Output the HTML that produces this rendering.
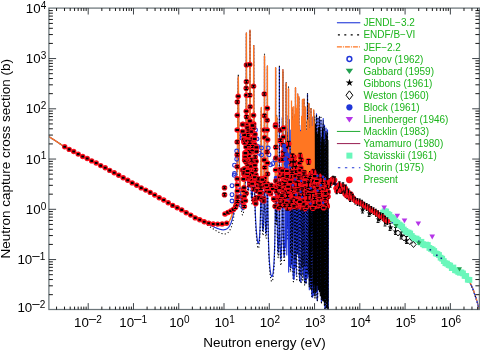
<!DOCTYPE html><html><head><meta charset="utf-8"><title>Neutron capture cross section</title><style>html,body{margin:0;padding:0;background:#fff}svg{display:block}</style></head><body><svg width="480" height="350" viewBox="0 0 480 350">
<rect width="480" height="350" fill="#fff"/>
<defs><clipPath id="c"><rect x="48.9" y="8.1" width="431.1" height="301.4"/></clipPath></defs>
<g clip-path="url(#c)" fill="none" stroke-linejoin="round">
<path d="M48.90 136.59L49.15 136.74L49.40 136.90L49.65 137.06L49.90 137.22L50.15 137.39L50.40 137.55L50.65 137.71L50.90 137.87L51.15 138.03L51.40 138.19L51.65 138.35L51.90 138.51L52.15 138.67L52.40 138.83L52.65 138.99L52.90 139.15L53.15 139.31L53.40 139.47L53.65 139.63L53.90 139.79L54.15 139.95L54.40 140.11L54.65 140.27L54.90 140.43L55.15 140.59L55.40 140.75L55.65 140.91L55.90 141.07L56.15 141.23L56.40 141.40L56.65 141.57L56.90 141.74L57.15 141.91L57.40 142.08L57.65 142.25L57.90 142.42L58.15 142.59L58.40 142.76L58.65 142.93L58.90 143.10L59.15 143.27L59.40 143.44L59.65 143.60L59.90 143.77L60.15 143.94L60.40 144.11L60.65 144.28L60.90 144.45L61.15 144.62L61.40 144.79L61.65 144.96L61.90 145.13L62.15 145.30L62.40 145.47L62.65 145.64L62.90 145.81L63.15 145.97L63.40 146.14L63.65 146.31L63.90 146.48L64.15 146.65L64.40 146.82L64.65 146.99L64.90 147.16L65.15 147.31L65.40 147.44L65.65 147.56L65.90 147.69L66.15 147.82L66.40 147.95L66.65 148.08L66.90 148.21L67.15 148.34L67.40 148.47L67.65 148.60L67.90 148.73L68.15 148.86L68.40 148.99L68.65 149.12L68.90 149.25L69.15 149.38L69.40 149.51L69.65 149.64L69.90 149.77L70.15 149.90L70.40 150.03L70.65 150.16L70.90 150.29L71.15 150.42L71.40 150.55L71.65 150.68L71.90 150.81L72.15 150.94L72.40 151.07L72.65 151.20L72.90 151.33L73.15 151.46L73.40 151.59L73.65 151.72L73.90 151.85L74.15 151.98L74.40 152.11L74.65 152.24L74.90 152.36L75.15 152.49L75.40 152.62L75.65 152.75L75.90 152.88L76.15 153.01L76.40 153.14L76.65 153.27L76.90 153.40L77.15 153.53L77.40 153.66L77.65 153.79L77.90 153.92L78.15 154.05L78.40 154.18L78.65 154.31L78.90 154.44L79.15 154.57L79.40 154.70L79.65 154.83L79.90 154.96L80.15 155.09L80.40 155.22L80.65 155.35L80.90 155.48L81.15 155.61L81.40 155.74L81.65 155.87L81.90 156.00L82.15 156.13L82.40 156.26L82.65 156.39L82.90 156.52L83.15 156.65L83.40 156.78L83.65 156.90L83.90 157.03L84.15 157.16L84.40 157.29L84.65 157.42L84.90 157.55L85.15 157.68L85.40 157.81L85.65 157.94L85.90 158.07L86.15 158.20L86.40 158.33L86.65 158.46L86.90 158.59L87.15 158.72L87.40 158.85L87.65 158.98L87.90 159.11L88.15 159.24L88.40 159.37L88.65 159.50L88.90 159.63L89.15 159.76L89.40 159.89L89.65 160.02L89.90 160.15L90.15 160.28L90.40 160.41L90.65 160.54L90.90 160.67L91.15 160.80L91.40 160.93L91.65 161.06L91.90 161.19L92.15 161.32L92.40 161.45L92.65 161.58L92.90 161.72L93.15 161.85L93.40 161.98L93.65 162.11L93.90 162.24L94.15 162.37L94.40 162.50L94.65 162.63L94.90 162.76L95.15 162.89L95.40 163.02L95.65 163.15L95.90 163.28L96.15 163.41L96.40 163.54L96.65 163.68L96.90 163.81L97.15 163.94L97.40 164.07L97.65 164.20L97.90 164.33L98.15 164.46L98.40 164.59L98.65 164.72L98.90 164.85L99.15 164.98L99.40 165.11L99.65 165.24L99.90 165.37L100.15 165.50L100.40 165.64L100.65 165.77L100.90 165.90L101.15 166.03L101.40 166.16L101.65 166.29L101.90 166.42L102.15 166.55L102.40 166.68L102.65 166.81L102.90 166.94L103.15 167.07L103.40 167.20L103.65 167.33L103.90 167.46L104.15 167.59L104.40 167.73L104.65 167.86L104.90 167.99L105.15 168.12L105.40 168.25L105.65 168.38L105.90 168.51L106.15 168.64L106.40 168.77L106.65 168.90L106.90 169.03L107.15 169.16L107.40 169.29L107.65 169.42L107.90 169.55L108.15 169.68L108.40 169.82L108.65 169.95L108.90 170.08L109.15 170.21L109.40 170.34L109.65 170.47L109.90 170.60L110.15 170.73L110.40 170.86L110.65 170.99L110.90 171.12L111.15 171.25L111.40 171.38L111.65 171.51L111.90 171.64L112.15 171.77L112.40 171.90L112.65 172.04L112.90 172.17L113.15 172.30L113.40 172.43L113.65 172.56L113.90 172.69L114.15 172.82L114.40 172.95L114.65 173.08L114.90 173.21L115.15 173.35L115.40 173.48L115.65 173.62L115.90 173.76L116.15 173.90L116.40 174.04L116.65 174.18L116.90 174.32L117.15 174.45L117.40 174.59L117.65 174.73L117.90 174.87L118.15 175.01L118.40 175.15L118.65 175.28L118.90 175.42L119.15 175.56L119.40 175.70L119.65 175.84L119.90 175.98L120.15 176.12L120.40 176.25L120.65 176.39L120.90 176.53L121.15 176.67L121.40 176.81L121.65 176.95L121.90 177.08L122.15 177.22L122.40 177.36L122.65 177.50L122.90 177.64L123.15 177.78L123.40 177.92L123.65 178.05L123.90 178.19L124.15 178.33L124.40 178.47L124.65 178.61L124.90 178.75L125.15 178.88L125.40 179.02L125.65 179.16L125.90 179.30L126.15 179.44L126.40 179.58L126.65 179.71L126.90 179.85L127.15 179.99L127.40 180.13L127.65 180.27L127.90 180.41L128.15 180.54L128.40 180.68L128.65 180.82L128.90 180.96L129.15 181.10L129.40 181.24L129.65 181.37L129.90 181.51L130.15 181.65L130.40 181.79L130.65 181.93L130.90 182.07L131.15 182.20L131.40 182.34L131.65 182.48L131.90 182.62L132.15 182.76L132.40 182.90L132.65 183.03L132.90 183.17L133.15 183.31L133.40 183.45L133.65 183.59L133.90 183.73L134.15 183.86L134.40 184.00L134.65 184.14L134.90 184.28L135.15 184.42L135.40 184.55L135.65 184.69L135.90 184.83L136.15 184.97L136.40 185.11L136.65 185.24L136.90 185.38L137.15 185.52L137.40 185.66L137.65 185.80L137.90 185.94L138.15 186.07L138.40 186.21L138.65 186.35L138.90 186.49L139.15 186.63L139.40 186.76L139.65 186.90L139.90 187.04L140.15 187.18L140.40 187.32L140.65 187.45L140.90 187.59L141.15 187.73L141.40 187.87L141.65 188.01L141.90 188.14L142.15 188.28L142.40 188.42L142.65 188.56L142.90 188.70L143.15 188.83L143.40 188.97L143.65 189.11L143.90 189.25L144.15 189.38L144.40 189.52L144.65 189.66L144.90 189.80L145.15 189.94L145.40 190.07L145.65 190.21L145.90 190.35L146.15 190.49L146.40 190.63L146.65 190.76L146.90 190.90L147.15 191.04L147.40 191.18L147.65 191.31L147.90 191.45L148.15 191.59L148.40 191.73L148.65 191.86L148.90 192.00L149.15 192.14L149.40 192.28L149.65 192.41L149.90 192.55L150.15 192.69L150.40 192.83L150.65 192.97L150.90 193.10L151.15 193.24L151.40 193.38L151.65 193.52L151.90 193.65L152.15 193.79L152.40 193.93L152.65 194.06L152.90 194.20L153.15 194.34L153.40 194.48L153.65 194.61L153.90 194.75L154.15 194.89L154.40 195.03L154.65 195.16L154.90 195.30L155.15 195.44L155.40 195.58L155.65 195.71L155.90 195.85L156.15 195.99L156.40 196.12L156.65 196.26L156.90 196.40L157.15 196.54L157.40 196.67L157.65 196.81L157.90 196.95L158.15 197.08L158.40 197.22L158.65 197.36L158.90 197.49L159.15 197.63L159.40 197.77L159.65 197.91L159.90 198.04L160.15 198.18L160.40 198.32L160.65 198.45L160.90 198.59L161.15 198.73L161.40 198.86L161.65 199.00L161.90 199.14L162.15 199.27L162.40 199.41L162.65 199.55L162.90 199.68L163.15 199.82L163.40 199.96L163.65 200.09L163.90 200.23L164.15 200.37L164.40 200.50L164.65 200.64L164.90 200.78L165.15 200.91L165.40 201.05L165.65 201.18L165.90 201.32L166.15 201.46L166.40 201.59L166.65 201.73L166.90 201.87L167.15 202.00L167.40 202.14L167.65 202.28L167.90 202.41L168.15 202.55L168.40 202.68L168.65 202.82L168.90 202.96L169.15 203.09L169.40 203.23L169.65 203.36L169.90 203.50L170.15 203.64L170.40 203.77L170.65 203.91L170.90 204.04L171.15 204.18L171.40 204.31L171.65 204.45L171.90 204.59L172.15 204.72L172.40 204.86L172.65 204.99L172.90 205.13L173.15 205.26L173.40 205.40L173.65 205.53L173.90 205.67L174.15 205.81L174.40 205.94L174.65 206.08L174.90 206.21L175.15 206.35L175.40 206.48L175.65 206.62L175.90 206.75L176.15 206.89L176.40 207.02L176.65 207.16L176.90 207.29L177.15 207.43L177.40 207.56L177.65 207.70L177.90 207.83L178.15 207.97L178.40 208.10L178.65 208.24L178.90 208.37L179.15 208.51L179.40 208.64L179.65 208.78L179.90 208.91L180.15 209.05L180.40 209.18L180.65 209.32L180.90 209.45L181.15 209.58L181.40 209.72L181.65 209.85L181.90 209.99L182.15 210.12L182.40 210.26L182.65 210.39L182.90 210.53L183.15 210.66L183.40 210.79L183.65 210.93L183.90 211.06L184.15 211.20L184.40 211.33L184.65 211.47L184.90 211.60L185.15 211.73L185.40 211.87L185.65 212.00L185.90 212.14L186.15 212.27L186.40 212.40L186.65 212.54L186.90 212.67L187.15 212.81L187.40 212.94L187.65 213.07L187.90 213.21L188.15 213.34L188.40 213.47L188.65 213.61L188.90 213.74L189.15 213.88L189.40 214.01L189.65 214.14L189.90 214.28L190.15 214.41L190.40 214.54L190.65 214.68L190.90 214.81L191.15 214.94L191.40 215.08L191.65 215.21L191.90 215.34L192.15 215.48L192.40 215.61L192.65 215.74L192.90 215.88L193.15 216.01L193.40 216.14L193.65 216.28L193.90 216.41L194.15 216.54L194.40 216.68L194.65 216.81L194.90 216.94L195.15 217.08L195.40 217.21L195.65 217.34L195.90 217.48L196.15 217.61L196.40 217.74L196.65 217.88L196.90 218.01L197.15 218.14L197.40 218.28L197.65 218.41L197.90 218.54L198.15 218.68L198.40 218.81L198.65 218.94L198.90 219.08L199.15 219.21L199.40 219.34L199.65 219.48L199.90 219.61L200.15 219.74L200.40 219.87L200.65 220.01L200.90 220.14L201.15 220.27L201.40 220.41L201.65 220.54L201.90 220.67L202.15 220.81L202.40 220.94L202.65 221.07L202.90 221.20L203.15 221.34L203.40 221.47L203.65 221.60L203.90 221.74L204.15 221.87L204.40 222.00L204.65 222.13L204.90 222.27L205.15 222.40L205.40 222.53L205.65 222.66L205.90 222.79L206.15 222.93L206.40 223.06L206.65 223.19L206.90 223.32L207.15 223.45L207.40 223.58L207.65 223.72L207.90 223.85L208.15 223.98L208.40 224.11L208.65 224.24L208.90 224.37L209.15 224.50L209.40 224.63L209.65 224.76L209.90 224.89L210.15 225.01L210.40 225.14L210.65 225.27L210.90 225.40L211.15 225.52L211.40 225.65L211.65 225.78L211.90 225.90L212.15 226.03L212.40 226.15L212.65 226.27L212.90 226.40L213.15 226.52L213.40 226.64L213.65 226.76L213.90 226.88L214.15 227.00L214.40 227.12L214.65 227.23L214.90 227.35L215.15 227.46L215.40 227.57L215.65 227.69L215.90 227.80L216.15 227.90L216.40 228.01L216.65 228.12L216.90 228.22L217.15 228.32L217.40 228.42L217.65 228.52L217.90 228.61L218.15 228.71L218.40 228.80L218.65 228.88L218.90 228.97L219.15 229.05L219.40 229.13L219.65 229.21L219.90 229.28L220.15 229.35L220.40 229.41L220.65 229.47L220.90 229.53L221.15 229.58L221.40 229.63L221.65 229.67L221.90 229.70L222.15 229.74L222.40 229.76L222.65 229.78L222.90 229.79L223.15 229.80L223.40 229.80L223.65 229.79L223.90 229.77L224.15 229.75L224.40 229.71L224.65 229.67L224.90 229.61L225.15 229.55L225.40 229.47L225.65 229.39L225.90 229.29L226.15 229.17L226.40 229.05L226.65 228.91L226.90 228.75L227.15 228.58L227.40 228.38L227.65 228.18L227.90 227.95L228.15 227.70L228.40 227.43L228.65 227.13L228.90 226.81L229.15 226.46L229.40 226.09L229.65 225.68L229.90 225.25L230.15 224.77L230.40 224.26L230.65 223.71L230.90 223.12L231.15 222.48L231.40 221.79L231.65 221.04L231.90 220.24L232.15 219.37L232.40 218.43L232.65 217.42L232.90 216.32L233.15 215.12L233.40 213.83L233.65 212.42L233.90 210.88L234.15 209.20L234.40 207.35L234.65 205.33L234.90 203.09L235.15 200.61L235.40 197.84L235.65 194.74L235.90 191.24L236.15 187.25L236.40 182.66L236.65 177.29L236.90 170.91L237.15 163.13L237.40 153.32L237.65 140.27L237.90 121.43L238.00 111.14L238.15 91.63L238.23 81.12L238.30 76.99L238.37 81.23L238.40 84.91L238.45 91.96L238.60 112.00L238.65 117.58L238.90 138.97L239.15 153.67L239.40 164.72L239.65 173.46L239.90 180.61L240.15 186.57L240.40 191.58L240.65 195.81L240.90 199.37L241.15 202.34L241.40 204.77L241.65 206.71L241.90 208.18L242.15 209.20L242.40 209.80L242.65 209.96L242.90 209.71L243.15 209.02L243.40 207.88L243.65 206.28L243.90 204.15L244.15 201.45L244.40 198.07L244.65 193.89L244.90 188.69L245.15 182.14L245.40 173.70L245.65 162.32L245.90 145.68L246.10 124.25L246.15 116.57L246.25 95.34L246.33 66.30L246.40 33.00L246.47 66.50L246.55 95.82L246.65 117.37L246.70 125.19L246.90 147.12L247.15 164.07L247.40 175.26L247.65 182.79L247.90 187.51L248.15 189.76L248.40 189.66L248.65 187.15L248.90 181.99L249.15 173.58L249.40 160.45L249.65 138.43L249.70 131.96L249.85 102.82L249.90 86.20L249.93 72.38L250.00 30.30L250.07 72.59L250.15 103.30L250.30 132.97L250.40 145.35L250.65 165.89L250.90 178.94L251.15 187.85L251.40 193.87L251.65 197.50L251.90 198.94L252.15 198.17L252.40 195.05L252.65 189.22L252.90 179.92L253.15 165.41L253.40 140.32L253.40 140.32L253.55 111.35L253.63 81.79L253.65 70.81L253.70 45.70L253.77 82.00L253.85 111.84L253.90 123.97L254.00 141.37L254.15 158.91L254.40 177.95L254.65 190.92L254.90 200.66L255.15 208.35L255.40 214.66L255.65 219.93L255.90 224.41L256.15 228.25L256.40 231.55L256.65 234.39L256.90 236.82L257.15 238.86L257.40 240.53L257.65 241.84L257.90 242.77L258.15 243.32L258.40 243.44L258.65 243.09L258.90 242.21L259.15 240.69L259.40 238.41L259.65 235.19L259.90 230.74L260.15 224.65L260.40 216.19L260.65 203.96L260.90 184.63L261.00 173.01L261.15 146.30L261.15 146.30L261.23 123.67L261.30 107.98L261.37 123.82L261.40 133.22L261.45 146.73L261.60 173.92L261.65 180.27L261.90 202.35L262.15 215.62L262.40 223.99L262.65 228.87L262.90 230.83L263.15 230.02L263.40 226.29L263.65 219.04L263.90 206.79L264.15 185.32L264.20 178.91L264.35 149.57L264.40 132.41L264.43 117.59L264.50 56.00L264.57 117.82L264.65 150.07L264.80 179.90L264.90 192.11L265.15 211.85L265.40 223.54L265.65 230.44L265.90 233.62L266.15 233.35L266.40 229.43L266.65 221.08L266.90 206.22L267.10 185.41L267.15 177.74L267.25 156.08L267.33 124.26L267.40 66.00L267.47 124.49L267.55 156.59L267.65 178.64L267.70 186.51L267.90 208.40L268.15 225.30L268.40 236.80L268.65 245.29L268.90 251.86L269.15 257.08L269.40 261.31L269.65 264.77L269.90 267.63L270.15 269.98L270.40 271.91L270.65 273.46L270.90 274.68L271.15 275.59L271.40 276.20L271.65 276.54L271.90 276.59L272.15 276.37L272.40 275.84L272.65 274.99L272.90 273.78L273.15 272.17L273.40 270.09L273.65 267.44L273.90 264.07L274.15 259.76L274.40 254.16L274.65 246.63L274.90 235.95L275.15 219.21L275.30 202.90L275.40 186.03L275.45 173.87L275.53 141.60L275.60 67.80L275.65 127.83L275.67 141.81L275.75 174.19L275.90 202.47L275.90 202.47L276.15 219.54L276.40 213.54L276.50 204.20L276.65 177.52L276.65 177.52L276.73 149.32L276.80 117.97L276.87 149.54L276.90 162.27L276.95 178.17L277.10 206.51L277.15 212.75L277.40 233.37L277.65 244.65L277.90 250.69L278.15 252.72L278.40 250.88L278.65 244.45L278.90 231.23L279.10 211.37L279.15 203.86L279.25 182.32L279.33 149.80L279.40 67.00L279.47 150.03L279.55 182.82L279.65 204.70L279.70 212.38L279.90 232.98L280.15 247.27L280.40 255.07L280.65 258.76L280.90 259.33L281.15 257.10L281.40 251.84L281.65 242.45L281.90 225.52L281.99 215.88L282.14 188.60L282.15 185.43L282.22 158.93L282.29 117.48L282.36 158.99L282.40 176.53L282.44 187.71L282.59 205.25L282.60 205.27L282.65 203.26L282.75 187.85L282.83 157.09L282.90 69.69L282.97 157.46L283.05 189.68L283.15 210.57L283.20 217.74L283.40 236.42L283.65 248.75L283.90 254.89L284.15 256.94L284.40 255.56L284.65 250.55L284.90 240.34L285.13 221.66L285.15 218.79L285.28 195.37L285.36 166.51L285.40 140.50L285.43 128.82L285.50 166.59L285.58 194.79L285.65 208.08L285.73 215.02L285.90 212.63L286.04 192.94L286.05 191.09L286.13 162.38L286.15 149.19L286.19 92.62L286.20 83.17L286.27 152.57L286.27 152.80L286.34 134.84L286.35 135.96L286.40 161.28L286.41 166.96L286.49 192.78L286.50 194.59L286.64 215.19L286.65 215.90L286.90 220.70L286.92 219.35L287.07 198.19L287.15 171.50L287.15 170.26L287.22 132.71L287.29 170.50L287.37 198.90L287.40 205.10L287.52 221.82L287.65 227.67L287.83 221.56L287.90 213.64L287.98 198.99L288.06 169.66L288.13 115.76L288.15 131.87L288.20 169.28L288.20 170.23L288.28 193.62L288.35 193.67L288.40 182.03L288.43 169.65L288.43 168.66L288.50 88.97L288.57 169.48L288.65 200.21L288.80 224.15L288.90 230.66L289.11 227.02L289.15 223.15L289.26 204.77L289.34 178.81L289.40 153.62L289.41 152.73L289.48 179.08L289.56 205.85L289.65 223.98L289.71 232.25L289.90 249.29L290.15 260.91L290.40 266.48L290.65 267.97L290.90 265.63L291.15 258.58L291.40 243.96L291.50 234.04L291.65 209.36L291.65 209.10L291.73 183.73L291.80 158.82L291.80 158.81L291.87 182.29L291.90 190.82L291.95 196.20L291.95 196.18L292.03 176.39L292.10 107.95L292.10 108.07L292.15 164.24L292.17 177.78L292.25 208.67L292.40 235.45L292.40 235.45L292.65 256.91L292.90 268.40L293.15 275.02L293.40 278.36L293.65 279.02L293.90 277.01L294.15 271.71L294.40 261.24L294.62 242.53L294.65 239.13L294.77 215.65L294.85 184.34L294.90 143.28L294.92 114.90L294.99 184.39L295.07 214.49L295.15 226.90L295.20 229.72L295.22 229.76L295.35 214.94L295.40 199.40L295.43 184.74L295.50 87.99L295.57 185.09L295.65 216.70L295.80 241.69L295.90 248.90L296.15 247.59L296.21 242.96L296.36 218.78L296.40 206.71L296.44 188.24L296.51 127.41L296.58 188.43L296.65 216.11L296.66 218.97L296.81 241.75L296.90 245.95L297.07 240.88L297.15 232.24L297.22 218.76L297.30 189.03L297.37 119.13L297.40 154.87L297.44 188.39L297.52 210.39L297.55 210.42L297.63 188.29L297.65 174.93L297.67 152.42L297.70 94.18L297.77 189.30L297.85 219.10L297.90 228.68L298.00 237.96L298.08 238.44L298.15 233.49L298.23 221.23L298.31 194.02L298.38 154.10L298.40 164.92L298.45 193.93L298.50 213.41L298.53 218.87L298.65 218.88L298.65 218.88L298.68 213.18L298.73 191.60L298.80 96.99L298.87 192.27L298.90 207.19L298.95 223.76L299.10 250.24L299.15 255.69L299.40 273.10L299.65 280.66L299.90 280.50L300.15 280.92L300.40 281.33L300.65 281.75L300.90 282.17L301.15 275.88L301.39 256.87L301.40 256.01L301.54 230.40L301.62 198.93L301.65 178.58L301.69 117.28L301.76 199.02L301.84 229.56L301.90 240.41L301.99 248.13L302.11 245.95L302.15 242.33L302.20 235.97L302.26 224.99L302.34 196.93L302.35 189.60L302.40 131.37L302.41 124.31L302.43 153.80L302.48 150.61L302.50 99.87L302.56 189.47L302.57 197.05L302.65 226.08L302.71 237.97L302.80 250.68L302.90 259.36L303.15 266.37L303.36 256.72L303.40 251.88L303.51 233.28L303.59 203.25L303.65 138.23L303.66 135.88L303.70 185.71L303.73 202.74L303.81 226.18L303.85 226.25L303.90 215.77L303.93 202.54L303.96 184.53L304.00 99.29L304.07 203.54L304.15 234.75L304.30 260.49L304.40 269.78L304.65 281.55L304.90 282.52L305.15 270.58L305.20 265.59L305.35 239.23L305.40 222.37L305.43 207.26L305.50 107.50L305.57 207.48L305.65 239.70L305.80 266.36L305.90 275.27L306.15 283.31L306.40 277.50L306.54 266.51L306.65 251.35L306.69 241.50L306.77 211.06L306.84 150.14L306.90 202.24L306.91 211.12L306.99 240.50L307.14 256.92L307.15 256.98L307.20 256.11L307.34 239.02L307.35 237.57L307.40 222.91L307.43 209.12L307.49 117.34L307.50 93.97L307.57 198.13L307.57 198.22L307.64 143.97L307.65 147.85L307.71 210.48L307.79 239.06L307.80 240.59L307.90 257.22L307.94 261.82L308.15 271.10L308.35 263.19L308.40 258.44L308.50 241.91L308.50 241.16L308.58 213.28L308.65 159.58L308.65 159.58L308.65 159.00L308.72 202.11L308.73 201.88L308.80 103.77L308.80 110.23L308.87 212.49L308.90 226.56L308.95 241.92L308.95 242.71L309.10 265.61L309.15 269.98L309.40 276.36L309.50 271.02L309.65 248.36L309.65 247.89L309.73 216.80L309.80 130.27L309.87 217.06L309.90 231.25L309.95 248.64L310.10 273.82L310.15 278.10L310.40 285.67L310.65 274.80L310.70 270.04L310.81 253.45L310.85 245.71L310.90 230.40L310.93 216.51L310.96 189.02L311.00 109.25L311.04 192.91L311.07 193.13L311.11 121.94L311.15 189.77L311.18 217.10L311.26 246.62L311.30 254.60L311.40 270.51L311.41 272.32L311.65 291.92L311.90 296.44L312.15 296.79L312.40 297.07L312.65 297.25L312.90 281.27L312.90 280.87L313.05 255.54L313.13 224.54L313.15 207.87L313.20 150.12L313.27 224.50L313.35 253.50L313.40 261.64L313.50 261.66L313.55 253.62L313.63 224.65L313.65 210.59L313.70 110.50L313.77 224.95L313.85 254.87L313.90 263.82L313.97 269.12L314.00 269.30L314.12 256.01L314.15 246.99L314.20 226.53L314.27 145.49L314.34 226.93L314.40 253.38L314.42 258.16L314.57 283.12L314.65 289.93L314.90 295.27L315.09 285.13L315.15 277.88L315.24 260.51L315.32 229.09L315.39 132.76L315.40 156.83L315.46 229.29L315.54 260.77L315.65 280.50L315.69 284.43L315.90 290.31L316.06 281.21L316.15 270.29L316.20 260.91L316.21 258.11L316.29 229.19L316.35 166.20L316.36 146.91L316.40 203.13L316.43 216.03L316.43 216.01L316.50 113.97L316.51 158.16L316.57 229.43L316.65 259.03L316.66 261.93L316.80 283.75L316.90 292.80L317.15 300.42L317.40 300.60L317.65 292.42L317.70 287.89L317.85 264.03L317.90 248.32L317.93 233.86L317.96 207.36L318.00 117.99L318.07 232.35L318.11 245.87L318.15 246.07L318.19 233.25L318.26 164.86L318.30 210.43L318.33 235.19L318.40 261.06L318.41 264.28L318.56 284.31L318.65 287.04L318.73 284.96L318.88 265.83L318.90 261.54L318.96 236.55L319.03 151.11L319.10 236.33L319.15 255.17L319.18 262.29L319.20 264.60L319.23 266.96L319.33 259.85L319.35 256.63L319.38 248.17L319.40 242.72L319.43 229.55L319.46 204.89L319.50 116.66L319.53 151.36L319.57 206.00L319.60 230.24L319.65 249.52L319.68 259.00L319.80 279.15L319.83 282.74L319.90 287.84L320.09 289.07L320.15 284.00L320.24 269.87L320.32 240.27L320.39 167.82L320.40 185.23L320.46 240.46L320.54 270.04L320.65 285.42L320.69 286.59L320.70 286.64L320.85 270.91L320.90 255.60L320.93 241.01L321.00 120.00L321.07 241.35L321.15 272.44L321.30 295.59L321.40 301.55L321.65 298.29L321.68 295.73L321.83 273.47L321.90 251.03L321.91 243.28L321.98 152.00L322.05 243.15L322.13 268.91L322.13 270.45L322.15 272.89L322.28 270.45L322.28 268.94L322.36 243.53L322.40 203.81L322.43 141.79L322.50 243.82L322.58 271.65L322.65 280.15L322.65 280.38L322.73 279.72L322.80 270.93L322.88 243.87L322.90 226.57L322.95 124.66L323.02 242.17L323.05 252.94L323.10 252.71L323.10 252.54L323.13 241.88L323.15 229.65L323.20 118.69L323.25 225.65L323.25 226.41L323.27 239.83L323.33 240.34L323.35 227.42L323.40 157.27L323.40 160.24L323.47 244.86L323.50 259.35L323.55 271.44L323.58 276.71L323.65 280.69L323.70 278.42L323.73 273.77L323.81 246.75L323.88 131.40L323.90 193.30L323.95 247.26L324.03 276.82L324.15 292.52L324.18 293.63L324.20 293.80L324.35 278.60L324.40 263.37L324.43 248.78L324.50 125.00L324.57 249.17L324.65 280.64L324.80 305.82L324.90 309.12L325.15 309.40L325.40 309.40L325.65 309.40L325.70 307.47L325.85 283.06L325.90 266.91L325.93 252.12L326.00 128.00L326.07 251.96L326.14 277.38L326.15 279.73L326.29 279.83L326.30 277.53L326.37 252.73L326.40 228.30L326.44 162.67L326.51 253.07L326.59 281.53L326.65 290.24L326.66 290.74L326.74 290.88L326.81 281.93L326.89 253.71L326.90 245.01L326.96 140.43L327.03 253.84L327.11 281.48L327.15 287.51L327.20 289.79L327.21 289.78L327.26 287.47L327.35 272.66L327.36 271.00L327.40 256.99L327.43 242.60L327.44 238.60L327.50 129.93L327.51 146.95L327.57 238.95L327.58 242.98L327.65 272.36L327.66 274.16L327.80 299.33L327.81 300.04L327.90 307.28L328.04 307.91L328.15 296.47L328.19 288.32L328.20 180.50L340.00 188.50L352.00 197.00L367.00 205.50L382.00 216.00L394.00 223.50L407.00 234.00L421.00 243.50L435.00 251.50L448.00 263.50L459.00 271.00L466.00 276.00L469.50 281.50L473.00 289.00L476.00 298.00L479.40 309.50" stroke="#2036d8" stroke-width="1.2"/>
<path d="M48.90 136.59L49.15 136.74L49.40 136.90L49.65 137.06L49.90 137.22L50.15 137.39L50.40 137.55L50.65 137.71L50.90 137.87L51.15 138.03L51.40 138.19L51.65 138.35L51.90 138.51L52.15 138.67L52.40 138.83L52.65 138.99L52.90 139.15L53.15 139.31L53.40 139.47L53.65 139.63L53.90 139.79L54.15 139.95L54.40 140.11L54.65 140.27L54.90 140.43L55.15 140.59L55.40 140.75L55.65 140.91L55.90 141.07L56.15 141.23L56.40 141.40L56.65 141.57L56.90 141.74L57.15 141.91L57.40 142.08L57.65 142.25L57.90 142.42L58.15 142.59L58.40 142.76L58.65 142.93L58.90 143.10L59.15 143.27L59.40 143.44L59.65 143.60L59.90 143.77L60.15 143.94L60.40 144.11L60.65 144.28L60.90 144.45L61.15 144.62L61.40 144.79L61.65 144.96L61.90 145.13L62.15 145.30L62.40 145.47L62.65 145.64L62.90 145.81L63.15 145.98L63.40 146.14L63.65 146.31L63.90 146.48L64.15 146.65L64.40 146.82L64.65 146.99L64.90 147.16L65.15 147.31L65.40 147.44L65.65 147.57L65.90 147.69L66.15 147.82L66.40 147.95L66.65 148.08L66.90 148.21L67.15 148.34L67.40 148.47L67.65 148.60L67.90 148.73L68.15 148.86L68.40 148.99L68.65 149.12L68.90 149.25L69.15 149.38L69.40 149.51L69.65 149.64L69.90 149.77L70.15 149.90L70.40 150.03L70.65 150.16L70.90 150.29L71.15 150.42L71.40 150.55L71.65 150.68L71.90 150.81L72.15 150.94L72.40 151.07L72.65 151.20L72.90 151.33L73.15 151.46L73.40 151.59L73.65 151.72L73.90 151.85L74.15 151.98L74.40 152.11L74.65 152.24L74.90 152.37L75.15 152.49L75.40 152.62L75.65 152.75L75.90 152.88L76.15 153.01L76.40 153.14L76.65 153.27L76.90 153.40L77.15 153.53L77.40 153.66L77.65 153.79L77.90 153.92L78.15 154.05L78.40 154.18L78.65 154.31L78.90 154.44L79.15 154.57L79.40 154.70L79.65 154.83L79.90 154.96L80.15 155.09L80.40 155.22L80.65 155.35L80.90 155.48L81.15 155.61L81.40 155.74L81.65 155.87L81.90 156.00L82.15 156.13L82.40 156.26L82.65 156.39L82.90 156.52L83.15 156.65L83.40 156.78L83.65 156.91L83.90 157.04L84.15 157.16L84.40 157.29L84.65 157.42L84.90 157.55L85.15 157.68L85.40 157.81L85.65 157.94L85.90 158.07L86.15 158.20L86.40 158.33L86.65 158.46L86.90 158.59L87.15 158.72L87.40 158.85L87.65 158.98L87.90 159.11L88.15 159.24L88.40 159.37L88.65 159.50L88.90 159.63L89.15 159.76L89.40 159.89L89.65 160.02L89.90 160.15L90.15 160.28L90.40 160.41L90.65 160.54L90.90 160.67L91.15 160.80L91.40 160.93L91.65 161.06L91.90 161.19L92.15 161.32L92.40 161.45L92.65 161.59L92.90 161.72L93.15 161.85L93.40 161.98L93.65 162.11L93.90 162.24L94.15 162.37L94.40 162.50L94.65 162.63L94.90 162.76L95.15 162.89L95.40 163.02L95.65 163.15L95.90 163.28L96.15 163.42L96.40 163.55L96.65 163.68L96.90 163.81L97.15 163.94L97.40 164.07L97.65 164.20L97.90 164.33L98.15 164.46L98.40 164.59L98.65 164.72L98.90 164.85L99.15 164.98L99.40 165.11L99.65 165.24L99.90 165.38L100.15 165.51L100.40 165.64L100.65 165.77L100.90 165.90L101.15 166.03L101.40 166.16L101.65 166.29L101.90 166.42L102.15 166.55L102.40 166.68L102.65 166.81L102.90 166.94L103.15 167.07L103.40 167.20L103.65 167.34L103.90 167.47L104.15 167.60L104.40 167.73L104.65 167.86L104.90 167.99L105.15 168.12L105.40 168.25L105.65 168.38L105.90 168.51L106.15 168.64L106.40 168.77L106.65 168.90L106.90 169.03L107.15 169.16L107.40 169.30L107.65 169.43L107.90 169.56L108.15 169.69L108.40 169.82L108.65 169.95L108.90 170.08L109.15 170.21L109.40 170.34L109.65 170.47L109.90 170.60L110.15 170.73L110.40 170.86L110.65 170.99L110.90 171.12L111.15 171.25L111.40 171.39L111.65 171.52L111.90 171.65L112.15 171.78L112.40 171.91L112.65 172.04L112.90 172.17L113.15 172.30L113.40 172.43L113.65 172.56L113.90 172.69L114.15 172.82L114.40 172.95L114.65 173.08L114.90 173.21L115.15 173.35L115.40 173.49L115.65 173.63L115.90 173.76L116.15 173.90L116.40 174.04L116.65 174.18L116.90 174.32L117.15 174.46L117.40 174.60L117.65 174.73L117.90 174.87L118.15 175.01L118.40 175.15L118.65 175.29L118.90 175.43L119.15 175.57L119.40 175.70L119.65 175.84L119.90 175.98L120.15 176.12L120.40 176.26L120.65 176.40L120.90 176.54L121.15 176.67L121.40 176.81L121.65 176.95L121.90 177.09L122.15 177.23L122.40 177.37L122.65 177.51L122.90 177.64L123.15 177.78L123.40 177.92L123.65 178.06L123.90 178.20L124.15 178.34L124.40 178.47L124.65 178.61L124.90 178.75L125.15 178.89L125.40 179.03L125.65 179.17L125.90 179.31L126.15 179.44L126.40 179.58L126.65 179.72L126.90 179.86L127.15 180.00L127.40 180.14L127.65 180.27L127.90 180.41L128.15 180.55L128.40 180.69L128.65 180.83L128.90 180.97L129.15 181.11L129.40 181.24L129.65 181.38L129.90 181.52L130.15 181.66L130.40 181.80L130.65 181.94L130.90 182.07L131.15 182.21L131.40 182.35L131.65 182.49L131.90 182.63L132.15 182.77L132.40 182.90L132.65 183.04L132.90 183.18L133.15 183.32L133.40 183.46L133.65 183.60L133.90 183.73L134.15 183.87L134.40 184.01L134.65 184.15L134.90 184.29L135.15 184.43L135.40 184.56L135.65 184.70L135.90 184.84L136.15 184.98L136.40 185.12L136.65 185.26L136.90 185.39L137.15 185.53L137.40 185.67L137.65 185.81L137.90 185.95L138.15 186.09L138.40 186.22L138.65 186.36L138.90 186.50L139.15 186.64L139.40 186.78L139.65 186.92L139.90 187.05L140.15 187.19L140.40 187.33L140.65 187.47L140.90 187.61L141.15 187.74L141.40 187.88L141.65 188.02L141.90 188.16L142.15 188.30L142.40 188.44L142.65 188.57L142.90 188.71L143.15 188.85L143.40 188.99L143.65 189.13L143.90 189.26L144.15 189.40L144.40 189.54L144.65 189.68L144.90 189.82L145.15 189.95L145.40 190.09L145.65 190.23L145.90 190.37L146.15 190.51L146.40 190.64L146.65 190.78L146.90 190.92L147.15 191.06L147.40 191.20L147.65 191.33L147.90 191.47L148.15 191.61L148.40 191.75L148.65 191.89L148.90 192.02L149.15 192.16L149.40 192.30L149.65 192.44L149.90 192.58L150.15 192.71L150.40 192.85L150.65 192.99L150.90 193.13L151.15 193.27L151.40 193.40L151.65 193.54L151.90 193.68L152.15 193.82L152.40 193.96L152.65 194.09L152.90 194.23L153.15 194.37L153.40 194.51L153.65 194.64L153.90 194.78L154.15 194.92L154.40 195.06L154.65 195.20L154.90 195.33L155.15 195.47L155.40 195.61L155.65 195.75L155.90 195.88L156.15 196.02L156.40 196.16L156.65 196.30L156.90 196.44L157.15 196.57L157.40 196.71L157.65 196.85L157.90 196.99L158.15 197.12L158.40 197.26L158.65 197.40L158.90 197.54L159.15 197.67L159.40 197.81L159.65 197.95L159.90 198.09L160.15 198.22L160.40 198.36L160.65 198.50L160.90 198.64L161.15 198.77L161.40 198.91L161.65 199.05L161.90 199.19L162.15 199.33L162.40 199.46L162.65 199.60L162.90 199.74L163.15 199.88L163.40 200.01L163.65 200.15L163.90 200.29L164.15 200.43L164.40 200.56L164.65 200.70L164.90 200.84L165.15 200.98L165.40 201.11L165.65 201.25L165.90 201.39L166.15 201.52L166.40 201.66L166.65 201.80L166.90 201.94L167.15 202.07L167.40 202.21L167.65 202.35L167.90 202.49L168.15 202.62L168.40 202.76L168.65 202.90L168.90 203.04L169.15 203.17L169.40 203.31L169.65 203.45L169.90 203.59L170.15 203.72L170.40 203.86L170.65 204.00L170.90 204.14L171.15 204.27L171.40 204.41L171.65 204.55L171.90 204.69L172.15 204.82L172.40 204.96L172.65 205.10L172.90 205.24L173.15 205.37L173.40 205.51L173.65 205.65L173.90 205.79L174.15 205.92L174.40 206.06L174.65 206.20L174.90 206.34L175.15 206.47L175.40 206.61L175.65 206.75L175.90 206.89L176.15 207.02L176.40 207.16L176.65 207.30L176.90 207.44L177.15 207.57L177.40 207.71L177.65 207.85L177.90 207.99L178.15 208.12L178.40 208.26L178.65 208.40L178.90 208.54L179.15 208.68L179.40 208.81L179.65 208.95L179.90 209.09L180.15 209.23L180.40 209.37L180.65 209.50L180.90 209.64L181.15 209.78L181.40 209.92L181.65 210.06L181.90 210.20L182.15 210.33L182.40 210.47L182.65 210.61L182.90 210.75L183.15 210.89L183.40 211.03L183.65 211.17L183.90 211.30L184.15 211.44L184.40 211.58L184.65 211.72L184.90 211.86L185.15 212.00L185.40 212.14L185.65 212.28L185.90 212.42L186.15 212.56L186.40 212.70L186.65 212.84L186.90 212.98L187.15 213.12L187.40 213.26L187.65 213.40L187.90 213.54L188.15 213.68L188.40 213.82L188.65 213.96L188.90 214.10L189.15 214.24L189.40 214.38L189.65 214.52L189.90 214.66L190.15 214.80L190.40 214.94L190.65 215.09L190.90 215.23L191.15 215.37L191.40 215.51L191.65 215.65L191.90 215.80L192.15 215.94L192.40 216.08L192.65 216.22L192.90 216.37L193.15 216.51L193.40 216.65L193.65 216.80L193.90 216.94L194.15 217.09L194.40 217.23L194.65 217.38L194.90 217.52L195.15 217.66L195.40 217.81L195.65 217.96L195.90 218.10L196.15 218.25L196.40 218.39L196.65 218.54L196.90 218.69L197.15 218.83L197.40 218.98L197.65 219.13L197.90 219.28L198.15 219.42L198.40 219.57L198.65 219.72L198.90 219.87L199.15 220.02L199.40 220.17L199.65 220.32L199.90 220.47L200.15 220.62L200.40 220.77L200.65 220.92L200.90 221.07L201.15 221.22L201.40 221.38L201.65 221.53L201.90 221.68L202.15 221.84L202.40 221.99L202.65 222.14L202.90 222.30L203.15 222.45L203.40 222.61L203.65 222.76L203.90 222.92L204.15 223.07L204.40 223.23L204.65 223.39L204.90 223.54L205.15 223.70L205.40 223.86L205.65 224.02L205.90 224.18L206.15 224.34L206.40 224.50L206.65 224.65L206.90 224.81L207.15 224.97L207.40 225.14L207.65 225.30L207.90 225.46L208.15 225.62L208.40 225.78L208.65 225.94L208.90 226.10L209.15 226.27L209.40 226.43L209.65 226.59L209.90 226.75L210.15 226.92L210.40 227.08L210.65 227.24L210.90 227.40L211.15 227.57L211.40 227.73L211.65 227.89L211.90 228.06L212.15 228.22L212.40 228.38L212.65 228.54L212.90 228.70L213.15 228.87L213.40 229.03L213.65 229.19L213.90 229.35L214.15 229.51L214.40 229.67L214.65 229.82L214.90 229.98L215.15 230.14L215.40 230.29L215.65 230.45L215.90 230.60L216.15 230.75L216.40 230.90L216.65 231.05L216.90 231.20L217.15 231.35L217.40 231.49L217.65 231.63L217.90 231.77L218.15 231.91L218.40 232.04L218.65 232.18L218.90 232.30L219.15 232.43L219.40 232.56L219.65 232.68L219.90 232.79L220.15 232.90L220.40 233.01L220.65 233.12L220.90 233.22L221.15 233.31L221.40 233.40L221.65 233.49L221.90 233.57L222.15 233.64L222.40 233.71L222.65 233.77L222.90 233.82L223.15 233.87L223.40 233.91L223.65 233.94L223.90 233.96L224.15 233.97L224.40 233.97L224.65 233.97L224.90 233.95L225.15 233.92L225.40 233.88L225.65 233.82L225.90 233.76L226.15 233.67L226.40 233.58L226.65 233.47L226.90 233.34L227.15 233.19L227.40 233.03L227.65 232.84L227.90 232.64L228.15 232.41L228.40 232.16L228.65 231.89L228.90 231.59L229.15 231.26L229.40 230.90L229.65 230.51L229.90 230.09L230.15 229.63L230.40 229.13L230.65 228.60L230.90 228.01L231.15 227.38L231.40 226.70L231.65 225.96L231.90 225.16L232.15 224.30L232.40 223.36L232.65 222.35L232.90 221.25L233.15 220.06L233.40 218.76L233.65 217.35L233.90 215.81L234.15 214.12L234.40 212.28L234.65 210.24L234.90 208.00L235.15 205.51L235.40 202.74L235.65 199.63L235.90 196.12L236.15 192.12L236.40 187.51L236.65 182.12L236.90 175.71L237.15 167.90L237.40 158.01L237.65 144.80L237.90 125.45L238.00 114.62L238.15 92.90L238.23 79.81L238.30 74.11L238.37 79.92L238.40 84.68L238.45 93.26L238.60 115.51L238.65 121.40L238.90 143.46L239.15 158.36L239.40 169.49L239.65 178.28L239.90 185.45L240.15 191.43L240.40 196.46L240.65 200.70L240.90 204.28L241.15 207.26L241.40 209.70L241.65 211.64L241.90 213.12L242.15 214.14L242.40 214.74L242.65 214.91L242.90 214.65L243.15 213.96L243.40 212.82L243.65 211.20L243.90 209.07L244.15 206.36L244.40 202.98L244.65 198.79L244.90 193.58L245.15 187.03L245.40 178.58L245.65 167.19L245.90 150.53L246.10 129.07L246.15 121.38L246.25 100.03L246.33 70.46L246.40 34.35L246.47 70.66L246.55 100.51L246.65 122.17L246.70 130.01L246.90 151.98L247.15 168.94L247.40 180.13L247.65 187.67L247.90 192.40L248.15 194.65L248.40 194.55L248.65 192.04L248.90 186.87L249.15 178.45L249.40 165.32L249.65 143.27L249.70 136.79L249.85 107.53L249.90 90.73L249.93 76.59L250.00 30.21L250.07 76.81L250.15 108.02L250.30 137.80L250.40 150.20L250.65 170.75L250.90 183.82L251.15 192.74L251.40 198.76L251.65 202.39L251.90 203.83L252.15 203.06L252.40 199.93L252.65 194.09L252.90 184.79L253.15 170.27L253.40 145.14L253.40 145.14L253.55 116.00L253.63 85.80L253.65 74.24L253.70 45.62L253.77 86.01L253.85 116.50L253.90 128.72L254.00 146.19L254.15 163.76L254.40 182.82L254.65 195.80L254.90 205.54L255.15 213.25L255.40 219.56L255.65 224.84L255.90 229.33L256.15 233.17L256.40 236.48L256.65 239.33L256.90 241.76L257.15 243.81L257.40 245.48L257.65 246.79L257.90 247.73L258.15 248.28L258.40 248.40L258.65 248.04L258.90 247.15L259.15 245.63L259.40 243.34L259.65 240.10L259.90 235.65L260.15 229.54L260.40 221.07L260.65 208.81L260.90 189.43L261.00 177.76L261.15 150.72L261.15 150.72L261.23 127.24L261.30 110.09L261.37 127.40L261.40 137.26L261.45 151.16L261.60 178.67L261.65 185.06L261.90 207.20L262.15 220.49L262.40 228.87L262.65 233.76L262.90 235.72L263.15 234.92L263.40 231.18L263.65 223.92L263.90 211.67L264.15 190.18L264.20 183.76L264.35 154.36L264.40 137.09L264.43 122.10L264.50 53.65L264.57 122.32L264.65 154.86L264.80 184.75L264.90 196.98L265.15 216.72L265.40 228.42L265.65 235.33L265.90 238.51L266.15 238.25L266.40 234.32L266.65 225.96L266.90 211.09L267.10 190.27L267.15 182.60L267.25 160.91L267.33 128.96L267.40 68.14L267.47 129.18L267.55 161.42L267.65 183.50L267.70 191.38L267.90 213.27L268.15 230.18L268.40 241.69L268.65 250.19L268.90 256.77L269.15 262.00L269.40 266.24L269.65 269.71L269.90 272.58L270.15 274.94L270.40 276.87L270.65 278.43L270.90 279.65L271.15 280.56L271.40 281.18L271.65 281.51L271.90 281.57L272.15 281.34L272.40 280.81L272.65 279.95L272.90 278.74L273.15 277.13L273.40 275.04L273.65 272.38L273.90 269.00L274.15 264.68L274.40 259.06L274.65 251.52L274.90 240.84L275.15 224.09L275.30 207.77L275.40 190.88L275.45 178.71L275.53 146.34L275.60 68.59L275.65 132.47L275.67 146.55L275.75 179.04L275.90 207.34L275.90 207.34L276.15 224.41L276.40 218.37L276.50 208.99L276.65 182.01L276.65 182.01L276.73 152.71L276.80 115.68L276.87 152.93L276.90 166.33L276.95 182.66L277.10 211.30L277.15 217.56L277.40 238.24L277.65 249.55L277.90 255.62L278.15 257.67L278.40 255.83L278.65 249.39L278.90 236.14L279.10 216.25L279.15 208.73L279.25 187.17L279.33 154.54L279.40 64.95L279.47 154.77L279.55 187.67L279.65 209.58L279.70 217.28L279.90 237.95L280.15 252.41L280.40 260.46L280.65 264.53L280.90 265.65L281.15 264.23L281.40 260.26L281.65 253.17L281.90 241.30L282.14 220.18L282.15 219.14L282.29 193.23L282.37 163.48L282.40 145.86L282.44 119.05L282.51 163.33L282.59 190.34L282.60 191.87L282.65 197.51L282.74 191.85L282.75 190.30L282.83 161.57L282.90 71.60L282.97 162.13L283.05 194.10L283.15 214.69L283.20 221.76L283.40 240.32L283.65 252.88L283.90 259.45L284.15 262.03L284.40 261.33L284.65 257.30L284.90 248.89L285.15 232.15L285.20 226.40L285.35 200.16L285.40 185.67L285.43 170.99L285.50 130.69L285.57 171.05L285.65 198.49L285.65 199.33L285.80 217.87L285.90 216.87L286.05 197.13L286.11 176.59L286.13 168.00L286.15 154.44L286.20 82.16L286.26 161.77L286.27 165.13L286.34 168.49L286.35 166.13L286.40 141.13L286.41 138.39L286.48 172.65L286.50 179.92L286.56 198.90L286.65 213.40L286.71 219.06L286.84 220.75L286.90 216.62L286.99 202.27L287.07 174.36L287.14 134.15L287.15 136.72L287.21 174.68L287.29 203.68L287.40 223.76L287.44 228.28L287.65 240.19L287.90 236.83L288.05 225.53L288.15 212.44L288.20 202.29L288.20 201.54L288.28 172.97L288.35 115.17L288.35 114.53L288.40 154.84L288.42 161.96L288.43 161.81L288.50 86.41L288.50 88.72L288.57 172.61L288.65 202.10L288.65 202.86L288.80 226.23L288.90 233.98L289.15 233.06L289.17 231.91L289.32 209.34L289.40 182.26L289.40 180.00L289.47 151.95L289.54 182.53L289.62 210.41L289.65 218.55L289.77 237.06L289.90 250.14L290.15 263.59L290.40 269.98L290.65 271.87L290.90 269.68L291.15 262.52L291.40 247.24L291.48 238.94L291.63 213.60L291.65 208.83L291.71 186.73L291.78 156.46L291.80 160.54L291.85 185.69L291.90 199.87L291.93 203.25L291.95 203.04L292.03 181.37L292.08 132.36L292.10 108.56L292.15 168.87L292.17 182.57L292.25 213.65L292.40 240.49L292.40 240.49L292.65 261.80L292.90 272.98L293.15 279.12L293.40 281.71L293.65 281.12L293.90 276.88L294.15 267.15L294.38 247.74L294.40 245.59L294.53 220.38L294.61 188.70L294.65 159.01L294.68 116.47L294.75 188.87L294.83 220.30L294.90 234.23L294.98 244.14L295.15 247.36L295.20 244.43L295.35 221.22L295.40 204.76L295.43 189.78L295.50 87.88L295.57 190.03L295.65 221.91L295.80 247.14L295.90 254.19L296.15 251.11L296.19 248.03L296.34 223.68L296.40 201.74L296.42 192.87L296.49 128.16L296.56 193.09L296.64 224.05L296.65 227.28L296.79 248.16L296.90 254.70L297.15 249.13L297.19 245.67L297.34 222.62L297.40 203.76L297.42 193.32L297.49 118.61L297.55 184.41L297.56 189.90L297.63 189.74L297.64 184.12L297.65 178.34L297.70 96.26L297.77 193.41L297.79 203.92L297.85 222.25L297.90 231.27L298.00 238.92L298.01 239.04L298.15 227.21L298.16 225.19L298.24 197.83L298.31 152.17L298.38 197.98L298.40 207.30L298.46 224.98L298.50 231.31L298.61 231.71L298.65 225.43L298.65 225.43L298.73 196.66L298.80 97.61L298.87 197.19L298.90 212.19L298.95 228.87L299.10 255.53L299.15 261.00L299.40 278.45L299.65 280.66L299.90 280.50L300.15 280.92L300.40 281.33L300.65 281.75L300.90 282.17L301.15 282.58L301.40 274.25L301.54 261.57L301.65 244.59L301.69 235.34L301.77 203.98L301.84 119.28L301.90 197.82L301.91 204.01L301.99 233.94L302.14 249.05L302.15 248.98L302.20 247.07L302.22 245.18L302.35 225.17L302.37 218.34L302.40 209.70L302.43 195.94L302.45 179.25L302.50 101.45L302.52 122.92L302.57 179.98L302.59 196.45L302.65 219.14L302.67 226.23L302.80 249.53L302.82 252.65L302.90 260.24L303.15 271.36L303.40 263.48L303.43 260.97L303.58 237.63L303.65 212.71L303.66 207.84L303.70 174.03L303.73 137.04L303.80 206.48L303.85 221.26L303.88 221.27L303.90 217.60L303.93 206.24L304.00 98.32L304.03 171.19L304.07 208.08L304.15 238.91L304.30 264.35L304.40 273.63L304.65 285.32L304.90 285.45L305.15 275.14L305.20 270.22L305.35 244.01L305.40 227.19L305.43 212.08L305.50 109.28L305.57 212.30L305.65 244.43L305.80 270.62L305.90 278.94L306.15 284.02L306.39 271.06L306.40 270.07L306.54 246.17L306.62 215.50L306.65 194.28L306.69 151.75L306.76 215.63L306.84 245.84L306.90 257.38L306.99 266.26L307.15 265.74L307.20 262.17L307.26 255.54L307.35 239.37L307.40 224.37L307.41 220.19L307.43 210.87L307.49 132.79L307.50 93.09L307.56 142.83L307.57 151.85L307.63 211.70L307.65 220.89L307.71 240.17L307.80 256.94L307.86 264.29L307.90 267.91L308.15 274.88L308.26 269.19L308.40 250.41L308.41 247.53L308.49 218.79L308.50 214.55L308.56 159.68L308.63 216.56L308.65 222.79L308.65 222.79L308.71 222.43L308.73 215.79L308.80 102.71L308.86 213.82L308.87 218.39L308.90 232.89L308.95 248.68L309.10 272.71L309.15 277.15L309.40 285.40L309.58 277.09L309.65 269.04L309.73 253.08L309.81 221.79L309.88 130.73L309.90 168.85L309.95 222.03L310.03 253.60L310.15 274.89L310.18 278.20L310.40 287.33L310.65 276.13L310.70 270.95L310.72 268.01L310.85 244.68L310.87 237.88L310.90 228.68L310.93 214.67L310.95 198.58L311.00 107.21L311.02 118.85L311.07 198.89L311.09 215.00L311.15 238.44L311.17 245.37L311.30 269.82L311.32 273.06L311.40 281.78L311.65 296.09L311.90 296.44L312.15 296.79L312.40 297.07L312.65 297.25L312.90 297.42L313.07 284.98L313.15 273.97L313.22 259.79L313.30 229.24L313.37 148.92L313.40 196.58L313.44 228.57L313.52 251.04L313.55 251.04L313.63 228.53L313.65 215.00L313.67 195.13L313.70 112.93L313.77 229.42L313.85 258.56L313.90 266.94L313.94 270.14L314.00 270.67L314.09 260.05L314.15 239.43L314.17 231.06L314.24 143.04L314.31 231.51L314.39 262.65L314.40 266.09L314.54 287.14L314.65 295.20L314.90 295.42L314.99 289.27L315.14 265.07L315.15 262.23L315.22 233.66L315.29 130.28L315.36 233.88L315.40 253.02L315.44 265.47L315.59 289.57L315.65 293.90L315.90 293.73L315.98 287.70L316.13 264.59L316.15 260.37L316.20 242.20L316.21 234.91L316.28 148.25L316.35 230.10L316.35 231.93L316.40 239.68L316.43 231.91L316.43 230.05L316.50 114.36L316.57 235.36L316.58 242.81L316.65 265.72L316.80 290.53L316.90 299.42L317.15 300.42L317.40 300.60L317.65 299.32L317.70 294.79L317.85 270.33L317.90 254.13L317.93 239.30L318.00 117.17L318.07 239.25L318.15 268.16L318.20 275.55L318.30 275.43L318.35 268.14L318.40 254.09L318.43 240.34L318.50 165.65L318.57 240.35L318.62 259.50L318.65 266.55L318.65 266.58L318.77 266.76L318.80 259.81L318.85 240.69L318.90 186.82L318.92 152.05L318.99 241.12L319.07 269.39L319.15 279.93L319.20 281.28L319.22 281.01L319.30 275.12L319.35 266.30L319.40 252.36L319.43 239.07L319.45 228.26L319.50 116.58L319.53 199.17L319.57 200.94L319.60 154.91L319.65 229.18L319.67 239.90L319.75 268.04L319.80 278.31L319.90 289.68L319.90 289.92L320.10 293.55L320.15 290.30L320.25 274.66L320.33 245.07L320.40 170.94L320.40 170.29L320.47 245.26L320.55 274.76L320.65 288.63L320.70 290.45L320.70 290.45L320.85 275.60L320.90 260.39L320.93 245.82L321.00 117.38L321.07 246.17L321.15 277.21L321.30 300.10L321.40 304.17L321.64 300.52L321.65 299.88L321.79 278.42L321.87 248.07L321.90 227.10L321.94 150.72L322.01 248.05L322.09 276.56L322.14 283.18L322.15 284.41L322.24 283.20L322.29 276.70L322.37 248.65L322.40 221.24L322.44 144.33L322.51 248.92L322.59 277.69L322.65 287.37L322.74 291.12L322.76 290.79L322.90 276.31L322.91 274.77L322.99 247.73L323.05 159.26L323.06 124.61L323.10 221.42L323.13 235.99L323.13 235.98L323.15 230.34L323.20 120.30L323.21 158.71L323.25 229.52L323.27 243.62L323.33 244.50L323.35 230.91L323.36 224.14L323.40 158.17L323.40 164.33L323.47 249.37L323.50 264.08L323.55 275.37L323.55 276.95L323.65 282.94L323.70 279.12L323.70 277.70L323.78 251.40L323.85 131.70L323.90 233.91L323.92 252.01L324.00 281.60L324.15 299.24L324.15 299.40L324.20 299.83L324.35 283.65L324.40 268.30L324.43 253.67L324.50 126.21L324.57 254.05L324.65 285.58L324.80 308.98L324.90 309.12L325.15 309.40L325.40 309.40L325.65 309.40L325.70 309.40L325.85 288.64L325.90 272.19L325.93 257.22L326.00 130.60L326.07 257.34L326.15 288.05L326.30 306.58L326.37 306.37L326.40 305.06L326.52 288.03L326.60 258.42L326.65 214.73L326.67 165.27L326.74 258.33L326.82 285.57L326.83 286.10L326.90 292.00L326.97 285.70L326.98 285.16L327.06 258.38L327.13 138.19L327.15 212.30L327.20 257.96L327.20 259.56L327.23 272.79L327.28 279.93L327.35 276.86L327.38 269.36L327.40 264.68L327.43 253.53L327.43 251.98L327.46 226.10L327.50 131.92L327.53 162.22L327.57 226.90L327.60 252.88L327.65 271.83L327.68 281.84L327.80 302.72L327.83 306.94L327.90 309.40L328.15 309.40L328.20 181.00L340.00 189.00L352.00 197.50L367.00 206.00L382.00 216.50L394.00 224.00L407.00 234.50L421.00 244.00L435.00 252.00L448.00 264.00L459.00 271.50L466.00 276.50L469.50 282.00L473.00 289.50L476.00 298.50L479.40 309.50" stroke="#000" stroke-width="1.1" stroke-dasharray="1.1 2.2"/>
<path d="M285.00 151.30L285.45 247.38L286.34 159.23L286.79 254.88L288.23 127.83L288.68 272.10L289.35 119.53L289.80 266.26L290.84 130.03L291.29 264.40L291.84 117.98L292.29 267.91L293.57 134.54L294.02 279.15L294.35 135.21L294.80 265.26L295.07 150.08L295.52 267.83L295.86 131.94L296.31 275.09L297.00 144.06L297.45 253.42L298.11 130.14L298.56 256.78L298.79 137.83L299.24 261.99L300.42 130.35L300.87 274.44L301.30 125.32L301.75 274.46L302.18 138.69L302.63 259.02L302.96 132.88L303.41 275.86L303.70 135.66L304.15 278.50L304.38 128.92L304.83 271.05L306.19 143.98L306.64 266.08L307.19 143.09L307.64 278.20L308.01 127.81L308.46 273.98L308.88 124.19L309.33 289.71L310.03 144.55L310.48 286.85L311.01 134.95L311.46 274.64L312.77 117.09L313.22 295.45L313.50 118.43L313.95 293.60L314.20 122.66L314.65 282.85L315.35 139.69L315.80 280.07L316.36 158.06L316.81 292.48L318.24 139.85L318.69 280.97L319.33 149.04L319.78 281.35L320.45 137.24L320.90 285.40L322.18 132.37L322.63 299.77L323.20 169.21L323.65 284.74L324.29 131.37L324.74 293.04L325.99 165.66L326.44 283.42L326.88 141.55L327.33 296.65L327.60 173.14L328.05 307.34" stroke="#2036d8" stroke-width="1.15"/>
<path d="M290.00 142.63L290.50 253.26L291.28 148.63L291.78 263.48L292.11 117.01L292.61 257.60L293.77 150.81L294.27 273.79L294.58 159.50L295.08 259.98L295.38 115.18L295.88 265.65L296.31 157.26L296.81 279.68L297.28 149.02L297.78 254.10L298.50 116.28L299.00 275.51L300.36 145.05L300.86 275.95L301.30 154.38L301.80 267.22L302.31 119.45L302.81 280.18L303.34 141.17L303.84 269.21L304.28 130.47L304.78 266.33L306.16 120.93L306.66 265.44L307.08 143.91L307.58 274.40L307.93 141.26L308.43 274.36L309.17 142.00L309.67 281.75L309.99 121.64L310.49 279.29L311.24 150.96L311.74 283.18L312.99 132.07L313.49 272.15L313.89 152.03L314.39 282.10" stroke="#000" stroke-width="1.1" stroke-dasharray="1.1 2.2"/>
<path d="M309.00 152.47L309.25 287.19L309.41 135.32L309.66 273.93L309.95 136.75L310.20 277.85L310.38 117.12L310.63 290.13L310.96 120.69L311.21 285.99L311.57 132.29L311.82 290.33L312.81 139.92L313.06 284.78L313.34 126.72L313.59 292.42L313.76 120.45L314.01 291.48L314.16 157.37L314.41 279.04" stroke="#000" stroke-width="1.1" stroke-dasharray="1.3 1.6"/>
<path d="M314.30 120.94L314.50 284.13L314.78 116.93L314.98 298.08L315.20 123.58L315.40 290.57L315.56 124.32L315.76 289.34L316.02 127.59L316.22 291.34L316.45 132.85L316.65 284.09L316.83 133.31L317.03 286.18L317.92 133.97L318.12 289.54L318.38 129.20L318.58 290.07L318.69 126.76L318.89 286.35L319.02 138.91L319.22 290.48L319.36 131.34L319.56 291.50L319.82 126.85L320.02 287.62L320.16 135.20L320.36 296.46L321.41 142.20L321.61 297.68L321.80 137.26L322.00 298.75L322.10 139.00L322.30 298.78L322.56 128.17L322.76 301.27L322.96 139.74L323.16 301.01L323.28 142.49L323.48 301.53L323.71 145.86L323.91 293.27L324.19 139.52L324.39 305.22L325.38 144.03L325.58 302.93L325.86 132.79L326.06 298.47L326.31 134.63L326.51 308.46L326.81 134.60L327.01 302.92L327.26 145.35L327.46 306.78L327.60 152.14L327.80 308.74L327.89 140.30L328.09 301.19" stroke="#000" stroke-width="1.15" stroke-dasharray="2.6 1.1"/>
<path d="M48.90 136.59L49.15 136.74L49.40 136.90L49.65 137.06L49.90 137.22L50.15 137.38L50.40 137.54L50.65 137.70L50.90 137.86L51.15 138.02L51.40 138.18L51.65 138.34L51.90 138.50L52.15 138.66L52.40 138.82L52.65 138.98L52.90 139.14L53.15 139.30L53.40 139.46L53.65 139.62L53.90 139.78L54.15 139.94L54.40 140.10L54.65 140.26L54.90 140.42L55.15 140.58L55.40 140.74L55.65 140.90L55.90 141.06L56.15 141.23L56.40 141.40L56.65 141.56L56.90 141.73L57.15 141.90L57.40 142.07L57.65 142.24L57.90 142.41L58.15 142.58L58.40 142.75L58.65 142.92L58.90 143.09L59.15 143.26L59.40 143.43L59.65 143.60L59.90 143.76L60.15 143.93L60.40 144.10L60.65 144.27L60.90 144.44L61.15 144.61L61.40 144.78L61.65 144.95L61.90 145.12L62.15 145.29L62.40 145.46L62.65 145.63L62.90 145.80L63.15 145.96L63.40 146.13L63.65 146.30L63.90 146.47L64.15 146.64L64.40 146.81L64.65 146.98L64.90 147.15L65.15 147.29L65.40 147.42L65.65 147.55L65.90 147.68L66.15 147.81L66.40 147.94L66.65 148.07L66.90 148.20L67.15 148.33L67.40 148.46L67.65 148.59L67.90 148.72L68.15 148.85L68.40 148.98L68.65 149.11L68.90 149.24L69.15 149.37L69.40 149.50L69.65 149.63L69.90 149.76L70.15 149.89L70.40 150.02L70.65 150.15L70.90 150.28L71.15 150.41L71.40 150.54L71.65 150.67L71.90 150.80L72.15 150.93L72.40 151.05L72.65 151.18L72.90 151.31L73.15 151.44L73.40 151.57L73.65 151.70L73.90 151.83L74.15 151.96L74.40 152.09L74.65 152.22L74.90 152.35L75.15 152.48L75.40 152.61L75.65 152.74L75.90 152.87L76.15 153.00L76.40 153.13L76.65 153.26L76.90 153.39L77.15 153.52L77.40 153.65L77.65 153.78L77.90 153.91L78.15 154.04L78.40 154.17L78.65 154.30L78.90 154.43L79.15 154.56L79.40 154.68L79.65 154.81L79.90 154.94L80.15 155.07L80.40 155.20L80.65 155.33L80.90 155.46L81.15 155.59L81.40 155.72L81.65 155.85L81.90 155.98L82.15 156.11L82.40 156.24L82.65 156.37L82.90 156.50L83.15 156.63L83.40 156.76L83.65 156.89L83.90 157.02L84.15 157.15L84.40 157.28L84.65 157.41L84.90 157.54L85.15 157.67L85.40 157.80L85.65 157.92L85.90 158.05L86.15 158.18L86.40 158.31L86.65 158.44L86.90 158.57L87.15 158.70L87.40 158.83L87.65 158.96L87.90 159.09L88.15 159.22L88.40 159.35L88.65 159.48L88.90 159.61L89.15 159.74L89.40 159.87L89.65 160.00L89.90 160.13L90.15 160.26L90.40 160.39L90.65 160.52L90.90 160.65L91.15 160.78L91.40 160.91L91.65 161.04L91.90 161.17L92.15 161.30L92.40 161.43L92.65 161.56L92.90 161.69L93.15 161.82L93.40 161.96L93.65 162.09L93.90 162.22L94.15 162.35L94.40 162.48L94.65 162.61L94.90 162.74L95.15 162.87L95.40 163.00L95.65 163.13L95.90 163.26L96.15 163.39L96.40 163.52L96.65 163.65L96.90 163.78L97.15 163.91L97.40 164.04L97.65 164.17L97.90 164.30L98.15 164.43L98.40 164.57L98.65 164.70L98.90 164.83L99.15 164.96L99.40 165.09L99.65 165.22L99.90 165.35L100.15 165.48L100.40 165.61L100.65 165.74L100.90 165.87L101.15 166.00L101.40 166.13L101.65 166.26L101.90 166.39L102.15 166.52L102.40 166.65L102.65 166.78L102.90 166.91L103.15 167.04L103.40 167.18L103.65 167.31L103.90 167.44L104.15 167.57L104.40 167.70L104.65 167.83L104.90 167.96L105.15 168.09L105.40 168.22L105.65 168.35L105.90 168.48L106.15 168.61L106.40 168.74L106.65 168.87L106.90 169.00L107.15 169.13L107.40 169.26L107.65 169.39L107.90 169.52L108.15 169.65L108.40 169.78L108.65 169.91L108.90 170.04L109.15 170.17L109.40 170.31L109.65 170.44L109.90 170.57L110.15 170.70L110.40 170.83L110.65 170.96L110.90 171.09L111.15 171.22L111.40 171.35L111.65 171.48L111.90 171.61L112.15 171.74L112.40 171.87L112.65 172.00L112.90 172.13L113.15 172.26L113.40 172.39L113.65 172.52L113.90 172.65L114.15 172.78L114.40 172.91L114.65 173.04L114.90 173.17L115.15 173.31L115.40 173.45L115.65 173.58L115.90 173.72L116.15 173.86L116.40 174.00L116.65 174.14L116.90 174.28L117.15 174.41L117.40 174.55L117.65 174.69L117.90 174.83L118.15 174.97L118.40 175.11L118.65 175.24L118.90 175.38L119.15 175.52L119.40 175.66L119.65 175.80L119.90 175.93L120.15 176.07L120.40 176.21L120.65 176.35L120.90 176.49L121.15 176.63L121.40 176.76L121.65 176.90L121.90 177.04L122.15 177.18L122.40 177.32L122.65 177.45L122.90 177.59L123.15 177.73L123.40 177.87L123.65 178.01L123.90 178.15L124.15 178.28L124.40 178.42L124.65 178.56L124.90 178.70L125.15 178.84L125.40 178.97L125.65 179.11L125.90 179.25L126.15 179.39L126.40 179.53L126.65 179.66L126.90 179.80L127.15 179.94L127.40 180.08L127.65 180.22L127.90 180.35L128.15 180.49L128.40 180.63L128.65 180.77L128.90 180.91L129.15 181.04L129.40 181.18L129.65 181.32L129.90 181.46L130.15 181.60L130.40 181.73L130.65 181.87L130.90 182.01L131.15 182.15L131.40 182.29L131.65 182.42L131.90 182.56L132.15 182.70L132.40 182.84L132.65 182.97L132.90 183.11L133.15 183.25L133.40 183.39L133.65 183.53L133.90 183.66L134.15 183.80L134.40 183.94L134.65 184.08L134.90 184.21L135.15 184.35L135.40 184.49L135.65 184.63L135.90 184.77L136.15 184.90L136.40 185.04L136.65 185.18L136.90 185.32L137.15 185.45L137.40 185.59L137.65 185.73L137.90 185.87L138.15 186.00L138.40 186.14L138.65 186.28L138.90 186.42L139.15 186.56L139.40 186.69L139.65 186.83L139.90 186.97L140.15 187.11L140.40 187.24L140.65 187.38L140.90 187.52L141.15 187.66L141.40 187.79L141.65 187.93L141.90 188.07L142.15 188.21L142.40 188.34L142.65 188.48L142.90 188.62L143.15 188.75L143.40 188.89L143.65 189.03L143.90 189.17L144.15 189.30L144.40 189.44L144.65 189.58L144.90 189.72L145.15 189.85L145.40 189.99L145.65 190.13L145.90 190.26L146.15 190.40L146.40 190.54L146.65 190.68L146.90 190.81L147.15 190.95L147.40 191.09L147.65 191.22L147.90 191.36L148.15 191.50L148.40 191.64L148.65 191.77L148.90 191.91L149.15 192.05L149.40 192.18L149.65 192.32L149.90 192.46L150.15 192.59L150.40 192.73L150.65 192.87L150.90 193.00L151.15 193.14L151.40 193.28L151.65 193.41L151.90 193.55L152.15 193.69L152.40 193.82L152.65 193.96L152.90 194.10L153.15 194.23L153.40 194.37L153.65 194.51L153.90 194.64L154.15 194.78L154.40 194.92L154.65 195.05L154.90 195.19L155.15 195.33L155.40 195.46L155.65 195.60L155.90 195.74L156.15 195.87L156.40 196.01L156.65 196.14L156.90 196.28L157.15 196.42L157.40 196.55L157.65 196.69L157.90 196.83L158.15 196.96L158.40 197.10L158.65 197.23L158.90 197.37L159.15 197.51L159.40 197.64L159.65 197.78L159.90 197.91L160.15 198.05L160.40 198.18L160.65 198.32L160.90 198.46L161.15 198.59L161.40 198.73L161.65 198.86L161.90 199.00L162.15 199.13L162.40 199.27L162.65 199.41L162.90 199.54L163.15 199.68L163.40 199.81L163.65 199.95L163.90 200.08L164.15 200.22L164.40 200.35L164.65 200.49L164.90 200.62L165.15 200.76L165.40 200.89L165.65 201.03L165.90 201.16L166.15 201.30L166.40 201.43L166.65 201.57L166.90 201.70L167.15 201.84L167.40 201.97L167.65 202.11L167.90 202.24L168.15 202.37L168.40 202.51L168.65 202.64L168.90 202.78L169.15 202.91L169.40 203.05L169.65 203.18L169.90 203.31L170.15 203.45L170.40 203.58L170.65 203.72L170.90 203.85L171.15 203.98L171.40 204.12L171.65 204.25L171.90 204.39L172.15 204.52L172.40 204.65L172.65 204.79L172.90 204.92L173.15 205.05L173.40 205.19L173.65 205.32L173.90 205.45L174.15 205.59L174.40 205.72L174.65 205.85L174.90 205.98L175.15 206.12L175.40 206.25L175.65 206.38L175.90 206.52L176.15 206.65L176.40 206.78L176.65 206.91L176.90 207.05L177.15 207.18L177.40 207.31L177.65 207.44L177.90 207.57L178.15 207.71L178.40 207.84L178.65 207.97L178.90 208.10L179.15 208.23L179.40 208.36L179.65 208.50L179.90 208.63L180.15 208.76L180.40 208.89L180.65 209.02L180.90 209.15L181.15 209.28L181.40 209.41L181.65 209.54L181.90 209.67L182.15 209.80L182.40 209.93L182.65 210.06L182.90 210.19L183.15 210.32L183.40 210.45L183.65 210.58L183.90 210.71L184.15 210.84L184.40 210.97L184.65 211.10L184.90 211.23L185.15 211.36L185.40 211.49L185.65 211.62L185.90 211.75L186.15 211.87L186.40 212.00L186.65 212.13L186.90 212.26L187.15 212.39L187.40 212.51L187.65 212.64L187.90 212.77L188.15 212.90L188.40 213.02L188.65 213.15L188.90 213.28L189.15 213.40L189.40 213.53L189.65 213.66L189.90 213.78L190.15 213.91L190.40 214.04L190.65 214.16L190.90 214.29L191.15 214.41L191.40 214.54L191.65 214.66L191.90 214.79L192.15 214.91L192.40 215.04L192.65 215.16L192.90 215.28L193.15 215.41L193.40 215.53L193.65 215.66L193.90 215.78L194.15 215.90L194.40 216.02L194.65 216.15L194.90 216.27L195.15 216.39L195.40 216.51L195.65 216.63L195.90 216.76L196.15 216.88L196.40 217.00L196.65 217.12L196.90 217.24L197.15 217.36L197.40 217.48L197.65 217.60L197.90 217.72L198.15 217.84L198.40 217.95L198.65 218.07L198.90 218.19L199.15 218.31L199.40 218.42L199.65 218.54L199.90 218.66L200.15 218.77L200.40 218.89L200.65 219.01L200.90 219.12L201.15 219.24L201.40 219.35L201.65 219.46L201.90 219.58L202.15 219.69L202.40 219.80L202.65 219.92L202.90 220.03L203.15 220.14L203.40 220.25L203.65 220.36L203.90 220.47L204.15 220.58L204.40 220.69L204.65 220.80L204.90 220.91L205.15 221.01L205.40 221.12L205.65 221.23L205.90 221.33L206.15 221.44L206.40 221.54L206.65 221.65L206.90 221.75L207.15 221.85L207.40 221.96L207.65 222.06L207.90 222.16L208.15 222.26L208.40 222.36L208.65 222.46L208.90 222.55L209.15 222.65L209.40 222.75L209.65 222.84L209.90 222.94L210.15 223.03L210.40 223.12L210.65 223.21L210.90 223.30L211.15 223.39L211.40 223.48L211.65 223.57L211.90 223.66L212.15 223.74L212.40 223.82L212.65 223.91L212.90 223.99L213.15 224.07L213.40 224.15L213.65 224.22L213.90 224.30L214.15 224.37L214.40 224.45L214.65 224.52L214.90 224.59L215.15 224.66L215.40 224.72L215.65 224.79L215.90 224.85L216.15 224.91L216.40 224.97L216.65 225.02L216.90 225.08L217.15 225.13L217.40 225.18L217.65 225.23L217.90 225.27L218.15 225.31L218.40 225.35L218.65 225.39L218.90 225.42L219.15 225.45L219.40 225.48L219.65 225.50L219.90 225.52L220.15 225.54L220.40 225.55L220.65 225.56L220.90 225.56L221.15 225.56L221.40 225.56L221.65 225.55L221.90 225.53L222.15 225.51L222.40 225.49L222.65 225.46L222.90 225.42L223.15 225.38L223.40 225.33L223.65 225.27L223.90 225.20L224.15 225.13L224.40 225.05L224.65 224.96L224.90 224.86L225.15 224.76L225.40 224.64L225.65 224.51L225.90 224.37L226.15 224.22L226.40 224.06L226.65 223.88L226.90 223.69L227.15 223.48L227.40 223.26L227.65 223.02L227.90 222.76L228.15 222.49L228.40 222.19L228.65 221.88L228.90 221.53L229.15 221.17L229.40 220.78L229.65 220.36L229.90 219.91L230.15 219.43L230.40 218.91L230.65 218.35L230.90 217.76L231.15 217.11L231.40 216.43L231.65 215.69L231.90 214.89L232.15 214.03L232.40 213.10L232.65 212.10L232.90 211.02L233.15 209.85L233.40 208.58L233.65 207.20L233.90 205.70L234.15 204.05L234.40 202.25L234.65 200.28L234.90 198.10L235.15 195.68L235.40 193.00L235.65 189.99L235.90 186.60L236.15 182.75L236.40 178.32L236.65 173.16L236.90 167.03L237.15 162.97L237.40 153.22L237.65 140.22L237.90 121.41L238.00 111.12L238.15 91.62L238.23 81.12L238.30 76.98L238.37 81.22L238.40 84.90L238.45 91.95L238.60 111.96L238.65 117.53L238.90 138.82L239.15 153.32L239.40 164.00L239.65 172.19L239.90 178.54L240.15 183.46L240.40 187.20L240.65 189.94L240.90 191.87L241.15 193.11L241.40 193.79L241.65 194.03L241.90 193.92L242.15 193.53L242.40 192.91L242.65 192.12L242.90 191.18L243.15 190.09L243.40 188.88L243.65 187.51L243.90 185.97L244.15 184.21L244.40 182.13L244.65 179.60L244.90 176.41L245.15 172.19L245.40 166.29L245.65 157.51L245.90 143.25L246.10 123.29L246.15 115.89L246.25 95.08L246.33 66.23L246.40 32.98L246.47 66.43L246.55 95.55L246.65 116.64L246.70 124.15L246.90 144.38L247.15 158.47L247.40 166.54L247.65 171.29L247.90 173.96L248.15 175.15L248.40 175.10L248.65 173.78L248.90 170.83L249.15 165.41L249.40 155.61L249.65 136.53L249.70 130.54L249.85 102.43L249.90 86.02L249.93 72.28L250.00 30.28L250.07 72.49L250.15 102.91L250.30 131.48L250.40 142.79L250.65 159.85L250.90 168.97L251.15 174.18L251.40 177.19L251.65 178.81L251.90 179.41L252.15 179.10L252.40 177.75L252.65 174.91L252.90 169.60L253.15 159.50L253.40 138.27L253.40 138.27L253.55 110.79L253.63 81.65L253.65 70.72L253.70 45.67L253.77 81.85L253.85 111.27L253.90 122.98L254.00 139.23L254.15 154.38L254.40 168.36L254.65 175.81L254.90 180.14L255.15 182.83L255.40 184.61L255.65 185.83L255.90 186.70L256.15 187.33L256.40 187.81L256.65 188.18L256.90 188.46L257.15 188.68L257.40 188.84L257.65 188.97L257.90 189.05L258.15 189.10L258.40 189.12L258.65 189.09L258.90 189.02L259.15 188.88L259.40 188.66L259.65 188.31L259.90 187.75L260.15 186.79L260.40 185.04L260.65 181.43L260.90 172.47L261.00 165.09L261.15 143.66L261.15 143.66L261.23 122.69L261.30 107.50L261.37 122.84L261.40 131.73L261.45 144.04L261.60 165.72L261.65 169.88L261.90 180.85L262.15 184.92L262.40 186.70L262.65 187.51L262.90 187.79L263.15 187.68L263.40 187.11L263.65 185.72L263.90 182.42L264.15 172.88L264.20 169.03L264.35 146.54L264.40 130.97L264.43 116.85L264.50 55.95L264.57 117.07L264.65 146.97L264.80 169.66L264.90 176.47L265.15 183.96L265.40 186.64L265.65 187.76L265.90 188.19L266.15 188.16L266.40 187.62L266.65 186.18L266.90 182.25L267.10 172.94L267.15 168.29L267.25 152.09L267.33 123.27L267.40 65.93L267.47 123.48L267.55 152.51L267.65 168.87L267.70 173.56L267.90 182.96L268.15 186.98L268.40 188.58L268.65 189.37L268.90 189.81L269.15 190.08L269.40 190.27L269.65 190.39L269.90 190.48L270.15 190.55L270.40 190.60L270.65 190.64L270.90 190.67L271.15 190.69L271.40 190.70L271.65 190.71L271.90 190.72L272.15 190.72L272.40 190.71L272.65 190.69L272.90 190.67L273.15 190.64L273.40 190.59L273.65 190.52L273.90 190.42L274.15 190.26L274.40 190.00L274.65 189.53L274.90 188.56L275.15 185.87L275.30 181.15L275.40 173.34L275.45 165.74L275.53 139.46L275.60 67.72L275.65 126.67L275.67 139.65L275.75 165.96L275.90 181.01L275.90 181.01L276.15 185.97L276.40 184.55L276.50 181.67L276.65 168.21L276.65 168.21L276.73 146.34L276.80 117.22L276.87 146.53L276.90 157.15L276.95 168.64L277.10 182.50L277.15 184.39L277.40 188.41L277.65 189.63L277.90 190.15L278.15 190.42L278.40 190.57L278.65 190.67L278.90 190.74L279.15 190.79L279.40 190.82L279.65 190.84L279.90 190.85L280.15 190.86L280.40 190.86L280.65 190.85L280.90 190.83L281.15 190.79L281.40 190.74L281.65 190.64L281.90 190.46L282.15 190.07L282.40 189.00L282.60 185.93L282.65 184.05L282.75 175.55L282.83 153.27L282.90 69.62L282.97 153.46L283.05 175.80L283.15 184.27L283.20 186.12L283.40 189.13L283.65 190.14L283.90 190.49L284.15 190.64L284.40 190.71L284.65 190.72L284.90 190.69L285.15 190.59L285.40 190.37L285.65 189.76L285.90 187.23L286.05 178.95L286.13 159.19L286.15 147.61L286.20 83.14L286.27 159.37L286.35 179.15L286.40 183.57L286.50 187.37L286.65 189.29L286.90 190.22L287.15 190.50L287.40 190.55L287.65 190.47L287.90 190.11L288.15 188.69L288.20 187.95L288.35 180.97L288.40 172.85L288.43 163.01L288.50 88.80L288.57 163.18L288.65 181.16L288.80 188.09L288.90 189.32L289.15 190.34L289.40 190.64L289.65 190.76L289.90 190.80L290.15 190.81L290.40 190.79L290.65 190.72L290.90 190.59L291.15 190.29L291.40 189.37L291.50 188.36L291.65 183.33L291.65 183.25L291.73 172.02L291.80 154.36L291.80 154.35L291.87 171.17L291.90 175.88L291.95 178.43L291.95 178.42L292.03 167.43L292.10 107.47L292.10 107.60L292.15 158.67L292.17 168.34L292.25 183.09L292.40 188.48L292.40 188.48L292.65 190.13L292.90 190.54L293.15 190.70L293.40 190.76L293.65 190.77L293.90 190.73L294.15 190.61L294.40 190.29L294.62 189.17L294.65 188.85L294.77 185.00L294.85 172.35L294.90 140.97L294.92 114.25L294.99 172.38L295.07 184.71L295.15 187.27L295.20 187.70L295.22 187.71L295.35 184.82L295.40 179.76L295.43 172.58L295.50 87.80L295.57 172.78L295.65 185.25L295.80 189.09L295.90 189.64L296.15 189.55L296.21 189.20L296.36 185.72L296.40 182.44L296.44 174.51L296.51 126.27L296.58 174.61L296.65 185.10L296.66 185.76L296.81 189.09L296.90 189.43L297.07 189.01L297.15 188.05L297.22 185.71L297.30 174.93L297.37 118.34L297.40 151.08L297.44 174.59L297.52 183.58L297.55 183.58L297.63 174.54L297.65 166.43L297.67 149.00L297.70 93.93L297.77 175.07L297.85 185.79L297.90 187.54L298.00 188.72L298.08 188.77L298.15 188.20L298.23 186.23L298.31 177.40L298.38 150.43L298.40 159.18L298.45 177.36L298.50 184.42L298.53 185.74L298.65 185.74L298.65 185.74L298.68 184.36L298.73 176.24L298.80 96.70L298.87 176.57L298.90 182.59L298.95 186.72L299.10 189.72L299.15 190.03L299.40 190.63L299.65 190.80L299.90 190.88L300.15 190.91L300.40 190.91L300.65 190.90L300.90 190.84L301.15 190.69L301.39 190.08L301.40 190.04L301.54 187.79L301.62 179.56L301.65 168.84L301.69 116.55L301.76 179.59L301.84 187.67L301.90 188.96L301.99 189.58L302.11 189.43L302.15 189.14L302.20 188.50L302.26 186.94L302.34 178.71L302.35 175.22L302.40 130.01L302.41 123.31L302.43 150.17L302.48 147.45L302.50 99.54L302.56 175.16L302.57 178.76L302.65 187.12L302.71 188.72L302.80 189.75L302.90 190.19L303.15 190.45L303.36 190.08L303.40 189.82L303.51 188.18L303.59 181.23L303.65 136.38L303.66 134.21L303.70 173.12L303.73 181.05L303.81 187.14L303.85 187.15L303.90 185.02L303.93 180.97L303.96 172.46L304.00 98.97L304.07 181.34L304.15 188.36L304.30 190.24L304.40 190.55L304.65 190.79L304.90 190.81L305.15 190.57L305.20 190.43L305.35 188.85L305.40 186.46L305.43 182.62L305.50 107.03L305.57 182.69L305.65 188.90L305.80 190.46L305.90 190.69L306.15 190.84L306.40 190.75L306.54 190.50L306.65 189.85L306.69 189.12L306.77 183.83L306.84 147.05L306.90 180.93L306.91 183.87L306.99 189.12L307.14 190.40L307.15 190.42L307.34 190.41L307.40 190.22L307.49 189.20L307.57 184.18L307.64 141.80L307.65 145.25L307.71 184.24L307.79 189.25L307.90 190.34L307.94 190.49L308.15 190.67L308.35 190.39L308.40 190.20L308.50 189.13L308.50 189.06L308.58 184.40L308.65 154.97L308.65 154.97L308.65 154.50L308.72 180.83L308.73 180.74L308.80 103.37L308.80 109.70L308.87 184.18L308.90 187.22L308.95 189.11L308.95 189.18L309.10 190.44L309.15 190.56L309.40 190.70L309.50 190.58L309.65 189.61L309.65 189.57L309.73 185.27L309.80 128.97L309.87 185.33L309.90 187.91L309.95 189.62L310.10 190.65L310.15 190.73L310.40 190.85L310.65 190.67L310.70 190.56L310.81 189.91L310.85 189.41L310.90 187.79L310.93 185.20L310.96 174.93L311.00 108.74L311.04 176.88L311.07 176.98L311.11 121.04L311.15 175.32L311.18 185.34L311.26 189.48L311.30 189.98L311.40 190.57L311.41 190.61L311.65 190.92L311.90 191.00L312.15 191.03L312.40 191.03L312.65 190.99L312.90 190.80L312.90 190.79L313.05 190.04L313.13 186.88L313.15 182.83L313.20 147.02L313.27 186.88L313.35 189.95L313.40 190.32L313.50 190.33L313.55 189.97L313.63 186.93L313.65 183.68L313.70 109.96L313.77 187.01L313.85 190.12L313.90 190.53L314.00 190.84L314.15 190.98" stroke="#ff7622" stroke-width="1.4"/>
<path d="M291.50 100.41L291.80 192L292.87 119.81L293.17 192L293.78 106.54L294.08 192L294.78 116.96L295.08 192L295.79 105.25L296.09 192L296.88 108.55L297.18 192L298.53 134.36L298.83 192L299.25 126.08L299.55 192L300.51 131.74L300.81 192L301.83 121.13L302.13 192L303.15 116.67L303.45 192L304.42 128.04L304.72 192L305.46 130.48L305.76 192L306.77 130.80L307.07 192L307.49 120.11L307.79 192L308.86 122.71L309.16 192L310.12 128.68L310.42 192L310.80 114.80L311.10 192L312.00 126.54L312.30 192L313.09 117.07L313.39 192L313.92 121.17L314.22 192" stroke="#ff7622" stroke-width="1.3"/>
<path d="M328.20 180.10L340.00 188.10L352.00 196.60L367.00 205.10L382.00 215.60L394.00 223.10L407.00 233.60L421.00 243.10L435.00 251.10L448.00 263.10L459.00 270.60L466.00 275.60L469.50 281.10L473.00 288.60L476.00 297.60L479.40 309.10" stroke="#ff7622" stroke-width="1.1" stroke-dasharray="4 1.5 1 1.5"/>
</g>
<g clip-path="url(#c)">
<circle cx="254.0" cy="126.2" r="1.9" fill="none" stroke="#2036d8" stroke-width="1.1"/>
<circle cx="255.5" cy="130.0" r="1.9" fill="none" stroke="#2036d8" stroke-width="1.1"/>
<circle cx="242.0" cy="135.2" r="1.9" fill="none" stroke="#2036d8" stroke-width="1.1"/>
<circle cx="242.0" cy="138.2" r="1.9" fill="none" stroke="#2036d8" stroke-width="1.1"/>
<circle cx="257.0" cy="139.0" r="1.9" fill="none" stroke="#2036d8" stroke-width="1.1"/>
<circle cx="257.7" cy="146.5" r="1.9" fill="none" stroke="#2036d8" stroke-width="1.1"/>
<circle cx="261.5" cy="148.0" r="1.9" fill="none" stroke="#2036d8" stroke-width="1.1"/>
<circle cx="268.2" cy="148.0" r="1.9" fill="none" stroke="#2036d8" stroke-width="1.1"/>
<circle cx="259.2" cy="153.2" r="1.9" fill="none" stroke="#2036d8" stroke-width="1.1"/>
<circle cx="261.5" cy="155.0" r="1.9" fill="none" stroke="#2036d8" stroke-width="1.1"/>
<circle cx="269.0" cy="154.7" r="1.9" fill="none" stroke="#2036d8" stroke-width="1.1"/>
<circle cx="236.7" cy="151.0" r="1.9" fill="none" stroke="#2036d8" stroke-width="1.1"/>
<circle cx="236.7" cy="159.2" r="1.9" fill="none" stroke="#2036d8" stroke-width="1.1"/>
<circle cx="234.5" cy="165.2" r="1.9" fill="none" stroke="#2036d8" stroke-width="1.1"/>
<circle cx="275.0" cy="160.0" r="1.9" fill="none" stroke="#2036d8" stroke-width="1.1"/>
<circle cx="272.7" cy="163.7" r="1.9" fill="none" stroke="#2036d8" stroke-width="1.1"/>
<circle cx="270.5" cy="164.8" r="1.9" fill="none" stroke="#2036d8" stroke-width="1.1"/>
<circle cx="234.5" cy="173.5" r="1.9" fill="none" stroke="#2036d8" stroke-width="1.1"/>
<circle cx="232.0" cy="185.7" r="1.9" fill="none" stroke="#2036d8" stroke-width="1.1"/>
<circle cx="232.0" cy="194.7" r="1.9" fill="none" stroke="#2036d8" stroke-width="1.1"/>
<circle cx="232.0" cy="201.0" r="1.9" fill="none" stroke="#2036d8" stroke-width="1.1"/>
<circle cx="234.2" cy="175.2" r="1.9" fill="none" stroke="#2036d8" stroke-width="1.1"/>
<circle cx="241.0" cy="205.2" r="1.9" fill="none" stroke="#2036d8" stroke-width="1.1"/>
<circle cx="240.3" cy="196.5" r="1.9" fill="none" stroke="#2036d8" stroke-width="1.1"/>
<circle cx="240.6" cy="190.0" r="1.9" fill="none" stroke="#2036d8" stroke-width="1.1"/>
<circle cx="283.5" cy="146.0" r="2.3" fill="#2036d8"/>
<circle cx="285.0" cy="150.0" r="2.3" fill="#2036d8"/>
<circle cx="286.5" cy="154.0" r="2.3" fill="#2036d8"/>
<circle cx="284.5" cy="158.0" r="2.3" fill="#2036d8"/>
<circle cx="287.0" cy="160.0" r="2.3" fill="#2036d8"/>
<circle cx="286.0" cy="164.0" r="2.3" fill="#2036d8"/>
<circle cx="288.2" cy="156.0" r="2.3" fill="#2036d8"/>
<circle cx="283.0" cy="152.0" r="2.3" fill="#2036d8"/>
<circle cx="286.5" cy="168.0" r="2.3" fill="#2036d8"/>
<circle cx="289.0" cy="172.0" r="2.3" fill="#2036d8"/>
<circle cx="291.0" cy="166.0" r="2.3" fill="#2036d8"/>
<circle cx="276.0" cy="178.0" r="2.3" fill="#2036d8"/>
<circle cx="277.5" cy="183.0" r="2.3" fill="#2036d8"/>
<circle cx="283.0" cy="186.0" r="2.3" fill="#2036d8"/>
<circle cx="285.5" cy="192.0" r="2.3" fill="#2036d8"/>
<circle cx="259.0" cy="182.0" r="2.3" fill="#2036d8"/>
<circle cx="261.0" cy="188.0" r="2.3" fill="#2036d8"/>
<path d="M336 186L345 192L356 199L368 206L380 214.5L392 222" fill="none" stroke="#30b040" stroke-width="1"/>
<path d="M334 186.5L346 193.5L358 201L372 209.5L386 219" fill="none" stroke="#a03060" stroke-width="1"/>
<path d="M352 196L372 208L392 222L412 237L432 249.5L452 267L468 279L472 287L476 298L479.4 309" fill="none" stroke="#2036d8" stroke-width="1.1" stroke-dasharray="1.2 3.2"/>
<rect x="380.1" y="209.7" width="5.8" height="5.8" fill="#6af7bb"/>
<rect x="381.7" y="208.3" width="5.8" height="5.8" fill="#6af7bb"/>
<rect x="383.3" y="208.6" width="5.8" height="5.8" fill="#6af7bb"/>
<rect x="384.9" y="211.0" width="5.8" height="5.8" fill="#6af7bb"/>
<rect x="386.5" y="211.9" width="5.8" height="5.8" fill="#6af7bb"/>
<rect x="388.1" y="214.2" width="5.8" height="5.8" fill="#6af7bb"/>
<rect x="389.7" y="215.1" width="5.8" height="5.8" fill="#6af7bb"/>
<rect x="391.3" y="216.1" width="5.8" height="5.8" fill="#6af7bb"/>
<rect x="392.9" y="218.7" width="5.8" height="5.8" fill="#6af7bb"/>
<rect x="394.5" y="220.0" width="5.8" height="5.8" fill="#6af7bb"/>
<rect x="396.1" y="221.6" width="5.8" height="5.8" fill="#6af7bb"/>
<rect x="397.7" y="222.4" width="5.8" height="5.8" fill="#6af7bb"/>
<rect x="399.3" y="223.7" width="5.8" height="5.8" fill="#6af7bb"/>
<rect x="400.9" y="226.6" width="5.8" height="5.8" fill="#6af7bb"/>
<rect x="402.5" y="228.0" width="5.8" height="5.8" fill="#6af7bb"/>
<rect x="404.1" y="229.5" width="5.8" height="5.8" fill="#6af7bb"/>
<rect x="405.7" y="229.7" width="5.8" height="5.8" fill="#6af7bb"/>
<rect x="407.3" y="230.6" width="5.8" height="5.8" fill="#6af7bb"/>
<rect x="408.9" y="233.1" width="5.8" height="5.8" fill="#6af7bb"/>
<rect x="410.5" y="234.8" width="5.8" height="5.8" fill="#6af7bb"/>
<rect x="412.1" y="235.8" width="5.8" height="5.8" fill="#6af7bb"/>
<rect x="413.7" y="235.7" width="5.8" height="5.8" fill="#6af7bb"/>
<rect x="415.3" y="237.1" width="5.8" height="5.8" fill="#6af7bb"/>
<rect x="416.9" y="239.2" width="5.8" height="5.8" fill="#6af7bb"/>
<rect x="418.5" y="238.9" width="5.8" height="5.8" fill="#6af7bb"/>
<rect x="420.1" y="241.3" width="5.8" height="5.8" fill="#6af7bb"/>
<rect x="421.7" y="242.4" width="5.8" height="5.8" fill="#6af7bb"/>
<rect x="423.3" y="241.7" width="5.8" height="5.8" fill="#6af7bb"/>
<rect x="424.9" y="242.1" width="5.8" height="5.8" fill="#6af7bb"/>
<rect x="426.5" y="245.0" width="5.8" height="5.8" fill="#6af7bb"/>
<rect x="428.1" y="246.0" width="5.8" height="5.8" fill="#6af7bb"/>
<rect x="429.7" y="246.7" width="5.8" height="5.8" fill="#6af7bb"/>
<rect x="431.3" y="248.1" width="5.8" height="5.8" fill="#6af7bb"/>
<rect x="432.9" y="250.5" width="5.8" height="5.8" fill="#6af7bb"/>
<rect x="434.5" y="251.1" width="5.8" height="5.8" fill="#6af7bb"/>
<rect x="436.1" y="252.1" width="5.8" height="5.8" fill="#6af7bb"/>
<rect x="437.7" y="254.8" width="5.8" height="5.8" fill="#6af7bb"/>
<rect x="439.3" y="255.8" width="5.8" height="5.8" fill="#6af7bb"/>
<rect x="440.9" y="258.2" width="5.8" height="5.8" fill="#6af7bb"/>
<rect x="442.5" y="260.3" width="5.8" height="5.8" fill="#6af7bb"/>
<rect x="444.1" y="260.7" width="5.8" height="5.8" fill="#6af7bb"/>
<rect x="445.7" y="262.1" width="5.8" height="5.8" fill="#6af7bb"/>
<rect x="447.3" y="262.7" width="5.8" height="5.8" fill="#6af7bb"/>
<rect x="448.9" y="265.2" width="5.8" height="5.8" fill="#6af7bb"/>
<rect x="450.5" y="264.6" width="5.8" height="5.8" fill="#6af7bb"/>
<rect x="452.1" y="267.3" width="5.8" height="5.8" fill="#6af7bb"/>
<rect x="453.7" y="267.7" width="5.8" height="5.8" fill="#6af7bb"/>
<rect x="455.3" y="269.0" width="5.8" height="5.8" fill="#6af7bb"/>
<rect x="456.9" y="269.8" width="5.8" height="5.8" fill="#6af7bb"/>
<rect x="458.5" y="269.5" width="5.8" height="5.8" fill="#6af7bb"/>
<rect x="460.1" y="270.5" width="5.8" height="5.8" fill="#6af7bb"/>
<rect x="461.7" y="273.0" width="5.8" height="5.8" fill="#6af7bb"/>
<rect x="463.3" y="273.1" width="5.8" height="5.8" fill="#6af7bb"/>
<rect x="464.9" y="276.8" width="5.8" height="5.8" fill="#6af7bb"/>
<rect x="466.5" y="277.0" width="5.8" height="5.8" fill="#6af7bb"/>
<rect x="429.5" y="249.0" width="1.6" height="1.6" fill="#1a2a90"/>
<rect x="440.5" y="257.5" width="1.6" height="1.6" fill="#1a2a90"/>
<rect x="418.0" y="240.5" width="1.6" height="1.6" fill="#1a2a90"/>
<rect x="436.0" y="254.5" width="1.6" height="1.6" fill="#1a2a90"/>
<path d="M362.5 206.0v7M361.0 206.0h3M361.0 213.0h3" stroke="#000" stroke-width="0.9" fill="none"/>
<text x="362.5" y="212.3" font-size="8" text-anchor="middle" fill="#000">★</text>
<path d="M369.0 209.5v7M367.5 209.5h3M367.5 216.5h3" stroke="#000" stroke-width="0.9" fill="none"/>
<text x="369.0" y="215.8" font-size="8" text-anchor="middle" fill="#000">★</text>
<path d="M378.0 215.5v7M376.5 215.5h3M376.5 222.5h3" stroke="#000" stroke-width="0.9" fill="none"/>
<text x="378.0" y="221.8" font-size="8" text-anchor="middle" fill="#000">★</text>
<path d="M385.0 219.0v7M383.5 219.0h3M383.5 226.0h3" stroke="#000" stroke-width="0.9" fill="none"/>
<text x="385.0" y="225.3" font-size="8" text-anchor="middle" fill="#000">★</text>
<path d="M390.0 223.5v7M388.5 223.5h3M388.5 230.5h3" stroke="#000" stroke-width="0.9" fill="none"/>
<text x="390.0" y="229.8" font-size="8" text-anchor="middle" fill="#000">★</text>
<path d="M395.5 227.5v7M394.0 227.5h3M394.0 234.5h3" stroke="#000" stroke-width="0.9" fill="none"/>
<text x="395.5" y="233.8" font-size="8" text-anchor="middle" fill="#000">★</text>
<path d="M401.0 232.0v7M399.5 232.0h3M399.5 239.0h3" stroke="#000" stroke-width="0.9" fill="none"/>
<text x="401.0" y="238.3" font-size="8" text-anchor="middle" fill="#000">★</text>
<path d="M406.5 236.5v7M405.0 236.5h3M405.0 243.5h3" stroke="#000" stroke-width="0.9" fill="none"/>
<text x="406.5" y="242.8" font-size="8" text-anchor="middle" fill="#000">★</text>
<path d="M398.0 230.0l2.6 3l-2.6 3l-2.6 -3z" fill="#fff" stroke="#000" stroke-width="0.9"/>
<path d="M404.0 235.0l2.6 3l-2.6 3l-2.6 -3z" fill="#fff" stroke="#000" stroke-width="0.9"/>
<path d="M413.5 241.5l2.6 3l-2.6 3l-2.6 -3z" fill="#fff" stroke="#000" stroke-width="0.9"/>
<path d="M409.5 238.5l2.6 3l-2.6 3l-2.6 -3z" fill="#fff" stroke="#000" stroke-width="0.9"/>
<path d="M457.0 267.3h5l-2.5 4.2z" fill="#22a050"/>
<path d="M393.5 224.0h5l-2.5 4.2z" fill="#22a050"/>
<path d="M416.5 241.5h5l-2.5 4.2z" fill="#22a050"/>
<path d="M373.5 213.0h5l-2.5 4.2z" fill="#22a050"/>
<path d="M334.0 182.8h5.6l-2.8 4.8z" fill="#b535e8"/>
<path d="M381.4 205.5h5.6l-2.8 4.8z" fill="#b535e8"/>
<path d="M394.5 213.8h5.6l-2.8 4.8z" fill="#b535e8"/>
<path d="M401.7 218.5h5.6l-2.8 4.8z" fill="#b535e8"/>
<path d="M415.5 221.5h5.6l-2.8 4.8z" fill="#b535e8"/>
<path d="M429.4 234.6h5.6l-2.8 4.8z" fill="#b535e8"/>
<circle cx="64.7" cy="146.8" r="2.7" fill="#fb0d1b"/>
<path d="M63.3 146.8h2.8" stroke="#000" stroke-width="2.1" fill="none"/>
<circle cx="69.2" cy="149.4" r="2.7" fill="#fb0d1b"/>
<path d="M67.8 149.4h2.8" stroke="#000" stroke-width="2.1" fill="none"/>
<circle cx="73.7" cy="151.5" r="2.7" fill="#fb0d1b"/>
<path d="M72.3 151.5h2.8" stroke="#000" stroke-width="2.1" fill="none"/>
<circle cx="78.2" cy="154.1" r="2.7" fill="#fb0d1b"/>
<path d="M76.8 154.1h2.8" stroke="#000" stroke-width="2.1" fill="none"/>
<circle cx="82.7" cy="156.5" r="2.7" fill="#fb0d1b"/>
<path d="M81.3 156.5h2.8" stroke="#000" stroke-width="2.1" fill="none"/>
<circle cx="87.2" cy="158.5" r="2.7" fill="#fb0d1b"/>
<path d="M85.8 158.5h2.8" stroke="#000" stroke-width="2.1" fill="none"/>
<circle cx="91.7" cy="160.9" r="2.7" fill="#fb0d1b"/>
<path d="M90.3 160.9h2.8" stroke="#000" stroke-width="2.1" fill="none"/>
<circle cx="96.2" cy="163.0" r="2.7" fill="#fb0d1b"/>
<path d="M94.8 163.0h2.8" stroke="#000" stroke-width="2.1" fill="none"/>
<circle cx="100.7" cy="165.6" r="2.7" fill="#fb0d1b"/>
<path d="M99.3 165.6h2.8" stroke="#000" stroke-width="2.1" fill="none"/>
<circle cx="105.2" cy="167.7" r="2.7" fill="#fb0d1b"/>
<path d="M103.8 167.7h2.8" stroke="#000" stroke-width="2.1" fill="none"/>
<circle cx="109.7" cy="170.4" r="2.7" fill="#fb0d1b"/>
<path d="M108.3 170.4h2.8" stroke="#000" stroke-width="2.1" fill="none"/>
<circle cx="114.2" cy="172.8" r="2.7" fill="#fb0d1b"/>
<path d="M112.8 172.8h2.8" stroke="#000" stroke-width="2.1" fill="none"/>
<circle cx="118.7" cy="175.2" r="2.7" fill="#fb0d1b"/>
<path d="M117.3 175.2h2.8" stroke="#000" stroke-width="2.1" fill="none"/>
<circle cx="123.2" cy="177.7" r="2.7" fill="#fb0d1b"/>
<path d="M121.8 177.7h2.8" stroke="#000" stroke-width="2.1" fill="none"/>
<circle cx="127.7" cy="180.2" r="2.7" fill="#fb0d1b"/>
<path d="M126.3 180.2h2.8" stroke="#000" stroke-width="2.1" fill="none"/>
<circle cx="132.2" cy="182.9" r="2.7" fill="#fb0d1b"/>
<path d="M130.8 182.9h2.8" stroke="#000" stroke-width="2.1" fill="none"/>
<circle cx="136.7" cy="185.2" r="2.7" fill="#fb0d1b"/>
<path d="M135.3 185.2h2.8" stroke="#000" stroke-width="2.1" fill="none"/>
<circle cx="141.2" cy="187.9" r="2.7" fill="#fb0d1b"/>
<path d="M139.8 187.9h2.8" stroke="#000" stroke-width="2.1" fill="none"/>
<circle cx="145.7" cy="190.1" r="2.7" fill="#fb0d1b"/>
<path d="M144.3 190.1h2.8" stroke="#000" stroke-width="2.1" fill="none"/>
<circle cx="150.2" cy="192.4" r="2.7" fill="#fb0d1b"/>
<path d="M148.8 192.4h2.8" stroke="#000" stroke-width="2.1" fill="none"/>
<circle cx="154.7" cy="195.0" r="2.7" fill="#fb0d1b"/>
<path d="M153.3 195.0h2.8" stroke="#000" stroke-width="2.1" fill="none"/>
<circle cx="159.2" cy="197.8" r="2.7" fill="#fb0d1b"/>
<path d="M157.8 197.8h2.8" stroke="#000" stroke-width="2.1" fill="none"/>
<circle cx="163.7" cy="200.0" r="2.7" fill="#fb0d1b"/>
<path d="M162.3 200.0h2.8" stroke="#000" stroke-width="2.1" fill="none"/>
<circle cx="168.2" cy="202.8" r="2.7" fill="#fb0d1b"/>
<path d="M166.8 202.8h2.8" stroke="#000" stroke-width="2.1" fill="none"/>
<circle cx="172.7" cy="205.4" r="2.7" fill="#fb0d1b"/>
<path d="M171.3 205.4h2.8" stroke="#000" stroke-width="2.1" fill="none"/>
<circle cx="177.2" cy="207.7" r="2.7" fill="#fb0d1b"/>
<path d="M175.8 207.7h2.8" stroke="#000" stroke-width="2.1" fill="none"/>
<circle cx="181.7" cy="209.9" r="2.7" fill="#fb0d1b"/>
<path d="M180.3 209.9h2.8" stroke="#000" stroke-width="2.1" fill="none"/>
<circle cx="186.2" cy="212.7" r="2.7" fill="#fb0d1b"/>
<path d="M184.8 212.7h2.8" stroke="#000" stroke-width="2.1" fill="none"/>
<circle cx="190.7" cy="215.1" r="2.7" fill="#fb0d1b"/>
<path d="M189.3 215.1h2.8" stroke="#000" stroke-width="2.1" fill="none"/>
<circle cx="195.2" cy="217.9" r="2.7" fill="#fb0d1b"/>
<path d="M193.8 217.9h2.8" stroke="#000" stroke-width="2.1" fill="none"/>
<circle cx="199.7" cy="219.8" r="2.7" fill="#fb0d1b"/>
<path d="M198.3 219.8h2.8" stroke="#000" stroke-width="2.1" fill="none"/>
<circle cx="204.2" cy="221.7" r="2.7" fill="#fb0d1b"/>
<path d="M202.8 221.7h2.8" stroke="#000" stroke-width="2.1" fill="none"/>
<circle cx="208.7" cy="223.3" r="2.7" fill="#fb0d1b"/>
<path d="M207.3 223.3h2.8" stroke="#000" stroke-width="2.1" fill="none"/>
<circle cx="213.2" cy="224.0" r="2.7" fill="#fb0d1b"/>
<path d="M211.8 224.0h2.8" stroke="#000" stroke-width="2.1" fill="none"/>
<circle cx="217.7" cy="224.1" r="2.7" fill="#fb0d1b"/>
<path d="M216.3 224.1h2.8" stroke="#000" stroke-width="2.1" fill="none"/>
<circle cx="222.2" cy="223.9" r="2.7" fill="#fb0d1b"/>
<path d="M220.8 223.9h2.8" stroke="#000" stroke-width="2.1" fill="none"/>
<circle cx="226.7" cy="223.3" r="2.7" fill="#fb0d1b"/>
<path d="M225.3 223.3h2.8" stroke="#000" stroke-width="2.1" fill="none"/>
<circle cx="225.0" cy="214.0" r="2.8" fill="#fb0d1b"/>
<path d="M225.0 213.5v1.0M223.2 213.5h3.6M223.2 214.5h3.6" stroke="#000" stroke-width="1.1" fill="none"/>
<circle cx="228.0" cy="212.5" r="2.8" fill="#fb0d1b"/>
<path d="M228.0 211.9v1.2M226.2 211.9h3.6M226.2 213.1h3.6" stroke="#000" stroke-width="1.1" fill="none"/>
<circle cx="231.0" cy="211.0" r="2.8" fill="#fb0d1b"/>
<path d="M231.0 210.5v1.0M229.2 210.5h3.6M229.2 211.5h3.6" stroke="#000" stroke-width="1.1" fill="none"/>
<circle cx="233.5" cy="209.5" r="2.8" fill="#fb0d1b"/>
<path d="M233.5 208.9v1.2M231.7 208.9h3.6M231.7 210.1h3.6" stroke="#000" stroke-width="1.1" fill="none"/>
<circle cx="235.5" cy="207.2" r="2.8" fill="#fb0d1b"/>
<path d="M235.5 205.9v2.6M233.7 205.9h3.6M233.7 208.5h3.6" stroke="#000" stroke-width="1.1" fill="none"/>
<circle cx="236.6" cy="204.5" r="2.8" fill="#fb0d1b"/>
<path d="M236.6 203.2v2.6M234.8 203.2h3.6M234.8 205.8h3.6" stroke="#000" stroke-width="1.1" fill="none"/>
<circle cx="237.4" cy="201.5" r="2.8" fill="#fb0d1b"/>
<path d="M237.4 200.5v2.0M235.6 200.5h3.6M235.6 202.5h3.6" stroke="#000" stroke-width="1.1" fill="none"/>
<circle cx="237.7" cy="197.0" r="2.8" fill="#fb0d1b"/>
<path d="M237.7 196.0v2.0M235.9 196.0h3.6M235.9 198.0h3.6" stroke="#000" stroke-width="1.1" fill="none"/>
<circle cx="237.4" cy="191.0" r="2.8" fill="#fb0d1b"/>
<path d="M237.4 190.5v1.0M235.6 190.5h3.6M235.6 191.5h3.6" stroke="#000" stroke-width="1.1" fill="none"/>
<circle cx="237.2" cy="185.0" r="2.8" fill="#fb0d1b"/>
<path d="M237.2 184.5v1.0M235.4 184.5h3.6M235.4 185.5h3.6" stroke="#000" stroke-width="1.1" fill="none"/>
<circle cx="224.5" cy="187.7" r="2.8" fill="#fb0d1b"/>
<path d="M224.5 186.7v2.0M222.7 186.7h3.6M222.7 188.7h3.6" stroke="#000" stroke-width="1.1" fill="none"/>
<circle cx="224.5" cy="194.7" r="2.8" fill="#fb0d1b"/>
<path d="M224.5 193.4v2.6M222.7 193.4h3.6M222.7 196.0h3.6" stroke="#000" stroke-width="1.1" fill="none"/>
<circle cx="237.2" cy="178.7" r="2.8" fill="#fb0d1b"/>
<path d="M237.2 178.2v1.0M235.4 178.2h3.6M235.4 179.2h3.6" stroke="#000" stroke-width="1.1" fill="none"/>
<circle cx="237.2" cy="166.7" r="2.8" fill="#fb0d1b"/>
<path d="M237.2 165.7v2.0M235.4 165.7h3.6M235.4 167.7h3.6" stroke="#000" stroke-width="1.1" fill="none"/>
<circle cx="237.2" cy="154.7" r="2.8" fill="#fb0d1b"/>
<path d="M237.2 153.4v2.6M235.4 153.4h3.6M235.4 156.0h3.6" stroke="#000" stroke-width="1.1" fill="none"/>
<circle cx="237.2" cy="142.0" r="2.8" fill="#fb0d1b"/>
<path d="M237.2 140.7v2.6M235.4 140.7h3.6M235.4 143.3h3.6" stroke="#000" stroke-width="1.1" fill="none"/>
<circle cx="237.2" cy="130.0" r="2.8" fill="#fb0d1b"/>
<path d="M237.2 129.5v1.0M235.4 129.5h3.6M235.4 130.5h3.6" stroke="#000" stroke-width="1.1" fill="none"/>
<circle cx="237.3" cy="115.3" r="2.8" fill="#fb0d1b"/>
<path d="M237.3 114.8v1.0M235.5 114.8h3.6M235.5 115.8h3.6" stroke="#000" stroke-width="1.1" fill="none"/>
<circle cx="237.3" cy="102.0" r="2.8" fill="#fb0d1b"/>
<path d="M237.3 100.7v2.6M235.5 100.7h3.6M235.5 103.3h3.6" stroke="#000" stroke-width="1.1" fill="none"/>
<circle cx="238.2" cy="96.2" r="2.8" fill="#fb0d1b"/>
<path d="M238.2 95.7v1.0M236.4 95.7h3.6M236.4 96.7h3.6" stroke="#000" stroke-width="1.1" fill="none"/>
<circle cx="246.5" cy="65.0" r="2.8" fill="#fb0d1b"/>
<path d="M246.5 64.0v2.0M244.7 64.0h3.6M244.7 66.0h3.6" stroke="#000" stroke-width="1.1" fill="none"/>
<circle cx="246.4" cy="81.7" r="2.8" fill="#fb0d1b"/>
<path d="M246.4 80.4v2.6M244.6 80.4h3.6M244.6 83.0h3.6" stroke="#000" stroke-width="1.1" fill="none"/>
<circle cx="246.2" cy="88.3" r="2.8" fill="#fb0d1b"/>
<path d="M246.2 87.0v2.6M244.4 87.0h3.6M244.4 89.6h3.6" stroke="#000" stroke-width="1.1" fill="none"/>
<circle cx="246.5" cy="95.2" r="2.8" fill="#fb0d1b"/>
<path d="M246.5 94.6v1.2M244.7 94.6h3.6M244.7 95.8h3.6" stroke="#000" stroke-width="1.1" fill="none"/>
<circle cx="246.3" cy="111.2" r="2.8" fill="#fb0d1b"/>
<path d="M246.3 110.7v1.0M244.5 110.7h3.6M244.5 111.7h3.6" stroke="#000" stroke-width="1.1" fill="none"/>
<circle cx="246.5" cy="116.8" r="2.8" fill="#fb0d1b"/>
<path d="M246.5 115.5v2.6M244.7 115.5h3.6M244.7 118.1h3.6" stroke="#000" stroke-width="1.1" fill="none"/>
<circle cx="246.4" cy="124.7" r="2.8" fill="#fb0d1b"/>
<path d="M246.4 124.2v1.0M244.6 124.2h3.6M244.6 125.2h3.6" stroke="#000" stroke-width="1.1" fill="none"/>
<circle cx="249.7" cy="64.5" r="2.8" fill="#fb0d1b"/>
<path d="M249.7 63.9v1.2M247.9 63.9h3.6M247.9 65.1h3.6" stroke="#000" stroke-width="1.1" fill="none"/>
<circle cx="249.8" cy="95.2" r="2.8" fill="#fb0d1b"/>
<path d="M249.8 93.9v2.6M248.0 93.9h3.6M248.0 96.5h3.6" stroke="#000" stroke-width="1.1" fill="none"/>
<circle cx="250.2" cy="106.7" r="2.8" fill="#fb0d1b"/>
<path d="M250.2 105.7v2.0M248.4 105.7h3.6M248.4 107.7h3.6" stroke="#000" stroke-width="1.1" fill="none"/>
<circle cx="249.9" cy="121.0" r="2.8" fill="#fb0d1b"/>
<path d="M249.9 120.4v1.2M248.1 120.4h3.6M248.1 121.6h3.6" stroke="#000" stroke-width="1.1" fill="none"/>
<circle cx="253.5" cy="86.2" r="2.8" fill="#fb0d1b"/>
<path d="M253.5 85.2v2.0M251.7 85.2h3.6M251.7 87.2h3.6" stroke="#000" stroke-width="1.1" fill="none"/>
<circle cx="253.5" cy="115.3" r="2.8" fill="#fb0d1b"/>
<path d="M253.5 114.7v1.2M251.7 114.7h3.6M251.7 115.9h3.6" stroke="#000" stroke-width="1.1" fill="none"/>
<circle cx="253.7" cy="124.0" r="2.8" fill="#fb0d1b"/>
<path d="M253.7 123.5v1.0M251.9 123.5h3.6M251.9 124.5h3.6" stroke="#000" stroke-width="1.1" fill="none"/>
<circle cx="264.3" cy="94.0" r="2.8" fill="#fb0d1b"/>
<path d="M264.3 92.7v2.6M262.5 92.7h3.6M262.5 95.3h3.6" stroke="#000" stroke-width="1.1" fill="none"/>
<circle cx="264.5" cy="115.7" r="2.8" fill="#fb0d1b"/>
<path d="M264.5 114.4v2.6M262.7 114.4h3.6M262.7 117.0h3.6" stroke="#000" stroke-width="1.1" fill="none"/>
<circle cx="264.3" cy="130.0" r="2.8" fill="#fb0d1b"/>
<path d="M264.3 129.4v1.2M262.5 129.4h3.6M262.5 130.6h3.6" stroke="#000" stroke-width="1.1" fill="none"/>
<circle cx="264.6" cy="137.5" r="2.8" fill="#fb0d1b"/>
<path d="M264.6 136.9v1.2M262.8 136.9h3.6M262.8 138.1h3.6" stroke="#000" stroke-width="1.1" fill="none"/>
<circle cx="264.2" cy="160.0" r="2.8" fill="#fb0d1b"/>
<path d="M264.2 159.4v1.2M262.4 159.4h3.6M262.4 160.6h3.6" stroke="#000" stroke-width="1.1" fill="none"/>
<circle cx="264.7" cy="167.5" r="2.8" fill="#fb0d1b"/>
<path d="M264.7 166.5v2.0M262.9 166.5h3.6M262.9 168.5h3.6" stroke="#000" stroke-width="1.1" fill="none"/>
<circle cx="264.6" cy="178.0" r="2.8" fill="#fb0d1b"/>
<path d="M264.6 177.5v1.0M262.8 177.5h3.6M262.8 178.5h3.6" stroke="#000" stroke-width="1.1" fill="none"/>
<circle cx="264.7" cy="186.0" r="2.8" fill="#fb0d1b"/>
<path d="M264.7 185.4v1.2M262.9 185.4h3.6M262.9 186.6h3.6" stroke="#000" stroke-width="1.1" fill="none"/>
<circle cx="267.3" cy="108.2" r="2.8" fill="#fb0d1b"/>
<path d="M267.3 107.6v1.2M265.5 107.6h3.6M265.5 108.8h3.6" stroke="#000" stroke-width="1.1" fill="none"/>
<circle cx="267.2" cy="120.2" r="2.8" fill="#fb0d1b"/>
<path d="M267.2 119.2v2.0M265.4 119.2h3.6M265.4 121.2h3.6" stroke="#000" stroke-width="1.1" fill="none"/>
<circle cx="267.2" cy="130.0" r="2.8" fill="#fb0d1b"/>
<path d="M267.2 129.5v1.0M265.4 129.5h3.6M265.4 130.5h3.6" stroke="#000" stroke-width="1.1" fill="none"/>
<circle cx="267.6" cy="139.7" r="2.8" fill="#fb0d1b"/>
<path d="M267.6 139.1v1.2M265.8 139.1h3.6M265.8 140.3h3.6" stroke="#000" stroke-width="1.1" fill="none"/>
<circle cx="267.1" cy="152.0" r="2.8" fill="#fb0d1b"/>
<path d="M267.1 150.7v2.6M265.3 150.7h3.6M265.3 153.3h3.6" stroke="#000" stroke-width="1.1" fill="none"/>
<circle cx="267.4" cy="163.0" r="2.8" fill="#fb0d1b"/>
<path d="M267.4 162.5v1.0M265.6 162.5h3.6M265.6 163.5h3.6" stroke="#000" stroke-width="1.1" fill="none"/>
<circle cx="267.5" cy="174.0" r="2.8" fill="#fb0d1b"/>
<path d="M267.5 172.7v2.6M265.7 172.7h3.6M265.7 175.3h3.6" stroke="#000" stroke-width="1.1" fill="none"/>
<circle cx="267.4" cy="184.0" r="2.8" fill="#fb0d1b"/>
<path d="M267.4 182.7v2.6M265.6 182.7h3.6M265.6 185.3h3.6" stroke="#000" stroke-width="1.1" fill="none"/>
<circle cx="275.6" cy="124.7" r="2.8" fill="#fb0d1b"/>
<path d="M275.6 124.1v1.2M273.8 124.1h3.6M273.8 125.3h3.6" stroke="#000" stroke-width="1.1" fill="none"/>
<circle cx="275.5" cy="126.2" r="2.8" fill="#fb0d1b"/>
<path d="M275.5 125.7v1.0M273.7 125.7h3.6M273.7 126.7h3.6" stroke="#000" stroke-width="1.1" fill="none"/>
<circle cx="275.8" cy="147.2" r="2.8" fill="#fb0d1b"/>
<path d="M275.8 145.9v2.6M274.0 145.9h3.6M274.0 148.5h3.6" stroke="#000" stroke-width="1.1" fill="none"/>
<circle cx="275.9" cy="158.0" r="2.8" fill="#fb0d1b"/>
<path d="M275.9 157.0v2.0M274.1 157.0h3.6M274.1 159.0h3.6" stroke="#000" stroke-width="1.1" fill="none"/>
<circle cx="275.6" cy="170.0" r="2.8" fill="#fb0d1b"/>
<path d="M275.6 169.5v1.0M273.8 169.5h3.6M273.8 170.5h3.6" stroke="#000" stroke-width="1.1" fill="none"/>
<circle cx="275.9" cy="181.0" r="2.8" fill="#fb0d1b"/>
<path d="M275.9 180.0v2.0M274.1 180.0h3.6M274.1 182.0h3.6" stroke="#000" stroke-width="1.1" fill="none"/>
<circle cx="280.3" cy="130.0" r="2.8" fill="#fb0d1b"/>
<path d="M280.3 129.0v2.0M278.5 129.0h3.6M278.5 131.0h3.6" stroke="#000" stroke-width="1.1" fill="none"/>
<circle cx="280.7" cy="141.0" r="2.8" fill="#fb0d1b"/>
<path d="M280.7 140.4v1.2M278.9 140.4h3.6M278.9 141.6h3.6" stroke="#000" stroke-width="1.1" fill="none"/>
<circle cx="280.6" cy="160.0" r="2.8" fill="#fb0d1b"/>
<path d="M280.6 159.4v1.2M278.8 159.4h3.6M278.8 160.6h3.6" stroke="#000" stroke-width="1.1" fill="none"/>
<circle cx="280.4" cy="171.0" r="2.8" fill="#fb0d1b"/>
<path d="M280.4 170.4v1.2M278.6 170.4h3.6M278.6 171.6h3.6" stroke="#000" stroke-width="1.1" fill="none"/>
<circle cx="280.6" cy="183.0" r="2.8" fill="#fb0d1b"/>
<path d="M280.6 182.4v1.2M278.8 182.4h3.6M278.8 183.6h3.6" stroke="#000" stroke-width="1.1" fill="none"/>
<circle cx="283.6" cy="128.0" r="2.8" fill="#fb0d1b"/>
<path d="M283.6 127.5v1.0M281.8 127.5h3.6M281.8 128.5h3.6" stroke="#000" stroke-width="1.1" fill="none"/>
<circle cx="283.3" cy="137.0" r="2.8" fill="#fb0d1b"/>
<path d="M283.3 136.4v1.2M281.5 136.4h3.6M281.5 137.6h3.6" stroke="#000" stroke-width="1.1" fill="none"/>
<circle cx="283.4" cy="170.0" r="2.8" fill="#fb0d1b"/>
<path d="M283.4 168.7v2.6M281.6 168.7h3.6M281.6 171.3h3.6" stroke="#000" stroke-width="1.1" fill="none"/>
<circle cx="283.7" cy="180.0" r="2.8" fill="#fb0d1b"/>
<path d="M283.7 179.0v2.0M281.9 179.0h3.6M281.9 181.0h3.6" stroke="#000" stroke-width="1.1" fill="none"/>
<circle cx="283.4" cy="190.0" r="2.8" fill="#fb0d1b"/>
<path d="M283.4 189.0v2.0M281.6 189.0h3.6M281.6 191.0h3.6" stroke="#000" stroke-width="1.1" fill="none"/>
<circle cx="252.3" cy="128.7" r="2.8" fill="#fb0d1b"/>
<path d="M252.3 128.2v1.0M250.5 128.2h3.6M250.5 129.2h3.6" stroke="#000" stroke-width="1.1" fill="none"/>
<circle cx="246.0" cy="193.2" r="2.8" fill="#fb0d1b"/>
<path d="M246.0 192.7v1.0M244.2 192.7h3.6M244.2 193.7h3.6" stroke="#000" stroke-width="1.1" fill="none"/>
<circle cx="243.0" cy="124.3" r="2.8" fill="#fb0d1b"/>
<path d="M243.0 123.7v1.2M241.2 123.7h3.6M241.2 124.9h3.6" stroke="#000" stroke-width="1.1" fill="none"/>
<circle cx="246.1" cy="170.8" r="2.8" fill="#fb0d1b"/>
<path d="M246.1 169.8v2.0M244.3 169.8h3.6M244.3 171.8h3.6" stroke="#000" stroke-width="1.1" fill="none"/>
<circle cx="251.5" cy="151.8" r="2.8" fill="#fb0d1b"/>
<path d="M251.5 150.5v2.6M249.7 150.5h3.6M249.7 153.1h3.6" stroke="#000" stroke-width="1.1" fill="none"/>
<circle cx="244.1" cy="171.3" r="2.8" fill="#fb0d1b"/>
<path d="M244.1 170.0v2.6M242.3 170.0h3.6M242.3 172.6h3.6" stroke="#000" stroke-width="1.1" fill="none"/>
<circle cx="249.0" cy="178.7" r="2.8" fill="#fb0d1b"/>
<path d="M249.0 177.7v2.0M247.2 177.7h3.6M247.2 179.7h3.6" stroke="#000" stroke-width="1.1" fill="none"/>
<circle cx="246.6" cy="153.2" r="2.8" fill="#fb0d1b"/>
<path d="M246.6 152.7v1.0M244.8 152.7h3.6M244.8 153.7h3.6" stroke="#000" stroke-width="1.1" fill="none"/>
<circle cx="253.9" cy="147.0" r="2.8" fill="#fb0d1b"/>
<path d="M253.9 146.4v1.2M252.1 146.4h3.6M252.1 147.6h3.6" stroke="#000" stroke-width="1.1" fill="none"/>
<circle cx="252.7" cy="132.6" r="2.8" fill="#fb0d1b"/>
<path d="M252.7 131.6v2.0M250.9 131.6h3.6M250.9 133.6h3.6" stroke="#000" stroke-width="1.1" fill="none"/>
<circle cx="247.0" cy="138.0" r="2.8" fill="#fb0d1b"/>
<path d="M247.0 137.5v1.0M245.2 137.5h3.6M245.2 138.5h3.6" stroke="#000" stroke-width="1.1" fill="none"/>
<circle cx="245.9" cy="193.4" r="2.8" fill="#fb0d1b"/>
<path d="M245.9 192.4v2.0M244.1 192.4h3.6M244.1 194.4h3.6" stroke="#000" stroke-width="1.1" fill="none"/>
<circle cx="251.3" cy="179.6" r="2.8" fill="#fb0d1b"/>
<path d="M251.3 179.1v1.0M249.5 179.1h3.6M249.5 180.1h3.6" stroke="#000" stroke-width="1.1" fill="none"/>
<circle cx="254.8" cy="175.6" r="2.8" fill="#fb0d1b"/>
<path d="M254.8 174.3v2.6M253.0 174.3h3.6M253.0 176.9h3.6" stroke="#000" stroke-width="1.1" fill="none"/>
<circle cx="250.0" cy="184.6" r="2.8" fill="#fb0d1b"/>
<path d="M250.0 183.3v2.6M248.2 183.3h3.6M248.2 185.9h3.6" stroke="#000" stroke-width="1.1" fill="none"/>
<circle cx="246.4" cy="158.6" r="2.8" fill="#fb0d1b"/>
<path d="M246.4 158.1v1.0M244.6 158.1h3.6M244.6 159.1h3.6" stroke="#000" stroke-width="1.1" fill="none"/>
<circle cx="249.1" cy="168.7" r="2.8" fill="#fb0d1b"/>
<path d="M249.1 167.4v2.6M247.3 167.4h3.6M247.3 170.0h3.6" stroke="#000" stroke-width="1.1" fill="none"/>
<circle cx="243.1" cy="201.9" r="2.8" fill="#fb0d1b"/>
<path d="M243.1 201.4v1.0M241.3 201.4h3.6M241.3 202.4h3.6" stroke="#000" stroke-width="1.1" fill="none"/>
<circle cx="249.8" cy="152.6" r="2.8" fill="#fb0d1b"/>
<path d="M249.8 152.1v1.0M248.0 152.1h3.6M248.0 153.1h3.6" stroke="#000" stroke-width="1.1" fill="none"/>
<circle cx="251.2" cy="151.1" r="2.8" fill="#fb0d1b"/>
<path d="M251.2 150.6v1.0M249.4 150.6h3.6M249.4 151.6h3.6" stroke="#000" stroke-width="1.1" fill="none"/>
<circle cx="256.0" cy="149.1" r="2.8" fill="#fb0d1b"/>
<path d="M256.0 148.6v1.0M254.2 148.6h3.6M254.2 149.6h3.6" stroke="#000" stroke-width="1.1" fill="none"/>
<circle cx="250.3" cy="165.9" r="2.8" fill="#fb0d1b"/>
<path d="M250.3 164.9v2.0M248.5 164.9h3.6M248.5 166.9h3.6" stroke="#000" stroke-width="1.1" fill="none"/>
<circle cx="252.3" cy="183.2" r="2.8" fill="#fb0d1b"/>
<path d="M252.3 182.6v1.2M250.5 182.6h3.6M250.5 183.8h3.6" stroke="#000" stroke-width="1.1" fill="none"/>
<circle cx="246.5" cy="157.3" r="2.8" fill="#fb0d1b"/>
<path d="M246.5 156.0v2.6M244.7 156.0h3.6M244.7 158.6h3.6" stroke="#000" stroke-width="1.1" fill="none"/>
<circle cx="246.6" cy="173.5" r="2.8" fill="#fb0d1b"/>
<path d="M246.6 172.5v2.0M244.8 172.5h3.6M244.8 174.5h3.6" stroke="#000" stroke-width="1.1" fill="none"/>
<circle cx="243.5" cy="179.1" r="2.8" fill="#fb0d1b"/>
<path d="M243.5 178.6v1.0M241.7 178.6h3.6M241.7 179.6h3.6" stroke="#000" stroke-width="1.1" fill="none"/>
<circle cx="244.0" cy="142.2" r="2.8" fill="#fb0d1b"/>
<path d="M244.0 141.2v2.0M242.2 141.2h3.6M242.2 143.2h3.6" stroke="#000" stroke-width="1.1" fill="none"/>
<circle cx="250.8" cy="166.4" r="2.8" fill="#fb0d1b"/>
<path d="M250.8 165.8v1.2M249.0 165.8h3.6M249.0 167.0h3.6" stroke="#000" stroke-width="1.1" fill="none"/>
<circle cx="246.7" cy="169.8" r="2.8" fill="#fb0d1b"/>
<path d="M246.7 169.3v1.0M244.9 169.3h3.6M244.9 170.3h3.6" stroke="#000" stroke-width="1.1" fill="none"/>
<circle cx="244.6" cy="173.9" r="2.8" fill="#fb0d1b"/>
<path d="M244.6 172.6v2.6M242.8 172.6h3.6M242.8 175.2h3.6" stroke="#000" stroke-width="1.1" fill="none"/>
<circle cx="248.2" cy="159.6" r="2.8" fill="#fb0d1b"/>
<path d="M248.2 159.0v1.2M246.4 159.0h3.6M246.4 160.2h3.6" stroke="#000" stroke-width="1.1" fill="none"/>
<circle cx="251.3" cy="140.3" r="2.8" fill="#fb0d1b"/>
<path d="M251.3 139.0v2.6M249.5 139.0h3.6M249.5 141.6h3.6" stroke="#000" stroke-width="1.1" fill="none"/>
<circle cx="250.2" cy="183.8" r="2.8" fill="#fb0d1b"/>
<path d="M250.2 182.5v2.6M248.4 182.5h3.6M248.4 185.1h3.6" stroke="#000" stroke-width="1.1" fill="none"/>
<circle cx="253.4" cy="141.0" r="2.8" fill="#fb0d1b"/>
<path d="M253.4 139.7v2.6M251.6 139.7h3.6M251.6 142.3h3.6" stroke="#000" stroke-width="1.1" fill="none"/>
<circle cx="256.4" cy="151.5" r="2.8" fill="#fb0d1b"/>
<path d="M256.4 150.9v1.2M254.6 150.9h3.6M254.6 152.1h3.6" stroke="#000" stroke-width="1.1" fill="none"/>
<circle cx="251.0" cy="160.1" r="2.8" fill="#fb0d1b"/>
<path d="M251.0 159.1v2.0M249.2 159.1h3.6M249.2 161.1h3.6" stroke="#000" stroke-width="1.1" fill="none"/>
<circle cx="254.7" cy="179.1" r="2.8" fill="#fb0d1b"/>
<path d="M254.7 178.6v1.0M252.9 178.6h3.6M252.9 179.6h3.6" stroke="#000" stroke-width="1.1" fill="none"/>
<circle cx="250.0" cy="152.0" r="2.8" fill="#fb0d1b"/>
<path d="M250.0 150.7v2.6M248.2 150.7h3.6M248.2 153.3h3.6" stroke="#000" stroke-width="1.1" fill="none"/>
<circle cx="249.1" cy="150.9" r="2.8" fill="#fb0d1b"/>
<path d="M249.1 150.3v1.2M247.3 150.3h3.6M247.3 151.5h3.6" stroke="#000" stroke-width="1.1" fill="none"/>
<circle cx="247.8" cy="147.8" r="2.8" fill="#fb0d1b"/>
<path d="M247.8 146.5v2.6M246.0 146.5h3.6M246.0 149.1h3.6" stroke="#000" stroke-width="1.1" fill="none"/>
<circle cx="248.0" cy="178.7" r="2.8" fill="#fb0d1b"/>
<path d="M248.0 178.2v1.0M246.2 178.2h3.6M246.2 179.2h3.6" stroke="#000" stroke-width="1.1" fill="none"/>
<circle cx="244.0" cy="174.5" r="2.8" fill="#fb0d1b"/>
<path d="M244.0 173.5v2.0M242.2 173.5h3.6M242.2 175.5h3.6" stroke="#000" stroke-width="1.1" fill="none"/>
<circle cx="254.0" cy="160.2" r="2.8" fill="#fb0d1b"/>
<path d="M254.0 159.7v1.0M252.2 159.7h3.6M252.2 160.7h3.6" stroke="#000" stroke-width="1.1" fill="none"/>
<circle cx="252.8" cy="140.2" r="2.8" fill="#fb0d1b"/>
<path d="M252.8 139.2v2.0M251.0 139.2h3.6M251.0 141.2h3.6" stroke="#000" stroke-width="1.1" fill="none"/>
<circle cx="255.8" cy="174.8" r="2.8" fill="#fb0d1b"/>
<path d="M255.8 173.5v2.6M254.0 173.5h3.6M254.0 176.1h3.6" stroke="#000" stroke-width="1.1" fill="none"/>
<circle cx="254.0" cy="170.7" r="2.8" fill="#fb0d1b"/>
<path d="M254.0 170.1v1.2M252.2 170.1h3.6M252.2 171.3h3.6" stroke="#000" stroke-width="1.1" fill="none"/>
<circle cx="248.1" cy="160.9" r="2.8" fill="#fb0d1b"/>
<path d="M248.1 160.3v1.2M246.3 160.3h3.6M246.3 161.5h3.6" stroke="#000" stroke-width="1.1" fill="none"/>
<circle cx="252.7" cy="126.1" r="2.8" fill="#fb0d1b"/>
<path d="M252.7 125.1v2.0M250.9 125.1h3.6M250.9 127.1h3.6" stroke="#000" stroke-width="1.1" fill="none"/>
<circle cx="248.9" cy="156.0" r="2.8" fill="#fb0d1b"/>
<path d="M248.9 155.5v1.0M247.1 155.5h3.6M247.1 156.5h3.6" stroke="#000" stroke-width="1.1" fill="none"/>
<circle cx="245.2" cy="153.0" r="2.8" fill="#fb0d1b"/>
<path d="M245.2 152.4v1.2M243.4 152.4h3.6M243.4 153.6h3.6" stroke="#000" stroke-width="1.1" fill="none"/>
<circle cx="247.7" cy="135.6" r="2.8" fill="#fb0d1b"/>
<path d="M247.7 134.6v2.0M245.9 134.6h3.6M245.9 136.6h3.6" stroke="#000" stroke-width="1.1" fill="none"/>
<circle cx="246.0" cy="147.1" r="2.8" fill="#fb0d1b"/>
<path d="M246.0 146.6v1.0M244.2 146.6h3.6M244.2 147.6h3.6" stroke="#000" stroke-width="1.1" fill="none"/>
<circle cx="251.4" cy="176.2" r="2.8" fill="#fb0d1b"/>
<path d="M251.4 175.2v2.0M249.6 175.2h3.6M249.6 177.2h3.6" stroke="#000" stroke-width="1.1" fill="none"/>
<circle cx="250.0" cy="148.1" r="2.8" fill="#fb0d1b"/>
<path d="M250.0 147.5v1.2M248.2 147.5h3.6M248.2 148.7h3.6" stroke="#000" stroke-width="1.1" fill="none"/>
<circle cx="252.2" cy="183.7" r="2.8" fill="#fb0d1b"/>
<path d="M252.2 183.2v1.0M250.4 183.2h3.6M250.4 184.2h3.6" stroke="#000" stroke-width="1.1" fill="none"/>
<circle cx="245.6" cy="158.2" r="2.8" fill="#fb0d1b"/>
<path d="M245.6 157.7v1.0M243.8 157.7h3.6M243.8 158.7h3.6" stroke="#000" stroke-width="1.1" fill="none"/>
<circle cx="242.6" cy="124.6" r="2.8" fill="#fb0d1b"/>
<path d="M242.6 124.0v1.2M240.8 124.0h3.6M240.8 125.2h3.6" stroke="#000" stroke-width="1.1" fill="none"/>
<circle cx="254.8" cy="202.4" r="2.8" fill="#fb0d1b"/>
<path d="M254.8 201.9v1.0M253.0 201.9h3.6M253.0 202.9h3.6" stroke="#000" stroke-width="1.1" fill="none"/>
<circle cx="247.5" cy="163.8" r="2.8" fill="#fb0d1b"/>
<path d="M247.5 162.5v2.6M245.7 162.5h3.6M245.7 165.1h3.6" stroke="#000" stroke-width="1.1" fill="none"/>
<circle cx="252.5" cy="140.8" r="2.8" fill="#fb0d1b"/>
<path d="M252.5 139.8v2.0M250.7 139.8h3.6M250.7 141.8h3.6" stroke="#000" stroke-width="1.1" fill="none"/>
<circle cx="243.2" cy="197.5" r="2.8" fill="#fb0d1b"/>
<path d="M243.2 196.2v2.6M241.4 196.2h3.6M241.4 198.8h3.6" stroke="#000" stroke-width="1.1" fill="none"/>
<circle cx="256.1" cy="161.3" r="2.8" fill="#fb0d1b"/>
<path d="M256.1 160.7v1.2M254.3 160.7h3.6M254.3 161.9h3.6" stroke="#000" stroke-width="1.1" fill="none"/>
<circle cx="255.6" cy="175.7" r="2.8" fill="#fb0d1b"/>
<path d="M255.6 174.4v2.6M253.8 174.4h3.6M253.8 177.0h3.6" stroke="#000" stroke-width="1.1" fill="none"/>
<circle cx="242.6" cy="170.1" r="2.8" fill="#fb0d1b"/>
<path d="M242.6 169.1v2.0M240.8 169.1h3.6M240.8 171.1h3.6" stroke="#000" stroke-width="1.1" fill="none"/>
<circle cx="255.0" cy="146.1" r="2.8" fill="#fb0d1b"/>
<path d="M255.0 145.6v1.0M253.2 145.6h3.6M253.2 146.6h3.6" stroke="#000" stroke-width="1.1" fill="none"/>
<circle cx="244.3" cy="206.5" r="2.8" fill="#fb0d1b"/>
<path d="M244.3 205.5v2.0M242.5 205.5h3.6M242.5 207.5h3.6" stroke="#000" stroke-width="1.1" fill="none"/>
<circle cx="246.0" cy="162.0" r="2.8" fill="#fb0d1b"/>
<path d="M246.0 161.0v2.0M244.2 161.0h3.6M244.2 163.0h3.6" stroke="#000" stroke-width="1.1" fill="none"/>
<circle cx="251.8" cy="173.2" r="2.8" fill="#fb0d1b"/>
<path d="M251.8 172.6v1.2M250.0 172.6h3.6M250.0 173.8h3.6" stroke="#000" stroke-width="1.1" fill="none"/>
<circle cx="254.2" cy="134.4" r="2.8" fill="#fb0d1b"/>
<path d="M254.2 133.4v2.0M252.4 133.4h3.6M252.4 135.4h3.6" stroke="#000" stroke-width="1.1" fill="none"/>
<circle cx="252.8" cy="161.8" r="2.8" fill="#fb0d1b"/>
<path d="M252.8 160.8v2.0M251.0 160.8h3.6M251.0 162.8h3.6" stroke="#000" stroke-width="1.1" fill="none"/>
<circle cx="254.6" cy="144.2" r="2.8" fill="#fb0d1b"/>
<path d="M254.6 143.7v1.0M252.8 143.7h3.6M252.8 144.7h3.6" stroke="#000" stroke-width="1.1" fill="none"/>
<circle cx="252.3" cy="138.6" r="2.8" fill="#fb0d1b"/>
<path d="M252.3 138.1v1.0M250.5 138.1h3.6M250.5 139.1h3.6" stroke="#000" stroke-width="1.1" fill="none"/>
<circle cx="244.7" cy="160.3" r="2.8" fill="#fb0d1b"/>
<path d="M244.7 159.3v2.0M242.9 159.3h3.6M242.9 161.3h3.6" stroke="#000" stroke-width="1.1" fill="none"/>
<circle cx="244.2" cy="173.5" r="2.8" fill="#fb0d1b"/>
<path d="M244.2 172.2v2.6M242.4 172.2h3.6M242.4 174.8h3.6" stroke="#000" stroke-width="1.1" fill="none"/>
<circle cx="253.7" cy="189.0" r="2.8" fill="#fb0d1b"/>
<path d="M253.7 187.7v2.6M251.9 187.7h3.6M251.9 190.3h3.6" stroke="#000" stroke-width="1.1" fill="none"/>
<circle cx="245.2" cy="152.8" r="2.8" fill="#fb0d1b"/>
<path d="M245.2 151.8v2.0M243.4 151.8h3.6M243.4 153.8h3.6" stroke="#000" stroke-width="1.1" fill="none"/>
<circle cx="253.6" cy="127.9" r="2.8" fill="#fb0d1b"/>
<path d="M253.6 126.9v2.0M251.8 126.9h3.6M251.8 128.9h3.6" stroke="#000" stroke-width="1.1" fill="none"/>
<circle cx="250.6" cy="149.3" r="2.8" fill="#fb0d1b"/>
<path d="M250.6 148.0v2.6M248.8 148.0h3.6M248.8 150.6h3.6" stroke="#000" stroke-width="1.1" fill="none"/>
<circle cx="244.1" cy="134.9" r="2.8" fill="#fb0d1b"/>
<path d="M244.1 134.4v1.0M242.3 134.4h3.6M242.3 135.4h3.6" stroke="#000" stroke-width="1.1" fill="none"/>
<circle cx="248.5" cy="144.1" r="2.8" fill="#fb0d1b"/>
<path d="M248.5 142.8v2.6M246.7 142.8h3.6M246.7 145.4h3.6" stroke="#000" stroke-width="1.1" fill="none"/>
<circle cx="243.9" cy="140.8" r="2.8" fill="#fb0d1b"/>
<path d="M243.9 139.5v2.6M242.1 139.5h3.6M242.1 142.1h3.6" stroke="#000" stroke-width="1.1" fill="none"/>
<circle cx="255.0" cy="134.4" r="2.8" fill="#fb0d1b"/>
<path d="M255.0 133.8v1.2M253.2 133.8h3.6M253.2 135.0h3.6" stroke="#000" stroke-width="1.1" fill="none"/>
<circle cx="248.5" cy="177.1" r="2.8" fill="#fb0d1b"/>
<path d="M248.5 176.6v1.0M246.7 176.6h3.6M246.7 177.6h3.6" stroke="#000" stroke-width="1.1" fill="none"/>
<circle cx="251.7" cy="160.0" r="2.8" fill="#fb0d1b"/>
<path d="M251.7 158.7v2.6M249.9 158.7h3.6M249.9 161.3h3.6" stroke="#000" stroke-width="1.1" fill="none"/>
<circle cx="249.5" cy="151.6" r="2.8" fill="#fb0d1b"/>
<path d="M249.5 150.6v2.0M247.7 150.6h3.6M247.7 152.6h3.6" stroke="#000" stroke-width="1.1" fill="none"/>
<circle cx="253.1" cy="146.4" r="2.8" fill="#fb0d1b"/>
<path d="M253.1 145.1v2.6M251.3 145.1h3.6M251.3 147.7h3.6" stroke="#000" stroke-width="1.1" fill="none"/>
<circle cx="244.3" cy="196.3" r="2.8" fill="#fb0d1b"/>
<path d="M244.3 195.8v1.0M242.5 195.8h3.6M242.5 196.8h3.6" stroke="#000" stroke-width="1.1" fill="none"/>
<circle cx="244.4" cy="173.1" r="2.8" fill="#fb0d1b"/>
<path d="M244.4 172.5v1.2M242.6 172.5h3.6M242.6 173.7h3.6" stroke="#000" stroke-width="1.1" fill="none"/>
<circle cx="245.4" cy="200.8" r="2.8" fill="#fb0d1b"/>
<path d="M245.4 200.3v1.0M243.6 200.3h3.6M243.6 201.3h3.6" stroke="#000" stroke-width="1.1" fill="none"/>
<circle cx="254.3" cy="200.0" r="2.8" fill="#fb0d1b"/>
<path d="M254.3 199.4v1.2M252.5 199.4h3.6M252.5 200.6h3.6" stroke="#000" stroke-width="1.1" fill="none"/>
<circle cx="243.9" cy="139.3" r="2.8" fill="#fb0d1b"/>
<path d="M243.9 138.7v1.2M242.1 138.7h3.6M242.1 139.9h3.6" stroke="#000" stroke-width="1.1" fill="none"/>
<circle cx="252.5" cy="125.5" r="2.8" fill="#fb0d1b"/>
<path d="M252.5 124.9v1.2M250.7 124.9h3.6M250.7 126.1h3.6" stroke="#000" stroke-width="1.1" fill="none"/>
<circle cx="246.3" cy="153.9" r="2.8" fill="#fb0d1b"/>
<path d="M246.3 152.6v2.6M244.5 152.6h3.6M244.5 155.2h3.6" stroke="#000" stroke-width="1.1" fill="none"/>
<circle cx="255.6" cy="169.6" r="2.8" fill="#fb0d1b"/>
<path d="M255.6 168.3v2.6M253.8 168.3h3.6M253.8 170.9h3.6" stroke="#000" stroke-width="1.1" fill="none"/>
<circle cx="246.0" cy="139.7" r="2.8" fill="#fb0d1b"/>
<path d="M246.0 139.2v1.0M244.2 139.2h3.6M244.2 140.2h3.6" stroke="#000" stroke-width="1.1" fill="none"/>
<circle cx="254.8" cy="177.3" r="2.8" fill="#fb0d1b"/>
<path d="M254.8 176.8v1.0M253.0 176.8h3.6M253.0 177.8h3.6" stroke="#000" stroke-width="1.1" fill="none"/>
<circle cx="244.9" cy="156.9" r="2.8" fill="#fb0d1b"/>
<path d="M244.9 156.3v1.2M243.1 156.3h3.6M243.1 157.5h3.6" stroke="#000" stroke-width="1.1" fill="none"/>
<circle cx="244.7" cy="142.4" r="2.8" fill="#fb0d1b"/>
<path d="M244.7 141.1v2.6M242.9 141.1h3.6M242.9 143.7h3.6" stroke="#000" stroke-width="1.1" fill="none"/>
<circle cx="243.4" cy="190.1" r="2.8" fill="#fb0d1b"/>
<path d="M243.4 188.8v2.6M241.6 188.8h3.6M241.6 191.4h3.6" stroke="#000" stroke-width="1.1" fill="none"/>
<circle cx="242.7" cy="131.4" r="2.8" fill="#fb0d1b"/>
<path d="M242.7 130.9v1.0M240.9 130.9h3.6M240.9 131.9h3.6" stroke="#000" stroke-width="1.1" fill="none"/>
<circle cx="252.1" cy="149.3" r="2.8" fill="#fb0d1b"/>
<path d="M252.1 148.0v2.6M250.3 148.0h3.6M250.3 150.6h3.6" stroke="#000" stroke-width="1.1" fill="none"/>
<circle cx="247.1" cy="140.7" r="2.8" fill="#fb0d1b"/>
<path d="M247.1 140.2v1.0M245.3 140.2h3.6M245.3 141.2h3.6" stroke="#000" stroke-width="1.1" fill="none"/>
<circle cx="254.9" cy="165.2" r="2.8" fill="#fb0d1b"/>
<path d="M254.9 164.7v1.0M253.1 164.7h3.6M253.1 165.7h3.6" stroke="#000" stroke-width="1.1" fill="none"/>
<circle cx="249.2" cy="175.0" r="2.8" fill="#fb0d1b"/>
<path d="M249.2 174.4v1.2M247.4 174.4h3.6M247.4 175.6h3.6" stroke="#000" stroke-width="1.1" fill="none"/>
<circle cx="244.4" cy="168.9" r="2.8" fill="#fb0d1b"/>
<path d="M244.4 168.3v1.2M242.6 168.3h3.6M242.6 169.5h3.6" stroke="#000" stroke-width="1.1" fill="none"/>
<circle cx="244.1" cy="172.9" r="2.8" fill="#fb0d1b"/>
<path d="M244.1 171.9v2.0M242.3 171.9h3.6M242.3 173.9h3.6" stroke="#000" stroke-width="1.1" fill="none"/>
<circle cx="247.2" cy="173.9" r="2.8" fill="#fb0d1b"/>
<path d="M247.2 173.3v1.2M245.4 173.3h3.6M245.4 174.5h3.6" stroke="#000" stroke-width="1.1" fill="none"/>
<circle cx="245.2" cy="155.6" r="2.8" fill="#fb0d1b"/>
<path d="M245.2 154.3v2.6M243.4 154.3h3.6M243.4 156.9h3.6" stroke="#000" stroke-width="1.1" fill="none"/>
<circle cx="252.8" cy="146.5" r="2.8" fill="#fb0d1b"/>
<path d="M252.8 145.5v2.0M251.0 145.5h3.6M251.0 147.5h3.6" stroke="#000" stroke-width="1.1" fill="none"/>
<circle cx="255.5" cy="200.9" r="2.8" fill="#fb0d1b"/>
<path d="M255.5 200.3v1.2M253.7 200.3h3.6M253.7 201.5h3.6" stroke="#000" stroke-width="1.1" fill="none"/>
<circle cx="256.3" cy="147.4" r="2.8" fill="#fb0d1b"/>
<path d="M256.3 146.9v1.0M254.5 146.9h3.6M254.5 147.9h3.6" stroke="#000" stroke-width="1.1" fill="none"/>
<circle cx="247.2" cy="127.6" r="2.8" fill="#fb0d1b"/>
<path d="M247.2 127.0v1.2M245.4 127.0h3.6M245.4 128.2h3.6" stroke="#000" stroke-width="1.1" fill="none"/>
<circle cx="254.6" cy="138.9" r="2.8" fill="#fb0d1b"/>
<path d="M254.6 138.4v1.0M252.8 138.4h3.6M252.8 139.4h3.6" stroke="#000" stroke-width="1.1" fill="none"/>
<circle cx="245.4" cy="153.2" r="2.8" fill="#fb0d1b"/>
<path d="M245.4 152.6v1.2M243.6 152.6h3.6M243.6 153.8h3.6" stroke="#000" stroke-width="1.1" fill="none"/>
<circle cx="244.0" cy="187.7" r="2.8" fill="#fb0d1b"/>
<path d="M244.0 187.1v1.2M242.2 187.1h3.6M242.2 188.3h3.6" stroke="#000" stroke-width="1.1" fill="none"/>
<circle cx="248.3" cy="131.2" r="2.8" fill="#fb0d1b"/>
<path d="M248.3 129.9v2.6M246.5 129.9h3.6M246.5 132.5h3.6" stroke="#000" stroke-width="1.1" fill="none"/>
<circle cx="249.8" cy="142.1" r="2.8" fill="#fb0d1b"/>
<path d="M249.8 140.8v2.6M248.0 140.8h3.6M248.0 143.4h3.6" stroke="#000" stroke-width="1.1" fill="none"/>
<circle cx="251.3" cy="131.6" r="2.8" fill="#fb0d1b"/>
<path d="M251.3 131.0v1.2M249.5 131.0h3.6M249.5 132.2h3.6" stroke="#000" stroke-width="1.1" fill="none"/>
<circle cx="255.2" cy="157.0" r="2.8" fill="#fb0d1b"/>
<path d="M255.2 155.7v2.6M253.4 155.7h3.6M253.4 158.3h3.6" stroke="#000" stroke-width="1.1" fill="none"/>
<circle cx="247.6" cy="171.0" r="2.8" fill="#fb0d1b"/>
<path d="M247.6 170.5v1.0M245.8 170.5h3.6M245.8 171.5h3.6" stroke="#000" stroke-width="1.1" fill="none"/>
<circle cx="282.2" cy="186.0" r="2.8" fill="#fb0d1b"/>
<path d="M282.2 185.5v1.0M280.4 185.5h3.6M280.4 186.5h3.6" stroke="#000" stroke-width="1.1" fill="none"/>
<circle cx="275.5" cy="199.0" r="2.8" fill="#fb0d1b"/>
<path d="M275.5 198.4v1.2M273.7 198.4h3.6M273.7 199.6h3.6" stroke="#000" stroke-width="1.1" fill="none"/>
<circle cx="275.1" cy="206.2" r="2.8" fill="#fb0d1b"/>
<path d="M275.1 205.2v2.0M273.3 205.2h3.6M273.3 207.2h3.6" stroke="#000" stroke-width="1.1" fill="none"/>
<circle cx="257.5" cy="182.1" r="2.8" fill="#fb0d1b"/>
<path d="M257.5 180.8v2.6M255.7 180.8h3.6M255.7 183.4h3.6" stroke="#000" stroke-width="1.1" fill="none"/>
<circle cx="282.3" cy="198.6" r="2.8" fill="#fb0d1b"/>
<path d="M282.3 197.6v2.0M280.5 197.6h3.6M280.5 199.6h3.6" stroke="#000" stroke-width="1.1" fill="none"/>
<circle cx="278.4" cy="195.7" r="2.8" fill="#fb0d1b"/>
<path d="M278.4 194.4v2.6M276.6 194.4h3.6M276.6 197.0h3.6" stroke="#000" stroke-width="1.1" fill="none"/>
<circle cx="261.3" cy="193.0" r="2.8" fill="#fb0d1b"/>
<path d="M261.3 192.0v2.0M259.5 192.0h3.6M259.5 194.0h3.6" stroke="#000" stroke-width="1.1" fill="none"/>
<circle cx="274.8" cy="186.7" r="2.8" fill="#fb0d1b"/>
<path d="M274.8 186.1v1.2M273.0 186.1h3.6M273.0 187.3h3.6" stroke="#000" stroke-width="1.1" fill="none"/>
<circle cx="278.3" cy="184.6" r="2.8" fill="#fb0d1b"/>
<path d="M278.3 184.0v1.2M276.5 184.0h3.6M276.5 185.2h3.6" stroke="#000" stroke-width="1.1" fill="none"/>
<circle cx="278.6" cy="207.7" r="2.8" fill="#fb0d1b"/>
<path d="M278.6 207.1v1.2M276.8 207.1h3.6M276.8 208.3h3.6" stroke="#000" stroke-width="1.1" fill="none"/>
<circle cx="280.4" cy="195.5" r="2.8" fill="#fb0d1b"/>
<path d="M280.4 194.2v2.6M278.6 194.2h3.6M278.6 196.8h3.6" stroke="#000" stroke-width="1.1" fill="none"/>
<circle cx="282.4" cy="189.7" r="2.8" fill="#fb0d1b"/>
<path d="M282.4 188.4v2.6M280.6 188.4h3.6M280.6 191.0h3.6" stroke="#000" stroke-width="1.1" fill="none"/>
<circle cx="264.3" cy="181.7" r="2.8" fill="#fb0d1b"/>
<path d="M264.3 180.7v2.0M262.5 180.7h3.6M262.5 182.7h3.6" stroke="#000" stroke-width="1.1" fill="none"/>
<circle cx="267.6" cy="190.7" r="2.8" fill="#fb0d1b"/>
<path d="M267.6 189.4v2.6M265.8 189.4h3.6M265.8 192.0h3.6" stroke="#000" stroke-width="1.1" fill="none"/>
<circle cx="270.6" cy="193.7" r="2.8" fill="#fb0d1b"/>
<path d="M270.6 193.2v1.0M268.8 193.2h3.6M268.8 194.2h3.6" stroke="#000" stroke-width="1.1" fill="none"/>
<circle cx="257.9" cy="185.5" r="2.8" fill="#fb0d1b"/>
<path d="M257.9 184.9v1.2M256.1 184.9h3.6M256.1 186.1h3.6" stroke="#000" stroke-width="1.1" fill="none"/>
<circle cx="272.7" cy="187.5" r="2.8" fill="#fb0d1b"/>
<path d="M272.7 187.0v1.0M270.9 187.0h3.6M270.9 188.0h3.6" stroke="#000" stroke-width="1.1" fill="none"/>
<circle cx="276.9" cy="191.9" r="2.8" fill="#fb0d1b"/>
<path d="M276.9 191.3v1.2M275.1 191.3h3.6M275.1 192.5h3.6" stroke="#000" stroke-width="1.1" fill="none"/>
<circle cx="263.5" cy="198.5" r="2.8" fill="#fb0d1b"/>
<path d="M263.5 197.2v2.6M261.7 197.2h3.6M261.7 199.8h3.6" stroke="#000" stroke-width="1.1" fill="none"/>
<circle cx="256.1" cy="197.7" r="2.8" fill="#fb0d1b"/>
<path d="M256.1 196.4v2.6M254.3 196.4h3.6M254.3 199.0h3.6" stroke="#000" stroke-width="1.1" fill="none"/>
<circle cx="258.1" cy="182.3" r="2.8" fill="#fb0d1b"/>
<path d="M258.1 181.8v1.0M256.3 181.8h3.6M256.3 182.8h3.6" stroke="#000" stroke-width="1.1" fill="none"/>
<circle cx="258.5" cy="197.9" r="2.8" fill="#fb0d1b"/>
<path d="M258.5 196.9v2.0M256.7 196.9h3.6M256.7 198.9h3.6" stroke="#000" stroke-width="1.1" fill="none"/>
<circle cx="266.8" cy="190.6" r="2.8" fill="#fb0d1b"/>
<path d="M266.8 189.6v2.0M265.0 189.6h3.6M265.0 191.6h3.6" stroke="#000" stroke-width="1.1" fill="none"/>
<circle cx="257.0" cy="191.0" r="2.8" fill="#fb0d1b"/>
<path d="M257.0 189.7v2.6M255.2 189.7h3.6M255.2 192.3h3.6" stroke="#000" stroke-width="1.1" fill="none"/>
<circle cx="278.8" cy="184.6" r="2.8" fill="#fb0d1b"/>
<path d="M278.8 183.3v2.6M277.0 183.3h3.6M277.0 185.9h3.6" stroke="#000" stroke-width="1.1" fill="none"/>
<circle cx="261.9" cy="199.7" r="2.8" fill="#fb0d1b"/>
<path d="M261.9 198.4v2.6M260.1 198.4h3.6M260.1 201.0h3.6" stroke="#000" stroke-width="1.1" fill="none"/>
<circle cx="261.3" cy="178.9" r="2.8" fill="#fb0d1b"/>
<path d="M261.3 177.6v2.6M259.5 177.6h3.6M259.5 180.2h3.6" stroke="#000" stroke-width="1.1" fill="none"/>
<circle cx="267.3" cy="187.9" r="2.8" fill="#fb0d1b"/>
<path d="M267.3 187.3v1.2M265.5 187.3h3.6M265.5 188.5h3.6" stroke="#000" stroke-width="1.1" fill="none"/>
<circle cx="272.8" cy="189.0" r="2.8" fill="#fb0d1b"/>
<path d="M272.8 188.5v1.0M271.0 188.5h3.6M271.0 189.5h3.6" stroke="#000" stroke-width="1.1" fill="none"/>
<circle cx="277.6" cy="199.2" r="2.8" fill="#fb0d1b"/>
<path d="M277.6 198.6v1.2M275.8 198.6h3.6M275.8 199.8h3.6" stroke="#000" stroke-width="1.1" fill="none"/>
<circle cx="276.2" cy="190.8" r="2.8" fill="#fb0d1b"/>
<path d="M276.2 189.5v2.6M274.4 189.5h3.6M274.4 192.1h3.6" stroke="#000" stroke-width="1.1" fill="none"/>
<circle cx="255.8" cy="203.6" r="2.8" fill="#fb0d1b"/>
<path d="M255.8 203.0v1.2M254.0 203.0h3.6M254.0 204.2h3.6" stroke="#000" stroke-width="1.1" fill="none"/>
<circle cx="258.5" cy="178.9" r="2.8" fill="#fb0d1b"/>
<path d="M258.5 177.9v2.0M256.7 177.9h3.6M256.7 179.9h3.6" stroke="#000" stroke-width="1.1" fill="none"/>
<circle cx="279.8" cy="199.0" r="2.8" fill="#fb0d1b"/>
<path d="M279.8 198.0v2.0M278.0 198.0h3.6M278.0 200.0h3.6" stroke="#000" stroke-width="1.1" fill="none"/>
<circle cx="269.3" cy="191.9" r="2.8" fill="#fb0d1b"/>
<path d="M269.3 191.4v1.0M267.5 191.4h3.6M267.5 192.4h3.6" stroke="#000" stroke-width="1.1" fill="none"/>
<circle cx="283.8" cy="203.9" r="2.8" fill="#fb0d1b"/>
<path d="M283.8 203.4v1.0M282.0 203.4h3.6M282.0 204.4h3.6" stroke="#000" stroke-width="1.1" fill="none"/>
<circle cx="260.1" cy="185.1" r="2.8" fill="#fb0d1b"/>
<path d="M260.1 183.8v2.6M258.3 183.8h3.6M258.3 186.4h3.6" stroke="#000" stroke-width="1.1" fill="none"/>
<circle cx="262.4" cy="179.6" r="2.8" fill="#fb0d1b"/>
<path d="M262.4 179.1v1.0M260.6 179.1h3.6M260.6 180.1h3.6" stroke="#000" stroke-width="1.1" fill="none"/>
<circle cx="260.0" cy="193.2" r="2.8" fill="#fb0d1b"/>
<path d="M260.0 192.6v1.2M258.2 192.6h3.6M258.2 193.8h3.6" stroke="#000" stroke-width="1.1" fill="none"/>
<circle cx="274.8" cy="199.9" r="2.8" fill="#fb0d1b"/>
<path d="M274.8 198.6v2.6M273.0 198.6h3.6M273.0 201.2h3.6" stroke="#000" stroke-width="1.1" fill="none"/>
<circle cx="266.4" cy="185.3" r="2.8" fill="#fb0d1b"/>
<path d="M266.4 184.8v1.0M264.6 184.8h3.6M264.6 185.8h3.6" stroke="#000" stroke-width="1.1" fill="none"/>
<circle cx="263.7" cy="201.0" r="2.8" fill="#fb0d1b"/>
<path d="M263.7 200.0v2.0M261.9 200.0h3.6M261.9 202.0h3.6" stroke="#000" stroke-width="1.1" fill="none"/>
<circle cx="271.3" cy="185.3" r="2.8" fill="#fb0d1b"/>
<path d="M271.3 184.3v2.0M269.5 184.3h3.6M269.5 186.3h3.6" stroke="#000" stroke-width="1.1" fill="none"/>
<circle cx="273.7" cy="198.9" r="2.8" fill="#fb0d1b"/>
<path d="M273.7 198.3v1.2M271.9 198.3h3.6M271.9 199.5h3.6" stroke="#000" stroke-width="1.1" fill="none"/>
<circle cx="260.9" cy="188.2" r="2.8" fill="#fb0d1b"/>
<path d="M260.9 186.9v2.6M259.1 186.9h3.6M259.1 189.5h3.6" stroke="#000" stroke-width="1.1" fill="none"/>
<circle cx="296.2" cy="171.9" r="2.8" fill="#fb0d1b"/>
<path d="M296.2 170.3v3.2M294.4 170.3h3.6M294.4 173.5h3.6" stroke="#000" stroke-width="1.1" fill="none"/>
<circle cx="321.3" cy="197.7" r="2.8" fill="#fb0d1b"/>
<path d="M321.3 196.1v3.2M319.5 196.1h3.6M319.5 199.3h3.6" stroke="#000" stroke-width="1.1" fill="none"/>
<circle cx="296.3" cy="204.9" r="2.8" fill="#fb0d1b"/>
<path d="M296.3 204.1v1.6M294.5 204.1h3.6M294.5 205.7h3.6" stroke="#000" stroke-width="1.1" fill="none"/>
<circle cx="322.5" cy="191.0" r="2.8" fill="#fb0d1b"/>
<path d="M322.5 190.2v1.6M320.7 190.2h3.6M320.7 191.8h3.6" stroke="#000" stroke-width="1.1" fill="none"/>
<circle cx="325.3" cy="204.9" r="2.8" fill="#fb0d1b"/>
<path d="M325.3 203.7v2.4M323.5 203.7h3.6M323.5 206.1h3.6" stroke="#000" stroke-width="1.1" fill="none"/>
<circle cx="320.3" cy="205.0" r="2.8" fill="#fb0d1b"/>
<path d="M320.3 204.2v1.6M318.5 204.2h3.6M318.5 205.8h3.6" stroke="#000" stroke-width="1.1" fill="none"/>
<circle cx="317.7" cy="205.7" r="2.8" fill="#fb0d1b"/>
<path d="M317.7 204.5v2.4M315.9 204.5h3.6M315.9 206.9h3.6" stroke="#000" stroke-width="1.1" fill="none"/>
<circle cx="313.5" cy="189.4" r="2.8" fill="#fb0d1b"/>
<path d="M313.5 188.9v1.0M311.7 188.9h3.6M311.7 189.9h3.6" stroke="#000" stroke-width="1.1" fill="none"/>
<circle cx="284.9" cy="191.3" r="2.8" fill="#fb0d1b"/>
<path d="M284.9 188.9v4.8M283.1 188.9h3.6M283.1 193.7h3.6" stroke="#000" stroke-width="1.1" fill="none"/>
<circle cx="301.3" cy="171.6" r="2.8" fill="#fb0d1b"/>
<path d="M301.3 169.2v4.8M299.5 169.2h3.6M299.5 174.0h3.6" stroke="#000" stroke-width="1.1" fill="none"/>
<circle cx="279.8" cy="177.0" r="2.8" fill="#fb0d1b"/>
<path d="M279.8 176.5v1.0M278.0 176.5h3.6M278.0 177.5h3.6" stroke="#000" stroke-width="1.1" fill="none"/>
<circle cx="325.2" cy="205.9" r="2.8" fill="#fb0d1b"/>
<path d="M325.2 204.3v3.2M323.4 204.3h3.6M323.4 207.5h3.6" stroke="#000" stroke-width="1.1" fill="none"/>
<circle cx="296.7" cy="206.8" r="2.8" fill="#fb0d1b"/>
<path d="M296.7 205.6v2.4M294.9 205.6h3.6M294.9 208.0h3.6" stroke="#000" stroke-width="1.1" fill="none"/>
<circle cx="325.5" cy="190.0" r="2.8" fill="#fb0d1b"/>
<path d="M325.5 188.8v2.4M323.7 188.8h3.6M323.7 191.2h3.6" stroke="#000" stroke-width="1.1" fill="none"/>
<circle cx="324.7" cy="196.5" r="2.8" fill="#fb0d1b"/>
<path d="M324.7 195.7v1.6M322.9 195.7h3.6M322.9 197.3h3.6" stroke="#000" stroke-width="1.1" fill="none"/>
<circle cx="308.4" cy="160.9" r="2.8" fill="#fb0d1b"/>
<path d="M308.4 160.1v1.6M306.6 160.1h3.6M306.6 161.7h3.6" stroke="#000" stroke-width="1.1" fill="none"/>
<circle cx="280.7" cy="185.2" r="2.8" fill="#fb0d1b"/>
<path d="M280.7 182.8v4.8M278.9 182.8h3.6M278.9 187.6h3.6" stroke="#000" stroke-width="1.1" fill="none"/>
<circle cx="313.6" cy="200.0" r="2.8" fill="#fb0d1b"/>
<path d="M313.6 198.4v3.2M311.8 198.4h3.6M311.8 201.6h3.6" stroke="#000" stroke-width="1.1" fill="none"/>
<circle cx="317.5" cy="192.4" r="2.8" fill="#fb0d1b"/>
<path d="M317.5 190.8v3.2M315.7 190.8h3.6M315.7 194.0h3.6" stroke="#000" stroke-width="1.1" fill="none"/>
<circle cx="280.8" cy="174.8" r="2.8" fill="#fb0d1b"/>
<path d="M280.8 174.0v1.6M279.0 174.0h3.6M279.0 175.6h3.6" stroke="#000" stroke-width="1.1" fill="none"/>
<circle cx="301.6" cy="197.2" r="2.8" fill="#fb0d1b"/>
<path d="M301.6 196.0v2.4M299.8 196.0h3.6M299.8 198.4h3.6" stroke="#000" stroke-width="1.1" fill="none"/>
<circle cx="314.8" cy="206.0" r="2.8" fill="#fb0d1b"/>
<path d="M314.8 205.5v1.0M313.0 205.5h3.6M313.0 206.5h3.6" stroke="#000" stroke-width="1.1" fill="none"/>
<circle cx="316.7" cy="190.8" r="2.8" fill="#fb0d1b"/>
<path d="M316.7 190.3v1.0M314.9 190.3h3.6M314.9 191.3h3.6" stroke="#000" stroke-width="1.1" fill="none"/>
<circle cx="280.4" cy="170.7" r="2.8" fill="#fb0d1b"/>
<path d="M280.4 169.1v3.2M278.6 169.1h3.6M278.6 172.3h3.6" stroke="#000" stroke-width="1.1" fill="none"/>
<circle cx="284.0" cy="191.2" r="2.8" fill="#fb0d1b"/>
<path d="M284.0 189.6v3.2M282.2 189.6h3.6M282.2 192.8h3.6" stroke="#000" stroke-width="1.1" fill="none"/>
<circle cx="291.3" cy="176.6" r="2.8" fill="#fb0d1b"/>
<path d="M291.3 175.0v3.2M289.5 175.0h3.6M289.5 178.2h3.6" stroke="#000" stroke-width="1.1" fill="none"/>
<circle cx="305.1" cy="201.7" r="2.8" fill="#fb0d1b"/>
<path d="M305.1 200.9v1.6M303.3 200.9h3.6M303.3 202.5h3.6" stroke="#000" stroke-width="1.1" fill="none"/>
<circle cx="317.2" cy="201.4" r="2.8" fill="#fb0d1b"/>
<path d="M317.2 200.9v1.0M315.4 200.9h3.6M315.4 201.9h3.6" stroke="#000" stroke-width="1.1" fill="none"/>
<circle cx="326.8" cy="195.1" r="2.8" fill="#fb0d1b"/>
<path d="M326.8 193.5v3.2M325.0 193.5h3.6M325.0 196.7h3.6" stroke="#000" stroke-width="1.1" fill="none"/>
<circle cx="306.9" cy="178.3" r="2.8" fill="#fb0d1b"/>
<path d="M306.9 175.9v4.8M305.1 175.9h3.6M305.1 180.7h3.6" stroke="#000" stroke-width="1.1" fill="none"/>
<circle cx="326.7" cy="204.7" r="2.8" fill="#fb0d1b"/>
<path d="M326.7 203.1v3.2M324.9 203.1h3.6M324.9 206.3h3.6" stroke="#000" stroke-width="1.1" fill="none"/>
<circle cx="284.2" cy="172.5" r="2.8" fill="#fb0d1b"/>
<path d="M284.2 171.3v2.4M282.4 171.3h3.6M282.4 173.7h3.6" stroke="#000" stroke-width="1.1" fill="none"/>
<circle cx="279.2" cy="196.3" r="2.8" fill="#fb0d1b"/>
<path d="M279.2 193.9v4.8M277.4 193.9h3.6M277.4 198.7h3.6" stroke="#000" stroke-width="1.1" fill="none"/>
<circle cx="287.3" cy="190.5" r="2.8" fill="#fb0d1b"/>
<path d="M287.3 189.7v1.6M285.5 189.7h3.6M285.5 191.3h3.6" stroke="#000" stroke-width="1.1" fill="none"/>
<circle cx="300.5" cy="201.4" r="2.8" fill="#fb0d1b"/>
<path d="M300.5 199.8v3.2M298.7 199.8h3.6M298.7 203.0h3.6" stroke="#000" stroke-width="1.1" fill="none"/>
<circle cx="326.3" cy="204.0" r="2.8" fill="#fb0d1b"/>
<path d="M326.3 202.8v2.4M324.5 202.8h3.6M324.5 205.2h3.6" stroke="#000" stroke-width="1.1" fill="none"/>
<circle cx="313.3" cy="204.1" r="2.8" fill="#fb0d1b"/>
<path d="M313.3 201.7v4.8M311.5 201.7h3.6M311.5 206.5h3.6" stroke="#000" stroke-width="1.1" fill="none"/>
<circle cx="308.9" cy="190.4" r="2.8" fill="#fb0d1b"/>
<path d="M308.9 188.0v4.8M307.1 188.0h3.6M307.1 192.8h3.6" stroke="#000" stroke-width="1.1" fill="none"/>
<circle cx="325.3" cy="197.2" r="2.8" fill="#fb0d1b"/>
<path d="M325.3 196.7v1.0M323.5 196.7h3.6M323.5 197.7h3.6" stroke="#000" stroke-width="1.1" fill="none"/>
<circle cx="282.9" cy="145.0" r="2.8" fill="#fb0d1b"/>
<path d="M282.9 143.8v2.4M281.1 143.8h3.6M281.1 146.2h3.6" stroke="#000" stroke-width="1.1" fill="none"/>
<circle cx="292.3" cy="181.1" r="2.8" fill="#fb0d1b"/>
<path d="M292.3 180.6v1.0M290.5 180.6h3.6M290.5 181.6h3.6" stroke="#000" stroke-width="1.1" fill="none"/>
<circle cx="281.0" cy="173.8" r="2.8" fill="#fb0d1b"/>
<path d="M281.0 173.3v1.0M279.2 173.3h3.6M279.2 174.3h3.6" stroke="#000" stroke-width="1.1" fill="none"/>
<circle cx="295.2" cy="163.3" r="2.8" fill="#fb0d1b"/>
<path d="M295.2 160.9v4.8M293.4 160.9h3.6M293.4 165.7h3.6" stroke="#000" stroke-width="1.1" fill="none"/>
<circle cx="323.5" cy="203.9" r="2.8" fill="#fb0d1b"/>
<path d="M323.5 201.5v4.8M321.7 201.5h3.6M321.7 206.3h3.6" stroke="#000" stroke-width="1.1" fill="none"/>
<circle cx="304.7" cy="198.7" r="2.8" fill="#fb0d1b"/>
<path d="M304.7 197.1v3.2M302.9 197.1h3.6M302.9 200.3h3.6" stroke="#000" stroke-width="1.1" fill="none"/>
<circle cx="325.1" cy="192.9" r="2.8" fill="#fb0d1b"/>
<path d="M325.1 191.3v3.2M323.3 191.3h3.6M323.3 194.5h3.6" stroke="#000" stroke-width="1.1" fill="none"/>
<circle cx="295.7" cy="186.8" r="2.8" fill="#fb0d1b"/>
<path d="M295.7 186.3v1.0M293.9 186.3h3.6M293.9 187.3h3.6" stroke="#000" stroke-width="1.1" fill="none"/>
<circle cx="288.0" cy="175.0" r="2.8" fill="#fb0d1b"/>
<path d="M288.0 172.6v4.8M286.2 172.6h3.6M286.2 177.4h3.6" stroke="#000" stroke-width="1.1" fill="none"/>
<circle cx="311.2" cy="190.0" r="2.8" fill="#fb0d1b"/>
<path d="M311.2 189.2v1.6M309.4 189.2h3.6M309.4 190.8h3.6" stroke="#000" stroke-width="1.1" fill="none"/>
<circle cx="294.9" cy="206.5" r="2.8" fill="#fb0d1b"/>
<path d="M294.9 204.1v4.8M293.1 204.1h3.6M293.1 208.9h3.6" stroke="#000" stroke-width="1.1" fill="none"/>
<circle cx="297.7" cy="176.8" r="2.8" fill="#fb0d1b"/>
<path d="M297.7 175.6v2.4M295.9 175.6h3.6M295.9 178.0h3.6" stroke="#000" stroke-width="1.1" fill="none"/>
<circle cx="299.3" cy="176.2" r="2.8" fill="#fb0d1b"/>
<path d="M299.3 174.6v3.2M297.5 174.6h3.6M297.5 177.8h3.6" stroke="#000" stroke-width="1.1" fill="none"/>
<circle cx="294.7" cy="188.5" r="2.8" fill="#fb0d1b"/>
<path d="M294.7 186.9v3.2M292.9 186.9h3.6M292.9 190.1h3.6" stroke="#000" stroke-width="1.1" fill="none"/>
<circle cx="320.0" cy="183.4" r="2.8" fill="#fb0d1b"/>
<path d="M320.0 182.2v2.4M318.2 182.2h3.6M318.2 184.6h3.6" stroke="#000" stroke-width="1.1" fill="none"/>
<circle cx="310.7" cy="195.9" r="2.8" fill="#fb0d1b"/>
<path d="M310.7 194.7v2.4M308.9 194.7h3.6M308.9 197.1h3.6" stroke="#000" stroke-width="1.1" fill="none"/>
<circle cx="289.7" cy="207.8" r="2.8" fill="#fb0d1b"/>
<path d="M289.7 206.6v2.4M287.9 206.6h3.6M287.9 209.0h3.6" stroke="#000" stroke-width="1.1" fill="none"/>
<circle cx="284.7" cy="189.1" r="2.8" fill="#fb0d1b"/>
<path d="M284.7 188.6v1.0M282.9 188.6h3.6M282.9 189.6h3.6" stroke="#000" stroke-width="1.1" fill="none"/>
<circle cx="293.5" cy="183.0" r="2.8" fill="#fb0d1b"/>
<path d="M293.5 181.4v3.2M291.7 181.4h3.6M291.7 184.6h3.6" stroke="#000" stroke-width="1.1" fill="none"/>
<circle cx="296.1" cy="189.9" r="2.8" fill="#fb0d1b"/>
<path d="M296.1 189.1v1.6M294.3 189.1h3.6M294.3 190.7h3.6" stroke="#000" stroke-width="1.1" fill="none"/>
<circle cx="309.0" cy="179.2" r="2.8" fill="#fb0d1b"/>
<path d="M309.0 178.0v2.4M307.2 178.0h3.6M307.2 180.4h3.6" stroke="#000" stroke-width="1.1" fill="none"/>
<circle cx="299.6" cy="182.5" r="2.8" fill="#fb0d1b"/>
<path d="M299.6 182.0v1.0M297.8 182.0h3.6M297.8 183.0h3.6" stroke="#000" stroke-width="1.1" fill="none"/>
<circle cx="297.5" cy="203.5" r="2.8" fill="#fb0d1b"/>
<path d="M297.5 202.3v2.4M295.7 202.3h3.6M295.7 204.7h3.6" stroke="#000" stroke-width="1.1" fill="none"/>
<circle cx="319.8" cy="200.9" r="2.8" fill="#fb0d1b"/>
<path d="M319.8 199.7v2.4M318.0 199.7h3.6M318.0 202.1h3.6" stroke="#000" stroke-width="1.1" fill="none"/>
<circle cx="317.6" cy="190.3" r="2.8" fill="#fb0d1b"/>
<path d="M317.6 187.9v4.8M315.8 187.9h3.6M315.8 192.7h3.6" stroke="#000" stroke-width="1.1" fill="none"/>
<circle cx="302.4" cy="202.7" r="2.8" fill="#fb0d1b"/>
<path d="M302.4 202.2v1.0M300.6 202.2h3.6M300.6 203.2h3.6" stroke="#000" stroke-width="1.1" fill="none"/>
<circle cx="284.9" cy="157.1" r="2.8" fill="#fb0d1b"/>
<path d="M284.9 155.5v3.2M283.1 155.5h3.6M283.1 158.7h3.6" stroke="#000" stroke-width="1.1" fill="none"/>
<circle cx="318.7" cy="205.5" r="2.8" fill="#fb0d1b"/>
<path d="M318.7 204.7v1.6M316.9 204.7h3.6M316.9 206.3h3.6" stroke="#000" stroke-width="1.1" fill="none"/>
<circle cx="318.1" cy="185.1" r="2.8" fill="#fb0d1b"/>
<path d="M318.1 183.5v3.2M316.3 183.5h3.6M316.3 186.7h3.6" stroke="#000" stroke-width="1.1" fill="none"/>
<circle cx="293.5" cy="201.7" r="2.8" fill="#fb0d1b"/>
<path d="M293.5 200.9v1.6M291.7 200.9h3.6M291.7 202.5h3.6" stroke="#000" stroke-width="1.1" fill="none"/>
<circle cx="295.3" cy="190.8" r="2.8" fill="#fb0d1b"/>
<path d="M295.3 189.2v3.2M293.5 189.2h3.6M293.5 192.4h3.6" stroke="#000" stroke-width="1.1" fill="none"/>
<circle cx="308.6" cy="161.9" r="2.8" fill="#fb0d1b"/>
<path d="M308.6 159.5v4.8M306.8 159.5h3.6M306.8 164.3h3.6" stroke="#000" stroke-width="1.1" fill="none"/>
<circle cx="321.7" cy="201.9" r="2.8" fill="#fb0d1b"/>
<path d="M321.7 200.7v2.4M319.9 200.7h3.6M319.9 203.1h3.6" stroke="#000" stroke-width="1.1" fill="none"/>
<circle cx="308.1" cy="205.7" r="2.8" fill="#fb0d1b"/>
<path d="M308.1 204.5v2.4M306.3 204.5h3.6M306.3 206.9h3.6" stroke="#000" stroke-width="1.1" fill="none"/>
<circle cx="280.5" cy="169.2" r="2.8" fill="#fb0d1b"/>
<path d="M280.5 168.4v1.6M278.7 168.4h3.6M278.7 170.0h3.6" stroke="#000" stroke-width="1.1" fill="none"/>
<circle cx="304.0" cy="193.4" r="2.8" fill="#fb0d1b"/>
<path d="M304.0 192.9v1.0M302.2 192.9h3.6M302.2 193.9h3.6" stroke="#000" stroke-width="1.1" fill="none"/>
<circle cx="312.7" cy="180.2" r="2.8" fill="#fb0d1b"/>
<path d="M312.7 179.7v1.0M310.9 179.7h3.6M310.9 180.7h3.6" stroke="#000" stroke-width="1.1" fill="none"/>
<circle cx="306.3" cy="192.1" r="2.8" fill="#fb0d1b"/>
<path d="M306.3 190.9v2.4M304.5 190.9h3.6M304.5 193.3h3.6" stroke="#000" stroke-width="1.1" fill="none"/>
<circle cx="294.8" cy="185.6" r="2.8" fill="#fb0d1b"/>
<path d="M294.8 184.4v2.4M293.0 184.4h3.6M293.0 186.8h3.6" stroke="#000" stroke-width="1.1" fill="none"/>
<circle cx="312.1" cy="198.6" r="2.8" fill="#fb0d1b"/>
<path d="M312.1 197.0v3.2M310.3 197.0h3.6M310.3 200.2h3.6" stroke="#000" stroke-width="1.1" fill="none"/>
<circle cx="302.2" cy="201.5" r="2.8" fill="#fb0d1b"/>
<path d="M302.2 199.1v4.8M300.4 199.1h3.6M300.4 203.9h3.6" stroke="#000" stroke-width="1.1" fill="none"/>
<circle cx="318.3" cy="195.0" r="2.8" fill="#fb0d1b"/>
<path d="M318.3 194.5v1.0M316.5 194.5h3.6M316.5 195.5h3.6" stroke="#000" stroke-width="1.1" fill="none"/>
<circle cx="288.2" cy="195.8" r="2.8" fill="#fb0d1b"/>
<path d="M288.2 194.6v2.4M286.4 194.6h3.6M286.4 197.0h3.6" stroke="#000" stroke-width="1.1" fill="none"/>
<circle cx="295.5" cy="179.7" r="2.8" fill="#fb0d1b"/>
<path d="M295.5 178.9v1.6M293.7 178.9h3.6M293.7 180.5h3.6" stroke="#000" stroke-width="1.1" fill="none"/>
<circle cx="306.8" cy="183.3" r="2.8" fill="#fb0d1b"/>
<path d="M306.8 182.5v1.6M305.0 182.5h3.6M305.0 184.1h3.6" stroke="#000" stroke-width="1.1" fill="none"/>
<circle cx="310.8" cy="174.0" r="2.8" fill="#fb0d1b"/>
<path d="M310.8 171.6v4.8M309.0 171.6h3.6M309.0 176.4h3.6" stroke="#000" stroke-width="1.1" fill="none"/>
<circle cx="296.3" cy="201.8" r="2.8" fill="#fb0d1b"/>
<path d="M296.3 201.3v1.0M294.5 201.3h3.6M294.5 202.3h3.6" stroke="#000" stroke-width="1.1" fill="none"/>
<circle cx="321.4" cy="193.5" r="2.8" fill="#fb0d1b"/>
<path d="M321.4 192.7v1.6M319.6 192.7h3.6M319.6 194.3h3.6" stroke="#000" stroke-width="1.1" fill="none"/>
<circle cx="291.4" cy="163.7" r="2.8" fill="#fb0d1b"/>
<path d="M291.4 162.5v2.4M289.6 162.5h3.6M289.6 164.9h3.6" stroke="#000" stroke-width="1.1" fill="none"/>
<circle cx="280.0" cy="204.7" r="2.8" fill="#fb0d1b"/>
<path d="M280.0 202.3v4.8M278.2 202.3h3.6M278.2 207.1h3.6" stroke="#000" stroke-width="1.1" fill="none"/>
<circle cx="297.5" cy="174.5" r="2.8" fill="#fb0d1b"/>
<path d="M297.5 173.7v1.6M295.7 173.7h3.6M295.7 175.3h3.6" stroke="#000" stroke-width="1.1" fill="none"/>
<circle cx="314.7" cy="182.9" r="2.8" fill="#fb0d1b"/>
<path d="M314.7 180.5v4.8M312.9 180.5h3.6M312.9 185.3h3.6" stroke="#000" stroke-width="1.1" fill="none"/>
<circle cx="305.5" cy="176.4" r="2.8" fill="#fb0d1b"/>
<path d="M305.5 175.2v2.4M303.7 175.2h3.6M303.7 177.6h3.6" stroke="#000" stroke-width="1.1" fill="none"/>
<circle cx="286.5" cy="189.1" r="2.8" fill="#fb0d1b"/>
<path d="M286.5 187.5v3.2M284.7 187.5h3.6M284.7 190.7h3.6" stroke="#000" stroke-width="1.1" fill="none"/>
<circle cx="312.8" cy="203.5" r="2.8" fill="#fb0d1b"/>
<path d="M312.8 201.9v3.2M311.0 201.9h3.6M311.0 205.1h3.6" stroke="#000" stroke-width="1.1" fill="none"/>
<circle cx="328.1" cy="191.9" r="2.8" fill="#fb0d1b"/>
<path d="M328.1 191.1v1.6M326.3 191.1h3.6M326.3 192.7h3.6" stroke="#000" stroke-width="1.1" fill="none"/>
<circle cx="315.8" cy="199.2" r="2.8" fill="#fb0d1b"/>
<path d="M315.8 198.7v1.0M314.0 198.7h3.6M314.0 199.7h3.6" stroke="#000" stroke-width="1.1" fill="none"/>
<circle cx="325.0" cy="194.4" r="2.8" fill="#fb0d1b"/>
<path d="M325.0 193.9v1.0M323.2 193.9h3.6M323.2 194.9h3.6" stroke="#000" stroke-width="1.1" fill="none"/>
<circle cx="299.6" cy="163.1" r="2.8" fill="#fb0d1b"/>
<path d="M299.6 162.6v1.0M297.8 162.6h3.6M297.8 163.6h3.6" stroke="#000" stroke-width="1.1" fill="none"/>
<circle cx="282.7" cy="198.2" r="2.8" fill="#fb0d1b"/>
<path d="M282.7 197.4v1.6M280.9 197.4h3.6M280.9 199.0h3.6" stroke="#000" stroke-width="1.1" fill="none"/>
<circle cx="314.3" cy="200.0" r="2.8" fill="#fb0d1b"/>
<path d="M314.3 199.2v1.6M312.5 199.2h3.6M312.5 200.8h3.6" stroke="#000" stroke-width="1.1" fill="none"/>
<circle cx="300.6" cy="200.4" r="2.8" fill="#fb0d1b"/>
<path d="M300.6 198.8v3.2M298.8 198.8h3.6M298.8 202.0h3.6" stroke="#000" stroke-width="1.1" fill="none"/>
<circle cx="310.3" cy="186.1" r="2.8" fill="#fb0d1b"/>
<path d="M310.3 184.5v3.2M308.5 184.5h3.6M308.5 187.7h3.6" stroke="#000" stroke-width="1.1" fill="none"/>
<circle cx="286.3" cy="192.7" r="2.8" fill="#fb0d1b"/>
<path d="M286.3 191.1v3.2M284.5 191.1h3.6M284.5 194.3h3.6" stroke="#000" stroke-width="1.1" fill="none"/>
<circle cx="293.0" cy="187.2" r="2.8" fill="#fb0d1b"/>
<path d="M293.0 186.0v2.4M291.2 186.0h3.6M291.2 188.4h3.6" stroke="#000" stroke-width="1.1" fill="none"/>
<circle cx="301.5" cy="185.2" r="2.8" fill="#fb0d1b"/>
<path d="M301.5 184.0v2.4M299.7 184.0h3.6M299.7 186.4h3.6" stroke="#000" stroke-width="1.1" fill="none"/>
<circle cx="303.1" cy="183.8" r="2.8" fill="#fb0d1b"/>
<path d="M303.1 183.0v1.6M301.3 183.0h3.6M301.3 184.6h3.6" stroke="#000" stroke-width="1.1" fill="none"/>
<circle cx="319.1" cy="201.9" r="2.8" fill="#fb0d1b"/>
<path d="M319.1 200.7v2.4M317.3 200.7h3.6M317.3 203.1h3.6" stroke="#000" stroke-width="1.1" fill="none"/>
<circle cx="283.4" cy="155.4" r="2.8" fill="#fb0d1b"/>
<path d="M283.4 153.0v4.8M281.6 153.0h3.6M281.6 157.8h3.6" stroke="#000" stroke-width="1.1" fill="none"/>
<circle cx="318.2" cy="199.3" r="2.8" fill="#fb0d1b"/>
<path d="M318.2 197.7v3.2M316.4 197.7h3.6M316.4 200.9h3.6" stroke="#000" stroke-width="1.1" fill="none"/>
<circle cx="290.1" cy="160.9" r="2.8" fill="#fb0d1b"/>
<path d="M290.1 160.1v1.6M288.3 160.1h3.6M288.3 161.7h3.6" stroke="#000" stroke-width="1.1" fill="none"/>
<circle cx="302.1" cy="173.5" r="2.8" fill="#fb0d1b"/>
<path d="M302.1 171.1v4.8M300.3 171.1h3.6M300.3 175.9h3.6" stroke="#000" stroke-width="1.1" fill="none"/>
<circle cx="325.2" cy="187.7" r="2.8" fill="#fb0d1b"/>
<path d="M325.2 185.3v4.8M323.4 185.3h3.6M323.4 190.1h3.6" stroke="#000" stroke-width="1.1" fill="none"/>
<circle cx="285.9" cy="175.6" r="2.8" fill="#fb0d1b"/>
<path d="M285.9 174.8v1.6M284.1 174.8h3.6M284.1 176.4h3.6" stroke="#000" stroke-width="1.1" fill="none"/>
<circle cx="304.7" cy="185.0" r="2.8" fill="#fb0d1b"/>
<path d="M304.7 183.8v2.4M302.9 183.8h3.6M302.9 186.2h3.6" stroke="#000" stroke-width="1.1" fill="none"/>
<circle cx="326.4" cy="183.2" r="2.8" fill="#fb0d1b"/>
<path d="M326.4 182.0v2.4M324.6 182.0h3.6M324.6 184.4h3.6" stroke="#000" stroke-width="1.1" fill="none"/>
<circle cx="305.7" cy="196.0" r="2.8" fill="#fb0d1b"/>
<path d="M305.7 193.6v4.8M303.9 193.6h3.6M303.9 198.4h3.6" stroke="#000" stroke-width="1.1" fill="none"/>
<circle cx="322.2" cy="200.2" r="2.8" fill="#fb0d1b"/>
<path d="M322.2 199.7v1.0M320.4 199.7h3.6M320.4 200.7h3.6" stroke="#000" stroke-width="1.1" fill="none"/>
<circle cx="323.6" cy="194.4" r="2.8" fill="#fb0d1b"/>
<path d="M323.6 192.8v3.2M321.8 192.8h3.6M321.8 196.0h3.6" stroke="#000" stroke-width="1.1" fill="none"/>
<circle cx="313.2" cy="171.4" r="2.8" fill="#fb0d1b"/>
<path d="M313.2 170.9v1.0M311.4 170.9h3.6M311.4 171.9h3.6" stroke="#000" stroke-width="1.1" fill="none"/>
<circle cx="302.0" cy="180.7" r="2.8" fill="#fb0d1b"/>
<path d="M302.0 178.3v4.8M300.2 178.3h3.6M300.2 183.1h3.6" stroke="#000" stroke-width="1.1" fill="none"/>
<circle cx="290.6" cy="162.5" r="2.8" fill="#fb0d1b"/>
<path d="M290.6 161.3v2.4M288.8 161.3h3.6M288.8 163.7h3.6" stroke="#000" stroke-width="1.1" fill="none"/>
<circle cx="295.6" cy="177.8" r="2.8" fill="#fb0d1b"/>
<path d="M295.6 176.6v2.4M293.8 176.6h3.6M293.8 179.0h3.6" stroke="#000" stroke-width="1.1" fill="none"/>
<circle cx="321.4" cy="183.4" r="2.8" fill="#fb0d1b"/>
<path d="M321.4 182.9v1.0M319.6 182.9h3.6M319.6 183.9h3.6" stroke="#000" stroke-width="1.1" fill="none"/>
<circle cx="297.6" cy="194.8" r="2.8" fill="#fb0d1b"/>
<path d="M297.6 194.3v1.0M295.8 194.3h3.6M295.8 195.3h3.6" stroke="#000" stroke-width="1.1" fill="none"/>
<circle cx="306.6" cy="199.1" r="2.8" fill="#fb0d1b"/>
<path d="M306.6 197.5v3.2M304.8 197.5h3.6M304.8 200.7h3.6" stroke="#000" stroke-width="1.1" fill="none"/>
<circle cx="322.1" cy="185.0" r="2.8" fill="#fb0d1b"/>
<path d="M322.1 184.2v1.6M320.3 184.2h3.6M320.3 185.8h3.6" stroke="#000" stroke-width="1.1" fill="none"/>
<circle cx="327.4" cy="186.9" r="2.8" fill="#fb0d1b"/>
<path d="M327.4 185.3v3.2M325.6 185.3h3.6M325.6 188.5h3.6" stroke="#000" stroke-width="1.1" fill="none"/>
<circle cx="306.4" cy="199.3" r="2.8" fill="#fb0d1b"/>
<path d="M306.4 198.8v1.0M304.6 198.8h3.6M304.6 199.8h3.6" stroke="#000" stroke-width="1.1" fill="none"/>
<circle cx="292.0" cy="186.1" r="2.8" fill="#fb0d1b"/>
<path d="M292.0 185.6v1.0M290.2 185.6h3.6M290.2 186.6h3.6" stroke="#000" stroke-width="1.1" fill="none"/>
<circle cx="305.0" cy="188.9" r="2.8" fill="#fb0d1b"/>
<path d="M305.0 186.5v4.8M303.2 186.5h3.6M303.2 191.3h3.6" stroke="#000" stroke-width="1.1" fill="none"/>
<circle cx="305.8" cy="206.5" r="2.8" fill="#fb0d1b"/>
<path d="M305.8 205.7v1.6M304.0 205.7h3.6M304.0 207.3h3.6" stroke="#000" stroke-width="1.1" fill="none"/>
<circle cx="315.1" cy="197.1" r="2.8" fill="#fb0d1b"/>
<path d="M315.1 195.5v3.2M313.3 195.5h3.6M313.3 198.7h3.6" stroke="#000" stroke-width="1.1" fill="none"/>
<circle cx="314.1" cy="205.0" r="2.8" fill="#fb0d1b"/>
<path d="M314.1 204.5v1.0M312.3 204.5h3.6M312.3 205.5h3.6" stroke="#000" stroke-width="1.1" fill="none"/>
<circle cx="283.8" cy="173.5" r="2.8" fill="#fb0d1b"/>
<path d="M283.8 172.3v2.4M282.0 172.3h3.6M282.0 174.7h3.6" stroke="#000" stroke-width="1.1" fill="none"/>
<circle cx="314.0" cy="182.1" r="2.8" fill="#fb0d1b"/>
<path d="M314.0 180.5v3.2M312.2 180.5h3.6M312.2 183.7h3.6" stroke="#000" stroke-width="1.1" fill="none"/>
<circle cx="321.0" cy="183.8" r="2.8" fill="#fb0d1b"/>
<path d="M321.0 183.0v1.6M319.2 183.0h3.6M319.2 184.6h3.6" stroke="#000" stroke-width="1.1" fill="none"/>
<circle cx="318.1" cy="204.3" r="2.8" fill="#fb0d1b"/>
<path d="M318.1 203.5v1.6M316.3 203.5h3.6M316.3 205.1h3.6" stroke="#000" stroke-width="1.1" fill="none"/>
<circle cx="294.4" cy="193.4" r="2.8" fill="#fb0d1b"/>
<path d="M294.4 192.9v1.0M292.6 192.9h3.6M292.6 193.9h3.6" stroke="#000" stroke-width="1.1" fill="none"/>
<circle cx="294.9" cy="195.2" r="2.8" fill="#fb0d1b"/>
<path d="M294.9 194.0v2.4M293.1 194.0h3.6M293.1 196.4h3.6" stroke="#000" stroke-width="1.1" fill="none"/>
<circle cx="303.0" cy="187.2" r="2.8" fill="#fb0d1b"/>
<path d="M303.0 186.4v1.6M301.2 186.4h3.6M301.2 188.0h3.6" stroke="#000" stroke-width="1.1" fill="none"/>
<circle cx="283.2" cy="157.6" r="2.8" fill="#fb0d1b"/>
<path d="M283.2 156.0v3.2M281.4 156.0h3.6M281.4 159.2h3.6" stroke="#000" stroke-width="1.1" fill="none"/>
<circle cx="299.7" cy="168.7" r="2.8" fill="#fb0d1b"/>
<path d="M299.7 167.1v3.2M297.9 167.1h3.6M297.9 170.3h3.6" stroke="#000" stroke-width="1.1" fill="none"/>
<circle cx="309.9" cy="189.0" r="2.8" fill="#fb0d1b"/>
<path d="M309.9 187.4v3.2M308.1 187.4h3.6M308.1 190.6h3.6" stroke="#000" stroke-width="1.1" fill="none"/>
<circle cx="283.3" cy="200.9" r="2.8" fill="#fb0d1b"/>
<path d="M283.3 199.7v2.4M281.5 199.7h3.6M281.5 202.1h3.6" stroke="#000" stroke-width="1.1" fill="none"/>
<circle cx="300.3" cy="176.7" r="2.8" fill="#fb0d1b"/>
<path d="M300.3 176.2v1.0M298.5 176.2h3.6M298.5 177.2h3.6" stroke="#000" stroke-width="1.1" fill="none"/>
<circle cx="315.3" cy="205.3" r="2.8" fill="#fb0d1b"/>
<path d="M315.3 202.9v4.8M313.5 202.9h3.6M313.5 207.7h3.6" stroke="#000" stroke-width="1.1" fill="none"/>
<circle cx="325.0" cy="190.3" r="2.8" fill="#fb0d1b"/>
<path d="M325.0 187.9v4.8M323.2 187.9h3.6M323.2 192.7h3.6" stroke="#000" stroke-width="1.1" fill="none"/>
<circle cx="313.2" cy="173.7" r="2.8" fill="#fb0d1b"/>
<path d="M313.2 172.9v1.6M311.4 172.9h3.6M311.4 174.5h3.6" stroke="#000" stroke-width="1.1" fill="none"/>
<circle cx="311.9" cy="187.0" r="2.8" fill="#fb0d1b"/>
<path d="M311.9 184.6v4.8M310.1 184.6h3.6M310.1 189.4h3.6" stroke="#000" stroke-width="1.1" fill="none"/>
<circle cx="291.8" cy="182.6" r="2.8" fill="#fb0d1b"/>
<path d="M291.8 181.4v2.4M290.0 181.4h3.6M290.0 183.8h3.6" stroke="#000" stroke-width="1.1" fill="none"/>
<circle cx="302.6" cy="206.5" r="2.8" fill="#fb0d1b"/>
<path d="M302.6 204.1v4.8M300.8 204.1h3.6M300.8 208.9h3.6" stroke="#000" stroke-width="1.1" fill="none"/>
<circle cx="325.4" cy="197.8" r="2.8" fill="#fb0d1b"/>
<path d="M325.4 197.3v1.0M323.6 197.3h3.6M323.6 198.3h3.6" stroke="#000" stroke-width="1.1" fill="none"/>
<circle cx="295.4" cy="191.9" r="2.8" fill="#fb0d1b"/>
<path d="M295.4 190.3v3.2M293.6 190.3h3.6M293.6 193.5h3.6" stroke="#000" stroke-width="1.1" fill="none"/>
<circle cx="319.8" cy="196.1" r="2.8" fill="#fb0d1b"/>
<path d="M319.8 193.7v4.8M318.0 193.7h3.6M318.0 198.5h3.6" stroke="#000" stroke-width="1.1" fill="none"/>
<circle cx="295.8" cy="199.7" r="2.8" fill="#fb0d1b"/>
<path d="M295.8 198.5v2.4M294.0 198.5h3.6M294.0 200.9h3.6" stroke="#000" stroke-width="1.1" fill="none"/>
<circle cx="286.1" cy="172.5" r="2.8" fill="#fb0d1b"/>
<path d="M286.1 171.7v1.6M284.3 171.7h3.6M284.3 173.3h3.6" stroke="#000" stroke-width="1.1" fill="none"/>
<circle cx="314.9" cy="206.2" r="2.8" fill="#fb0d1b"/>
<path d="M314.9 205.7v1.0M313.1 205.7h3.6M313.1 206.7h3.6" stroke="#000" stroke-width="1.1" fill="none"/>
<circle cx="304.9" cy="208.6" r="2.8" fill="#fb0d1b"/>
<path d="M304.9 207.8v1.6M303.1 207.8h3.6M303.1 209.4h3.6" stroke="#000" stroke-width="1.1" fill="none"/>
<circle cx="297.2" cy="200.4" r="2.8" fill="#fb0d1b"/>
<path d="M297.2 199.9v1.0M295.4 199.9h3.6M295.4 200.9h3.6" stroke="#000" stroke-width="1.1" fill="none"/>
<circle cx="316.1" cy="201.6" r="2.8" fill="#fb0d1b"/>
<path d="M316.1 200.0v3.2M314.3 200.0h3.6M314.3 203.2h3.6" stroke="#000" stroke-width="1.1" fill="none"/>
<circle cx="326.1" cy="205.9" r="2.8" fill="#fb0d1b"/>
<path d="M326.1 205.4v1.0M324.3 205.4h3.6M324.3 206.4h3.6" stroke="#000" stroke-width="1.1" fill="none"/>
<circle cx="297.4" cy="202.0" r="2.8" fill="#fb0d1b"/>
<path d="M297.4 201.5v1.0M295.6 201.5h3.6M295.6 202.5h3.6" stroke="#000" stroke-width="1.1" fill="none"/>
<circle cx="296.5" cy="172.9" r="2.8" fill="#fb0d1b"/>
<path d="M296.5 172.1v1.6M294.7 172.1h3.6M294.7 173.7h3.6" stroke="#000" stroke-width="1.1" fill="none"/>
<circle cx="280.1" cy="204.9" r="2.8" fill="#fb0d1b"/>
<path d="M280.1 203.3v3.2M278.3 203.3h3.6M278.3 206.5h3.6" stroke="#000" stroke-width="1.1" fill="none"/>
<circle cx="308.6" cy="193.7" r="2.8" fill="#fb0d1b"/>
<path d="M308.6 193.2v1.0M306.8 193.2h3.6M306.8 194.2h3.6" stroke="#000" stroke-width="1.1" fill="none"/>
<circle cx="300.7" cy="205.9" r="2.8" fill="#fb0d1b"/>
<path d="M300.7 204.7v2.4M298.9 204.7h3.6M298.9 207.1h3.6" stroke="#000" stroke-width="1.1" fill="none"/>
<circle cx="301.9" cy="197.7" r="2.8" fill="#fb0d1b"/>
<path d="M301.9 196.1v3.2M300.1 196.1h3.6M300.1 199.3h3.6" stroke="#000" stroke-width="1.1" fill="none"/>
<circle cx="295.2" cy="175.9" r="2.8" fill="#fb0d1b"/>
<path d="M295.2 175.1v1.6M293.4 175.1h3.6M293.4 176.7h3.6" stroke="#000" stroke-width="1.1" fill="none"/>
<circle cx="315.9" cy="200.6" r="2.8" fill="#fb0d1b"/>
<path d="M315.9 200.1v1.0M314.1 200.1h3.6M314.1 201.1h3.6" stroke="#000" stroke-width="1.1" fill="none"/>
<circle cx="315.8" cy="203.6" r="2.8" fill="#fb0d1b"/>
<path d="M315.8 202.0v3.2M314.0 202.0h3.6M314.0 205.2h3.6" stroke="#000" stroke-width="1.1" fill="none"/>
<circle cx="301.3" cy="159.9" r="2.8" fill="#fb0d1b"/>
<path d="M301.3 158.3v3.2M299.5 158.3h3.6M299.5 161.5h3.6" stroke="#000" stroke-width="1.1" fill="none"/>
<circle cx="307.3" cy="188.0" r="2.8" fill="#fb0d1b"/>
<path d="M307.3 186.4v3.2M305.5 186.4h3.6M305.5 189.6h3.6" stroke="#000" stroke-width="1.1" fill="none"/>
<circle cx="291.7" cy="192.4" r="2.8" fill="#fb0d1b"/>
<path d="M291.7 191.9v1.0M289.9 191.9h3.6M289.9 192.9h3.6" stroke="#000" stroke-width="1.1" fill="none"/>
<circle cx="325.3" cy="196.6" r="2.8" fill="#fb0d1b"/>
<path d="M325.3 195.0v3.2M323.5 195.0h3.6M323.5 198.2h3.6" stroke="#000" stroke-width="1.1" fill="none"/>
<circle cx="321.9" cy="204.2" r="2.8" fill="#fb0d1b"/>
<path d="M321.9 201.8v4.8M320.1 201.8h3.6M320.1 206.6h3.6" stroke="#000" stroke-width="1.1" fill="none"/>
<circle cx="285.1" cy="171.7" r="2.8" fill="#fb0d1b"/>
<path d="M285.1 170.1v3.2M283.3 170.1h3.6M283.3 173.3h3.6" stroke="#000" stroke-width="1.1" fill="none"/>
<circle cx="288.9" cy="205.4" r="2.8" fill="#fb0d1b"/>
<path d="M288.9 203.0v4.8M287.1 203.0h3.6M287.1 207.8h3.6" stroke="#000" stroke-width="1.1" fill="none"/>
<circle cx="291.4" cy="190.1" r="2.8" fill="#fb0d1b"/>
<path d="M291.4 189.3v1.6M289.6 189.3h3.6M289.6 190.9h3.6" stroke="#000" stroke-width="1.1" fill="none"/>
<circle cx="327.2" cy="206.4" r="2.8" fill="#fb0d1b"/>
<path d="M327.2 204.0v4.8M325.4 204.0h3.6M325.4 208.8h3.6" stroke="#000" stroke-width="1.1" fill="none"/>
<circle cx="301.9" cy="182.4" r="2.8" fill="#fb0d1b"/>
<path d="M301.9 181.2v2.4M300.1 181.2h3.6M300.1 183.6h3.6" stroke="#000" stroke-width="1.1" fill="none"/>
<circle cx="323.7" cy="186.1" r="2.8" fill="#fb0d1b"/>
<path d="M323.7 184.5v3.2M321.9 184.5h3.6M321.9 187.7h3.6" stroke="#000" stroke-width="1.1" fill="none"/>
<circle cx="283.1" cy="174.0" r="2.8" fill="#fb0d1b"/>
<path d="M283.1 171.6v4.8M281.3 171.6h3.6M281.3 176.4h3.6" stroke="#000" stroke-width="1.1" fill="none"/>
<circle cx="293.9" cy="197.4" r="2.8" fill="#fb0d1b"/>
<path d="M293.9 196.2v2.4M292.1 196.2h3.6M292.1 198.6h3.6" stroke="#000" stroke-width="1.1" fill="none"/>
<circle cx="317.6" cy="188.2" r="2.8" fill="#fb0d1b"/>
<path d="M317.6 187.4v1.6M315.8 187.4h3.6M315.8 189.0h3.6" stroke="#000" stroke-width="1.1" fill="none"/>
<circle cx="294.3" cy="205.8" r="2.8" fill="#fb0d1b"/>
<path d="M294.3 203.4v4.8M292.5 203.4h3.6M292.5 208.2h3.6" stroke="#000" stroke-width="1.1" fill="none"/>
<circle cx="300.9" cy="167.9" r="2.8" fill="#fb0d1b"/>
<path d="M300.9 167.4v1.0M299.1 167.4h3.6M299.1 168.4h3.6" stroke="#000" stroke-width="1.1" fill="none"/>
<circle cx="310.0" cy="204.2" r="2.8" fill="#fb0d1b"/>
<path d="M310.0 203.4v1.6M308.2 203.4h3.6M308.2 205.0h3.6" stroke="#000" stroke-width="1.1" fill="none"/>
<circle cx="293.7" cy="170.9" r="2.8" fill="#fb0d1b"/>
<path d="M293.7 168.5v4.8M291.9 168.5h3.6M291.9 173.3h3.6" stroke="#000" stroke-width="1.1" fill="none"/>
<circle cx="326.0" cy="201.3" r="2.8" fill="#fb0d1b"/>
<path d="M326.0 200.5v1.6M324.2 200.5h3.6M324.2 202.1h3.6" stroke="#000" stroke-width="1.1" fill="none"/>
<circle cx="285.0" cy="197.5" r="2.8" fill="#fb0d1b"/>
<path d="M285.0 196.7v1.6M283.2 196.7h3.6M283.2 198.3h3.6" stroke="#000" stroke-width="1.1" fill="none"/>
<circle cx="297.2" cy="193.3" r="2.8" fill="#fb0d1b"/>
<path d="M297.2 191.7v3.2M295.4 191.7h3.6M295.4 194.9h3.6" stroke="#000" stroke-width="1.1" fill="none"/>
<circle cx="283.5" cy="158.0" r="2.8" fill="#fb0d1b"/>
<path d="M283.5 156.4v3.2M281.7 156.4h3.6M281.7 159.6h3.6" stroke="#000" stroke-width="1.1" fill="none"/>
<circle cx="321.6" cy="178.2" r="2.8" fill="#fb0d1b"/>
<path d="M321.6 177.0v2.4M319.8 177.0h3.6M319.8 179.4h3.6" stroke="#000" stroke-width="1.1" fill="none"/>
<circle cx="322.1" cy="188.2" r="2.8" fill="#fb0d1b"/>
<path d="M322.1 186.6v3.2M320.3 186.6h3.6M320.3 189.8h3.6" stroke="#000" stroke-width="1.1" fill="none"/>
<circle cx="320.6" cy="198.1" r="2.8" fill="#fb0d1b"/>
<path d="M320.6 197.3v1.6M318.8 197.3h3.6M318.8 198.9h3.6" stroke="#000" stroke-width="1.1" fill="none"/>
<circle cx="299.0" cy="170.4" r="2.8" fill="#fb0d1b"/>
<path d="M299.0 169.9v1.0M297.2 169.9h3.6M297.2 170.9h3.6" stroke="#000" stroke-width="1.1" fill="none"/>
<circle cx="324.3" cy="201.9" r="2.8" fill="#fb0d1b"/>
<path d="M324.3 201.1v1.6M322.5 201.1h3.6M322.5 202.7h3.6" stroke="#000" stroke-width="1.1" fill="none"/>
<circle cx="315.6" cy="199.8" r="2.8" fill="#fb0d1b"/>
<path d="M315.6 199.3v1.0M313.8 199.3h3.6M313.8 200.3h3.6" stroke="#000" stroke-width="1.1" fill="none"/>
<circle cx="287.4" cy="179.7" r="2.8" fill="#fb0d1b"/>
<path d="M287.4 178.5v2.4M285.6 178.5h3.6M285.6 180.9h3.6" stroke="#000" stroke-width="1.1" fill="none"/>
<circle cx="282.6" cy="159.6" r="2.8" fill="#fb0d1b"/>
<path d="M282.6 158.8v1.6M280.8 158.8h3.6M280.8 160.4h3.6" stroke="#000" stroke-width="1.1" fill="none"/>
<circle cx="300.3" cy="188.3" r="2.8" fill="#fb0d1b"/>
<path d="M300.3 187.1v2.4M298.5 187.1h3.6M298.5 189.5h3.6" stroke="#000" stroke-width="1.1" fill="none"/>
<circle cx="313.2" cy="171.7" r="2.8" fill="#fb0d1b"/>
<path d="M313.2 171.2v1.0M311.4 171.2h3.6M311.4 172.2h3.6" stroke="#000" stroke-width="1.1" fill="none"/>
<circle cx="287.1" cy="160.4" r="2.8" fill="#fb0d1b"/>
<path d="M287.1 158.8v3.2M285.3 158.8h3.6M285.3 162.0h3.6" stroke="#000" stroke-width="1.1" fill="none"/>
<circle cx="292.3" cy="199.6" r="2.8" fill="#fb0d1b"/>
<path d="M292.3 198.4v2.4M290.5 198.4h3.6M290.5 200.8h3.6" stroke="#000" stroke-width="1.1" fill="none"/>
<circle cx="295.7" cy="203.5" r="2.8" fill="#fb0d1b"/>
<path d="M295.7 201.9v3.2M293.9 201.9h3.6M293.9 205.1h3.6" stroke="#000" stroke-width="1.1" fill="none"/>
<circle cx="286.9" cy="206.3" r="2.8" fill="#fb0d1b"/>
<path d="M286.9 203.9v4.8M285.1 203.9h3.6M285.1 208.7h3.6" stroke="#000" stroke-width="1.1" fill="none"/>
<circle cx="298.5" cy="191.7" r="2.8" fill="#fb0d1b"/>
<path d="M298.5 190.5v2.4M296.7 190.5h3.6M296.7 192.9h3.6" stroke="#000" stroke-width="1.1" fill="none"/>
<circle cx="283.3" cy="184.5" r="2.8" fill="#fb0d1b"/>
<path d="M283.3 182.1v4.8M281.5 182.1h3.6M281.5 186.9h3.6" stroke="#000" stroke-width="1.1" fill="none"/>
<circle cx="293.2" cy="193.9" r="2.8" fill="#fb0d1b"/>
<path d="M293.2 192.3v3.2M291.4 192.3h3.6M291.4 195.5h3.6" stroke="#000" stroke-width="1.1" fill="none"/>
<circle cx="322.4" cy="185.2" r="2.8" fill="#fb0d1b"/>
<path d="M322.4 184.4v1.6M320.6 184.4h3.6M320.6 186.0h3.6" stroke="#000" stroke-width="1.1" fill="none"/>
<circle cx="302.0" cy="207.8" r="2.8" fill="#fb0d1b"/>
<path d="M302.0 205.4v4.8M300.2 205.4h3.6M300.2 210.2h3.6" stroke="#000" stroke-width="1.1" fill="none"/>
<circle cx="319.4" cy="194.7" r="2.8" fill="#fb0d1b"/>
<path d="M319.4 192.3v4.8M317.6 192.3h3.6M317.6 197.1h3.6" stroke="#000" stroke-width="1.1" fill="none"/>
<circle cx="318.7" cy="175.6" r="2.8" fill="#fb0d1b"/>
<path d="M318.7 173.2v4.8M316.9 173.2h3.6M316.9 178.0h3.6" stroke="#000" stroke-width="1.1" fill="none"/>
<circle cx="304.4" cy="172.5" r="2.8" fill="#fb0d1b"/>
<path d="M304.4 170.9v3.2M302.6 170.9h3.6M302.6 174.1h3.6" stroke="#000" stroke-width="1.1" fill="none"/>
<circle cx="309.5" cy="186.4" r="2.8" fill="#fb0d1b"/>
<path d="M309.5 185.6v1.6M307.7 185.6h3.6M307.7 187.2h3.6" stroke="#000" stroke-width="1.1" fill="none"/>
<circle cx="282.3" cy="170.6" r="2.8" fill="#fb0d1b"/>
<path d="M282.3 170.1v1.0M280.5 170.1h3.6M280.5 171.1h3.6" stroke="#000" stroke-width="1.1" fill="none"/>
<circle cx="293.9" cy="206.2" r="2.8" fill="#fb0d1b"/>
<path d="M293.9 205.4v1.6M292.1 205.4h3.6M292.1 207.0h3.6" stroke="#000" stroke-width="1.1" fill="none"/>
<circle cx="318.3" cy="199.9" r="2.8" fill="#fb0d1b"/>
<path d="M318.3 198.3v3.2M316.5 198.3h3.6M316.5 201.5h3.6" stroke="#000" stroke-width="1.1" fill="none"/>
<circle cx="312.5" cy="182.6" r="2.8" fill="#fb0d1b"/>
<path d="M312.5 180.2v4.8M310.7 180.2h3.6M310.7 185.0h3.6" stroke="#000" stroke-width="1.1" fill="none"/>
<circle cx="294.1" cy="194.9" r="2.8" fill="#fb0d1b"/>
<path d="M294.1 193.7v2.4M292.3 193.7h3.6M292.3 196.1h3.6" stroke="#000" stroke-width="1.1" fill="none"/>
<circle cx="308.6" cy="185.6" r="2.8" fill="#fb0d1b"/>
<path d="M308.6 184.4v2.4M306.8 184.4h3.6M306.8 186.8h3.6" stroke="#000" stroke-width="1.1" fill="none"/>
<circle cx="284.6" cy="180.1" r="2.8" fill="#fb0d1b"/>
<path d="M284.6 179.3v1.6M282.8 179.3h3.6M282.8 180.9h3.6" stroke="#000" stroke-width="1.1" fill="none"/>
<circle cx="293.1" cy="164.7" r="2.8" fill="#fb0d1b"/>
<path d="M293.1 162.3v4.8M291.3 162.3h3.6M291.3 167.1h3.6" stroke="#000" stroke-width="1.1" fill="none"/>
<circle cx="288.8" cy="190.3" r="2.8" fill="#fb0d1b"/>
<path d="M288.8 189.8v1.0M287.0 189.8h3.6M287.0 190.8h3.6" stroke="#000" stroke-width="1.1" fill="none"/>
<circle cx="300.7" cy="202.0" r="2.8" fill="#fb0d1b"/>
<path d="M300.7 199.6v4.8M298.9 199.6h3.6M298.9 204.4h3.6" stroke="#000" stroke-width="1.1" fill="none"/>
<circle cx="287.8" cy="186.6" r="2.8" fill="#fb0d1b"/>
<path d="M287.8 185.8v1.6M286.0 185.8h3.6M286.0 187.4h3.6" stroke="#000" stroke-width="1.1" fill="none"/>
<circle cx="288.1" cy="208.2" r="2.8" fill="#fb0d1b"/>
<path d="M288.1 207.0v2.4M286.3 207.0h3.6M286.3 209.4h3.6" stroke="#000" stroke-width="1.1" fill="none"/>
<circle cx="294.2" cy="185.4" r="2.8" fill="#fb0d1b"/>
<path d="M294.2 183.8v3.2M292.4 183.8h3.6M292.4 187.0h3.6" stroke="#000" stroke-width="1.1" fill="none"/>
<circle cx="281.1" cy="186.7" r="2.8" fill="#fb0d1b"/>
<path d="M281.1 184.3v4.8M279.3 184.3h3.6M279.3 189.1h3.6" stroke="#000" stroke-width="1.1" fill="none"/>
<circle cx="297.1" cy="190.0" r="2.8" fill="#fb0d1b"/>
<path d="M297.1 188.4v3.2M295.3 188.4h3.6M295.3 191.6h3.6" stroke="#000" stroke-width="1.1" fill="none"/>
<circle cx="313.7" cy="172.2" r="2.8" fill="#fb0d1b"/>
<path d="M313.7 169.8v4.8M311.9 169.8h3.6M311.9 174.6h3.6" stroke="#000" stroke-width="1.1" fill="none"/>
<circle cx="302.9" cy="205.1" r="2.8" fill="#fb0d1b"/>
<path d="M302.9 203.5v3.2M301.1 203.5h3.6M301.1 206.7h3.6" stroke="#000" stroke-width="1.1" fill="none"/>
<circle cx="286.2" cy="147.8" r="2.8" fill="#fb0d1b"/>
<path d="M286.2 147.3v1.0M284.4 147.3h3.6M284.4 148.3h3.6" stroke="#000" stroke-width="1.1" fill="none"/>
<circle cx="286.9" cy="204.8" r="2.8" fill="#fb0d1b"/>
<path d="M286.9 203.6v2.4M285.1 203.6h3.6M285.1 206.0h3.6" stroke="#000" stroke-width="1.1" fill="none"/>
<circle cx="300.1" cy="181.4" r="2.8" fill="#fb0d1b"/>
<path d="M300.1 180.6v1.6M298.3 180.6h3.6M298.3 182.2h3.6" stroke="#000" stroke-width="1.1" fill="none"/>
<circle cx="298.2" cy="183.0" r="2.8" fill="#fb0d1b"/>
<path d="M298.2 182.2v1.6M296.4 182.2h3.6M296.4 183.8h3.6" stroke="#000" stroke-width="1.1" fill="none"/>
<circle cx="292.3" cy="189.7" r="2.8" fill="#fb0d1b"/>
<path d="M292.3 188.9v1.6M290.5 188.9h3.6M290.5 190.5h3.6" stroke="#000" stroke-width="1.1" fill="none"/>
<circle cx="316.8" cy="181.0" r="2.8" fill="#fb0d1b"/>
<path d="M316.8 180.5v1.0M315.0 180.5h3.6M315.0 181.5h3.6" stroke="#000" stroke-width="1.1" fill="none"/>
<circle cx="295.2" cy="187.1" r="2.8" fill="#fb0d1b"/>
<path d="M295.2 185.9v2.4M293.4 185.9h3.6M293.4 188.3h3.6" stroke="#000" stroke-width="1.1" fill="none"/>
<circle cx="328.0" cy="196.5" r="2.8" fill="#fb0d1b"/>
<path d="M328.0 196.0v1.0M326.2 196.0h3.6M326.2 197.0h3.6" stroke="#000" stroke-width="1.1" fill="none"/>
<circle cx="287.5" cy="196.0" r="2.8" fill="#fb0d1b"/>
<path d="M287.5 194.4v3.2M285.7 194.4h3.6M285.7 197.6h3.6" stroke="#000" stroke-width="1.1" fill="none"/>
<circle cx="296.8" cy="200.2" r="2.8" fill="#fb0d1b"/>
<path d="M296.8 199.7v1.0M295.0 199.7h3.6M295.0 200.7h3.6" stroke="#000" stroke-width="1.1" fill="none"/>
<circle cx="309.4" cy="180.0" r="2.8" fill="#fb0d1b"/>
<path d="M309.4 178.4v3.2M307.6 178.4h3.6M307.6 181.6h3.6" stroke="#000" stroke-width="1.1" fill="none"/>
<circle cx="287.3" cy="207.8" r="2.8" fill="#fb0d1b"/>
<path d="M287.3 205.4v4.8M285.5 205.4h3.6M285.5 210.2h3.6" stroke="#000" stroke-width="1.1" fill="none"/>
<circle cx="306.9" cy="198.5" r="2.8" fill="#fb0d1b"/>
<path d="M306.9 196.9v3.2M305.1 196.9h3.6M305.1 200.1h3.6" stroke="#000" stroke-width="1.1" fill="none"/>
<circle cx="292.7" cy="197.3" r="2.8" fill="#fb0d1b"/>
<path d="M292.7 196.5v1.6M290.9 196.5h3.6M290.9 198.1h3.6" stroke="#000" stroke-width="1.1" fill="none"/>
<circle cx="320.9" cy="202.2" r="2.8" fill="#fb0d1b"/>
<path d="M320.9 201.4v1.6M319.1 201.4h3.6M319.1 203.0h3.6" stroke="#000" stroke-width="1.1" fill="none"/>
<circle cx="302.5" cy="194.5" r="2.8" fill="#fb0d1b"/>
<path d="M302.5 192.9v3.2M300.7 192.9h3.6M300.7 196.1h3.6" stroke="#000" stroke-width="1.1" fill="none"/>
<circle cx="298.9" cy="194.0" r="2.8" fill="#fb0d1b"/>
<path d="M298.9 192.4v3.2M297.1 192.4h3.6M297.1 195.6h3.6" stroke="#000" stroke-width="1.1" fill="none"/>
<circle cx="283.7" cy="183.7" r="2.8" fill="#fb0d1b"/>
<path d="M283.7 182.1v3.2M281.9 182.1h3.6M281.9 185.3h3.6" stroke="#000" stroke-width="1.1" fill="none"/>
<circle cx="318.0" cy="193.8" r="2.8" fill="#fb0d1b"/>
<path d="M318.0 192.2v3.2M316.2 192.2h3.6M316.2 195.4h3.6" stroke="#000" stroke-width="1.1" fill="none"/>
<circle cx="287.2" cy="176.3" r="2.8" fill="#fb0d1b"/>
<path d="M287.2 175.5v1.6M285.4 175.5h3.6M285.4 177.1h3.6" stroke="#000" stroke-width="1.1" fill="none"/>
<circle cx="317.8" cy="204.3" r="2.8" fill="#fb0d1b"/>
<path d="M317.8 202.7v3.2M316.0 202.7h3.6M316.0 205.9h3.6" stroke="#000" stroke-width="1.1" fill="none"/>
<circle cx="304.5" cy="187.6" r="2.8" fill="#fb0d1b"/>
<path d="M304.5 186.8v1.6M302.7 186.8h3.6M302.7 188.4h3.6" stroke="#000" stroke-width="1.1" fill="none"/>
<circle cx="302.0" cy="203.4" r="2.8" fill="#fb0d1b"/>
<path d="M302.0 202.2v2.4M300.2 202.2h3.6M300.2 204.6h3.6" stroke="#000" stroke-width="1.1" fill="none"/>
<circle cx="295.7" cy="169.0" r="2.8" fill="#fb0d1b"/>
<path d="M295.7 166.6v4.8M293.9 166.6h3.6M293.9 171.4h3.6" stroke="#000" stroke-width="1.1" fill="none"/>
<circle cx="302.0" cy="188.4" r="2.8" fill="#fb0d1b"/>
<path d="M302.0 187.9v1.0M300.2 187.9h3.6M300.2 188.9h3.6" stroke="#000" stroke-width="1.1" fill="none"/>
<circle cx="301.9" cy="191.3" r="2.8" fill="#fb0d1b"/>
<path d="M301.9 189.7v3.2M300.1 189.7h3.6M300.1 192.9h3.6" stroke="#000" stroke-width="1.1" fill="none"/>
<circle cx="291.0" cy="185.6" r="2.8" fill="#fb0d1b"/>
<path d="M291.0 183.2v4.8M289.2 183.2h3.6M289.2 188.0h3.6" stroke="#000" stroke-width="1.1" fill="none"/>
<circle cx="310.1" cy="184.1" r="2.8" fill="#fb0d1b"/>
<path d="M310.1 182.9v2.4M308.3 182.9h3.6M308.3 185.3h3.6" stroke="#000" stroke-width="1.1" fill="none"/>
<circle cx="308.4" cy="201.0" r="2.8" fill="#fb0d1b"/>
<path d="M308.4 200.2v1.6M306.6 200.2h3.6M306.6 201.8h3.6" stroke="#000" stroke-width="1.1" fill="none"/>
<circle cx="325.2" cy="204.6" r="2.8" fill="#fb0d1b"/>
<path d="M325.2 203.8v1.6M323.4 203.8h3.6M323.4 205.4h3.6" stroke="#000" stroke-width="1.1" fill="none"/>
<circle cx="290.1" cy="181.9" r="2.8" fill="#fb0d1b"/>
<path d="M290.1 181.4v1.0M288.3 181.4h3.6M288.3 182.4h3.6" stroke="#000" stroke-width="1.1" fill="none"/>
<circle cx="282.8" cy="194.3" r="2.8" fill="#fb0d1b"/>
<path d="M282.8 193.1v2.4M281.0 193.1h3.6M281.0 195.5h3.6" stroke="#000" stroke-width="1.1" fill="none"/>
<circle cx="286.8" cy="202.9" r="2.8" fill="#fb0d1b"/>
<path d="M286.8 202.4v1.0M285.0 202.4h3.6M285.0 203.4h3.6" stroke="#000" stroke-width="1.1" fill="none"/>
<circle cx="299.5" cy="175.5" r="2.8" fill="#fb0d1b"/>
<path d="M299.5 174.7v1.6M297.7 174.7h3.6M297.7 176.3h3.6" stroke="#000" stroke-width="1.1" fill="none"/>
<circle cx="301.3" cy="177.2" r="2.8" fill="#fb0d1b"/>
<path d="M301.3 176.4v1.6M299.5 176.4h3.6M299.5 178.0h3.6" stroke="#000" stroke-width="1.1" fill="none"/>
<circle cx="319.2" cy="200.7" r="2.8" fill="#fb0d1b"/>
<path d="M319.2 198.3v4.8M317.4 198.3h3.6M317.4 203.1h3.6" stroke="#000" stroke-width="1.1" fill="none"/>
<circle cx="304.2" cy="205.6" r="2.8" fill="#fb0d1b"/>
<path d="M304.2 204.0v3.2M302.4 204.0h3.6M302.4 207.2h3.6" stroke="#000" stroke-width="1.1" fill="none"/>
<circle cx="292.6" cy="190.3" r="2.8" fill="#fb0d1b"/>
<path d="M292.6 189.1v2.4M290.8 189.1h3.6M290.8 191.5h3.6" stroke="#000" stroke-width="1.1" fill="none"/>
<circle cx="296.1" cy="183.5" r="2.8" fill="#fb0d1b"/>
<path d="M296.1 181.9v3.2M294.3 181.9h3.6M294.3 185.1h3.6" stroke="#000" stroke-width="1.1" fill="none"/>
<circle cx="299.3" cy="179.1" r="2.8" fill="#fb0d1b"/>
<path d="M299.3 178.3v1.6M297.5 178.3h3.6M297.5 179.9h3.6" stroke="#000" stroke-width="1.1" fill="none"/>
<circle cx="297.4" cy="184.7" r="2.8" fill="#fb0d1b"/>
<path d="M297.4 182.3v4.8M295.6 182.3h3.6M295.6 187.1h3.6" stroke="#000" stroke-width="1.1" fill="none"/>
<circle cx="308.0" cy="199.3" r="2.8" fill="#fb0d1b"/>
<path d="M308.0 198.1v2.4M306.2 198.1h3.6M306.2 200.5h3.6" stroke="#000" stroke-width="1.1" fill="none"/>
<circle cx="280.7" cy="197.2" r="2.8" fill="#fb0d1b"/>
<path d="M280.7 196.0v2.4M278.9 196.0h3.6M278.9 198.4h3.6" stroke="#000" stroke-width="1.1" fill="none"/>
<circle cx="297.0" cy="189.6" r="2.8" fill="#fb0d1b"/>
<path d="M297.0 187.2v4.8M295.2 187.2h3.6M295.2 192.0h3.6" stroke="#000" stroke-width="1.1" fill="none"/>
<circle cx="305.0" cy="182.5" r="2.8" fill="#fb0d1b"/>
<path d="M305.0 181.7v1.6M303.2 181.7h3.6M303.2 183.3h3.6" stroke="#000" stroke-width="1.1" fill="none"/>
<circle cx="288.7" cy="143.8" r="2.8" fill="#fb0d1b"/>
<path d="M288.7 141.4v4.8M286.9 141.4h3.6M286.9 146.2h3.6" stroke="#000" stroke-width="1.1" fill="none"/>
<circle cx="314.6" cy="204.9" r="2.8" fill="#fb0d1b"/>
<path d="M314.6 204.4v1.0M312.8 204.4h3.6M312.8 205.4h3.6" stroke="#000" stroke-width="1.1" fill="none"/>
<circle cx="283.5" cy="182.0" r="2.8" fill="#fb0d1b"/>
<path d="M283.5 181.5v1.0M281.7 181.5h3.6M281.7 182.5h3.6" stroke="#000" stroke-width="1.1" fill="none"/>
<circle cx="302.4" cy="200.5" r="2.8" fill="#fb0d1b"/>
<path d="M302.4 200.0v1.0M300.6 200.0h3.6M300.6 201.0h3.6" stroke="#000" stroke-width="1.1" fill="none"/>
<circle cx="319.2" cy="195.4" r="2.8" fill="#fb0d1b"/>
<path d="M319.2 194.6v1.6M317.4 194.6h3.6M317.4 196.2h3.6" stroke="#000" stroke-width="1.1" fill="none"/>
<circle cx="308.6" cy="200.1" r="2.8" fill="#fb0d1b"/>
<path d="M308.6 199.6v1.0M306.8 199.6h3.6M306.8 200.6h3.6" stroke="#000" stroke-width="1.1" fill="none"/>
<circle cx="294.1" cy="157.4" r="2.8" fill="#fb0d1b"/>
<path d="M294.1 155.8v3.2M292.3 155.8h3.6M292.3 159.0h3.6" stroke="#000" stroke-width="1.1" fill="none"/>
<circle cx="300.8" cy="204.0" r="2.8" fill="#fb0d1b"/>
<path d="M300.8 203.5v1.0M299.0 203.5h3.6M299.0 204.5h3.6" stroke="#000" stroke-width="1.1" fill="none"/>
<circle cx="327.4" cy="197.1" r="2.8" fill="#fb0d1b"/>
<path d="M327.4 195.9v2.4M325.6 195.9h3.6M325.6 198.3h3.6" stroke="#000" stroke-width="1.1" fill="none"/>
<circle cx="293.7" cy="196.6" r="2.8" fill="#fb0d1b"/>
<path d="M293.7 195.0v3.2M291.9 195.0h3.6M291.9 198.2h3.6" stroke="#000" stroke-width="1.1" fill="none"/>
<circle cx="299.7" cy="178.9" r="2.8" fill="#fb0d1b"/>
<path d="M299.7 177.7v2.4M297.9 177.7h3.6M297.9 180.1h3.6" stroke="#000" stroke-width="1.1" fill="none"/>
<circle cx="308.5" cy="197.1" r="2.8" fill="#fb0d1b"/>
<path d="M308.5 196.3v1.6M306.7 196.3h3.6M306.7 197.9h3.6" stroke="#000" stroke-width="1.1" fill="none"/>
<circle cx="306.3" cy="206.5" r="2.8" fill="#fb0d1b"/>
<path d="M306.3 205.7v1.6M304.5 205.7h3.6M304.5 207.3h3.6" stroke="#000" stroke-width="1.1" fill="none"/>
<circle cx="311.4" cy="195.9" r="2.8" fill="#fb0d1b"/>
<path d="M311.4 193.5v4.8M309.6 193.5h3.6M309.6 198.3h3.6" stroke="#000" stroke-width="1.1" fill="none"/>
<circle cx="281.9" cy="195.7" r="2.8" fill="#fb0d1b"/>
<path d="M281.9 194.9v1.6M280.1 194.9h3.6M280.1 196.5h3.6" stroke="#000" stroke-width="1.1" fill="none"/>
<circle cx="286.9" cy="171.0" r="2.8" fill="#fb0d1b"/>
<path d="M286.9 170.5v1.0M285.1 170.5h3.6M285.1 171.5h3.6" stroke="#000" stroke-width="1.1" fill="none"/>
<circle cx="303.4" cy="204.1" r="2.8" fill="#fb0d1b"/>
<path d="M303.4 203.3v1.6M301.6 203.3h3.6M301.6 204.9h3.6" stroke="#000" stroke-width="1.1" fill="none"/>
<circle cx="279.5" cy="187.7" r="2.8" fill="#fb0d1b"/>
<path d="M279.5 186.9v1.6M277.7 186.9h3.6M277.7 188.5h3.6" stroke="#000" stroke-width="1.1" fill="none"/>
<circle cx="307.8" cy="197.8" r="2.8" fill="#fb0d1b"/>
<path d="M307.8 195.4v4.8M306.0 195.4h3.6M306.0 200.2h3.6" stroke="#000" stroke-width="1.1" fill="none"/>
<circle cx="321.8" cy="182.9" r="2.8" fill="#fb0d1b"/>
<path d="M321.8 181.3v3.2M320.0 181.3h3.6M320.0 184.5h3.6" stroke="#000" stroke-width="1.1" fill="none"/>
<circle cx="280.4" cy="140.3" r="2.8" fill="#fb0d1b"/>
<path d="M280.4 139.1v2.4M278.6 139.1h3.6M278.6 141.5h3.6" stroke="#000" stroke-width="1.1" fill="none"/>
<circle cx="283.3" cy="152.1" r="2.8" fill="#fb0d1b"/>
<path d="M283.3 151.6v1.0M281.5 151.6h3.6M281.5 152.6h3.6" stroke="#000" stroke-width="1.1" fill="none"/>
<circle cx="284.9" cy="183.7" r="2.8" fill="#fb0d1b"/>
<path d="M284.9 182.5v2.4M283.1 182.5h3.6M283.1 184.9h3.6" stroke="#000" stroke-width="1.1" fill="none"/>
<circle cx="298.8" cy="178.1" r="2.8" fill="#fb0d1b"/>
<path d="M298.8 176.9v2.4M297.0 176.9h3.6M297.0 179.3h3.6" stroke="#000" stroke-width="1.1" fill="none"/>
<circle cx="294.1" cy="193.2" r="2.8" fill="#fb0d1b"/>
<path d="M294.1 192.7v1.0M292.3 192.7h3.6M292.3 193.7h3.6" stroke="#000" stroke-width="1.1" fill="none"/>
<circle cx="323.3" cy="179.0" r="2.8" fill="#fb0d1b"/>
<path d="M323.3 177.4v3.2M321.5 177.4h3.6M321.5 180.6h3.6" stroke="#000" stroke-width="1.1" fill="none"/>
<circle cx="293.3" cy="159.0" r="2.8" fill="#fb0d1b"/>
<path d="M293.3 156.6v4.8M291.5 156.6h3.6M291.5 161.4h3.6" stroke="#000" stroke-width="1.1" fill="none"/>
<circle cx="284.8" cy="205.5" r="2.8" fill="#fb0d1b"/>
<path d="M284.8 204.3v2.4M283.0 204.3h3.6M283.0 206.7h3.6" stroke="#000" stroke-width="1.1" fill="none"/>
<circle cx="296.3" cy="189.5" r="2.8" fill="#fb0d1b"/>
<path d="M296.3 189.0v1.0M294.5 189.0h3.6M294.5 190.0h3.6" stroke="#000" stroke-width="1.1" fill="none"/>
<circle cx="299.9" cy="201.9" r="2.8" fill="#fb0d1b"/>
<path d="M299.9 201.4v1.0M298.1 201.4h3.6M298.1 202.4h3.6" stroke="#000" stroke-width="1.1" fill="none"/>
<circle cx="291.3" cy="201.2" r="2.8" fill="#fb0d1b"/>
<path d="M291.3 200.0v2.4M289.5 200.0h3.6M289.5 202.4h3.6" stroke="#000" stroke-width="1.1" fill="none"/>
<circle cx="295.1" cy="195.1" r="2.8" fill="#fb0d1b"/>
<path d="M295.1 194.6v1.0M293.3 194.6h3.6M293.3 195.6h3.6" stroke="#000" stroke-width="1.1" fill="none"/>
<circle cx="300.2" cy="155.7" r="2.8" fill="#fb0d1b"/>
<path d="M300.2 153.3v4.8M298.4 153.3h3.6M298.4 158.1h3.6" stroke="#000" stroke-width="1.1" fill="none"/>
<circle cx="315.2" cy="202.1" r="2.8" fill="#fb0d1b"/>
<path d="M315.2 199.7v4.8M313.4 199.7h3.6M313.4 204.5h3.6" stroke="#000" stroke-width="1.1" fill="none"/>
<circle cx="322.3" cy="180.1" r="2.8" fill="#fb0d1b"/>
<path d="M322.3 177.7v4.8M320.5 177.7h3.6M320.5 182.5h3.6" stroke="#000" stroke-width="1.1" fill="none"/>
<circle cx="295.6" cy="171.7" r="2.8" fill="#fb0d1b"/>
<path d="M295.6 170.9v1.6M293.8 170.9h3.6M293.8 172.5h3.6" stroke="#000" stroke-width="1.1" fill="none"/>
<circle cx="308.7" cy="182.6" r="2.8" fill="#fb0d1b"/>
<path d="M308.7 181.0v3.2M306.9 181.0h3.6M306.9 184.2h3.6" stroke="#000" stroke-width="1.1" fill="none"/>
<circle cx="289.4" cy="205.2" r="2.8" fill="#fb0d1b"/>
<path d="M289.4 204.0v2.4M287.6 204.0h3.6M287.6 206.4h3.6" stroke="#000" stroke-width="1.1" fill="none"/>
<circle cx="298.1" cy="189.9" r="2.8" fill="#fb0d1b"/>
<path d="M298.1 188.7v2.4M296.3 188.7h3.6M296.3 191.1h3.6" stroke="#000" stroke-width="1.1" fill="none"/>
<circle cx="319.1" cy="191.4" r="2.8" fill="#fb0d1b"/>
<path d="M319.1 190.2v2.4M317.3 190.2h3.6M317.3 192.6h3.6" stroke="#000" stroke-width="1.1" fill="none"/>
<circle cx="288.1" cy="186.7" r="2.8" fill="#fb0d1b"/>
<path d="M288.1 186.2v1.0M286.3 186.2h3.6M286.3 187.2h3.6" stroke="#000" stroke-width="1.1" fill="none"/>
<circle cx="319.2" cy="203.0" r="2.8" fill="#fb0d1b"/>
<path d="M319.2 202.2v1.6M317.4 202.2h3.6M317.4 203.8h3.6" stroke="#000" stroke-width="1.1" fill="none"/>
<circle cx="312.9" cy="208.3" r="2.8" fill="#fb0d1b"/>
<path d="M312.9 207.5v1.6M311.1 207.5h3.6M311.1 209.1h3.6" stroke="#000" stroke-width="1.1" fill="none"/>
<circle cx="325.1" cy="198.6" r="2.8" fill="#fb0d1b"/>
<path d="M325.1 197.4v2.4M323.3 197.4h3.6M323.3 199.8h3.6" stroke="#000" stroke-width="1.1" fill="none"/>
<circle cx="292.0" cy="172.3" r="2.8" fill="#fb0d1b"/>
<path d="M292.0 171.1v2.4M290.2 171.1h3.6M290.2 173.5h3.6" stroke="#000" stroke-width="1.1" fill="none"/>
<circle cx="308.4" cy="185.0" r="2.8" fill="#fb0d1b"/>
<path d="M308.4 182.6v4.8M306.6 182.6h3.6M306.6 187.4h3.6" stroke="#000" stroke-width="1.1" fill="none"/>
<circle cx="314.8" cy="176.1" r="2.8" fill="#fb0d1b"/>
<path d="M314.8 175.6v1.0M313.0 175.6h3.6M313.0 176.6h3.6" stroke="#000" stroke-width="1.1" fill="none"/>
<circle cx="292.5" cy="155.7" r="2.8" fill="#fb0d1b"/>
<path d="M292.5 154.1v3.2M290.7 154.1h3.6M290.7 157.3h3.6" stroke="#000" stroke-width="1.1" fill="none"/>
<circle cx="325.5" cy="193.4" r="2.8" fill="#fb0d1b"/>
<path d="M325.5 192.6v1.6M323.7 192.6h3.6M323.7 194.2h3.6" stroke="#000" stroke-width="1.1" fill="none"/>
<circle cx="323.6" cy="207.8" r="2.8" fill="#fb0d1b"/>
<path d="M323.6 207.3v1.0M321.8 207.3h3.6M321.8 208.3h3.6" stroke="#000" stroke-width="1.1" fill="none"/>
<circle cx="284.5" cy="154.0" r="2.8" fill="#fb0d1b"/>
<path d="M284.5 152.8v2.4M282.7 152.8h3.6M282.7 155.2h3.6" stroke="#000" stroke-width="1.1" fill="none"/>
<circle cx="303.9" cy="174.1" r="2.8" fill="#fb0d1b"/>
<path d="M303.9 172.9v2.4M302.1 172.9h3.6M302.1 175.3h3.6" stroke="#000" stroke-width="1.1" fill="none"/>
<circle cx="314.6" cy="198.4" r="2.8" fill="#fb0d1b"/>
<path d="M314.6 197.2v2.4M312.8 197.2h3.6M312.8 199.6h3.6" stroke="#000" stroke-width="1.1" fill="none"/>
<circle cx="285.0" cy="150.0" r="2.2" fill="#2036d8"/>
<circle cx="286.5" cy="154.5" r="2.2" fill="#2036d8"/>
<circle cx="285.5" cy="159.0" r="2.2" fill="#2036d8"/>
<circle cx="287.2" cy="162.5" r="2.2" fill="#2036d8"/>
<circle cx="284.2" cy="146.0" r="2.2" fill="#2036d8"/>
<circle cx="320.8" cy="185.3" r="1.2" fill="#2036d8"/>
<circle cx="296.1" cy="194.8" r="1.2" fill="#2036d8"/>
<circle cx="323.1" cy="176.8" r="1.2" fill="#2036d8"/>
<circle cx="300.6" cy="191.8" r="1.2" fill="#2036d8"/>
<circle cx="310.7" cy="188.2" r="1.2" fill="#2036d8"/>
<circle cx="301.2" cy="180.9" r="1.2" fill="#2036d8"/>
<circle cx="317.5" cy="175.7" r="1.2" fill="#2036d8"/>
<circle cx="302.1" cy="197.1" r="1.2" fill="#2036d8"/>
<circle cx="317.7" cy="190.6" r="1.2" fill="#2036d8"/>
<circle cx="292.9" cy="185.3" r="1.2" fill="#2036d8"/>
<circle cx="325.0" cy="179.0" r="1.2" fill="#2036d8"/>
<circle cx="295.3" cy="179.4" r="1.2" fill="#2036d8"/>
<circle cx="323.1" cy="202.8" r="1.2" fill="#2036d8"/>
<circle cx="310.4" cy="203.6" r="1.2" fill="#2036d8"/>
<circle cx="329.5" cy="181.8" r="2.5" fill="#fb0d1b"/>
<path d="M329.5 178.6v6.3M328.3 178.6h2.4M328.3 184.9h2.4" stroke="#000" stroke-width="1.1" fill="none"/>
<circle cx="330.4" cy="183.8" r="2.5" fill="#fb0d1b"/>
<path d="M330.4 180.5v6.6M329.2 180.5h2.4M329.2 187.1h2.4" stroke="#000" stroke-width="1.1" fill="none"/>
<circle cx="331.3" cy="180.6" r="2.5" fill="#fb0d1b"/>
<path d="M331.3 178.0v5.1M330.1 178.0h2.4M330.1 183.1h2.4" stroke="#000" stroke-width="1.1" fill="none"/>
<circle cx="332.2" cy="179.1" r="2.5" fill="#fb0d1b"/>
<path d="M332.2 177.4v3.5M331.0 177.4h2.4M331.0 180.8h2.4" stroke="#000" stroke-width="1.1" fill="none"/>
<circle cx="333.1" cy="179.0" r="2.5" fill="#fb0d1b"/>
<path d="M333.1 176.3v5.6M331.9 176.3h2.4M331.9 181.8h2.4" stroke="#000" stroke-width="1.1" fill="none"/>
<circle cx="334.0" cy="181.5" r="2.5" fill="#fb0d1b"/>
<path d="M334.0 178.8v5.3M332.8 178.8h2.4M332.8 184.1h2.4" stroke="#000" stroke-width="1.1" fill="none"/>
<circle cx="334.9" cy="180.0" r="2.5" fill="#fb0d1b"/>
<path d="M334.9 176.9v6.4M333.7 176.9h2.4M333.7 183.2h2.4" stroke="#000" stroke-width="1.1" fill="none"/>
<circle cx="335.8" cy="188.2" r="2.5" fill="#fb0d1b"/>
<path d="M335.8 184.7v7.0M334.6 184.7h2.4M334.6 191.7h2.4" stroke="#000" stroke-width="1.1" fill="none"/>
<circle cx="336.7" cy="191.1" r="2.5" fill="#fb0d1b"/>
<path d="M336.7 188.6v5.1M335.5 188.6h2.4M335.5 193.7h2.4" stroke="#000" stroke-width="1.1" fill="none"/>
<circle cx="337.6" cy="187.2" r="2.5" fill="#fb0d1b"/>
<path d="M337.6 183.8v6.8M336.4 183.8h2.4M336.4 190.6h2.4" stroke="#000" stroke-width="1.1" fill="none"/>
<circle cx="338.5" cy="187.6" r="2.5" fill="#fb0d1b"/>
<path d="M338.5 185.6v4.0M337.3 185.6h2.4M337.3 189.6h2.4" stroke="#000" stroke-width="1.1" fill="none"/>
<circle cx="339.4" cy="184.5" r="2.5" fill="#fb0d1b"/>
<path d="M339.4 181.8v5.4M338.2 181.8h2.4M338.2 187.2h2.4" stroke="#000" stroke-width="1.1" fill="none"/>
<circle cx="340.3" cy="191.0" r="2.5" fill="#fb0d1b"/>
<path d="M340.3 189.0v4.2M339.1 189.0h2.4M339.1 193.1h2.4" stroke="#000" stroke-width="1.1" fill="none"/>
<circle cx="341.2" cy="190.1" r="2.5" fill="#fb0d1b"/>
<path d="M341.2 187.1v5.8M340.0 187.1h2.4M340.0 193.0h2.4" stroke="#000" stroke-width="1.1" fill="none"/>
<circle cx="342.1" cy="191.1" r="2.5" fill="#fb0d1b"/>
<path d="M342.1 189.2v3.8M340.9 189.2h2.4M340.9 193.1h2.4" stroke="#000" stroke-width="1.1" fill="none"/>
<circle cx="343.0" cy="186.1" r="2.5" fill="#fb0d1b"/>
<path d="M343.0 182.9v6.4M341.8 182.9h2.4M341.8 189.3h2.4" stroke="#000" stroke-width="1.1" fill="none"/>
<circle cx="343.9" cy="188.8" r="2.5" fill="#fb0d1b"/>
<path d="M343.9 186.3v4.9M342.7 186.3h2.4M342.7 191.2h2.4" stroke="#000" stroke-width="1.1" fill="none"/>
<circle cx="344.8" cy="194.1" r="2.5" fill="#fb0d1b"/>
<path d="M344.8 192.2v3.8M343.6 192.2h2.4M343.6 196.0h2.4" stroke="#000" stroke-width="1.1" fill="none"/>
<circle cx="345.7" cy="188.2" r="2.5" fill="#fb0d1b"/>
<path d="M345.7 185.1v6.2M344.5 185.1h2.4M344.5 191.3h2.4" stroke="#000" stroke-width="1.1" fill="none"/>
<circle cx="346.6" cy="195.9" r="2.5" fill="#fb0d1b"/>
<path d="M346.6 194.3v3.0M345.4 194.3h2.4M345.4 197.4h2.4" stroke="#000" stroke-width="1.1" fill="none"/>
<circle cx="347.5" cy="195.7" r="2.5" fill="#fb0d1b"/>
<path d="M347.5 192.9v5.7M346.3 192.9h2.4M346.3 198.6h2.4" stroke="#000" stroke-width="1.1" fill="none"/>
<circle cx="348.4" cy="191.9" r="2.5" fill="#fb0d1b"/>
<path d="M348.4 189.0v5.8M347.2 189.0h2.4M347.2 194.8h2.4" stroke="#000" stroke-width="1.1" fill="none"/>
<circle cx="349.3" cy="195.9" r="2.5" fill="#fb0d1b"/>
<path d="M349.3 194.2v3.3M348.1 194.2h2.4M348.1 197.5h2.4" stroke="#000" stroke-width="1.1" fill="none"/>
<circle cx="350.2" cy="198.4" r="2.5" fill="#fb0d1b"/>
<path d="M350.2 195.4v6.1M349.0 195.4h2.4M349.0 201.5h2.4" stroke="#000" stroke-width="1.1" fill="none"/>
<circle cx="351.1" cy="194.1" r="2.5" fill="#fb0d1b"/>
<path d="M351.1 192.3v3.6M349.9 192.3h2.4M349.9 195.9h2.4" stroke="#000" stroke-width="1.1" fill="none"/>
<circle cx="352.0" cy="196.8" r="2.5" fill="#fb0d1b"/>
<path d="M352.0 195.3v3.0M350.8 195.3h2.4M350.8 198.3h2.4" stroke="#000" stroke-width="1.1" fill="none"/>
<circle cx="352.9" cy="197.8" r="2.7" fill="#fb0d1b"/>
<path d="M352.9 194.4v6.8M352.0 194.4h1.8M352.0 201.2h1.8" stroke="#000" stroke-width="1.1" fill="none"/>
<circle cx="355.2" cy="200.6" r="2.7" fill="#fb0d1b"/>
<path d="M355.2 197.2v6.8M354.3 197.2h1.8M354.3 204.0h1.8" stroke="#000" stroke-width="1.1" fill="none"/>
<circle cx="357.5" cy="202.0" r="2.7" fill="#fb0d1b"/>
<path d="M357.5 198.6v6.8M356.6 198.6h1.8M356.6 205.4h1.8" stroke="#000" stroke-width="1.1" fill="none"/>
<circle cx="359.8" cy="202.5" r="2.7" fill="#fb0d1b"/>
<path d="M359.8 199.1v6.8M358.9 199.1h1.8M358.9 205.9h1.8" stroke="#000" stroke-width="1.1" fill="none"/>
<circle cx="362.1" cy="203.7" r="2.7" fill="#fb0d1b"/>
<path d="M362.1 200.3v6.8M361.2 200.3h1.8M361.2 207.1h1.8" stroke="#000" stroke-width="1.1" fill="none"/>
<circle cx="364.4" cy="205.6" r="2.7" fill="#fb0d1b"/>
<path d="M364.4 202.2v6.8M363.5 202.2h1.8M363.5 209.0h1.8" stroke="#000" stroke-width="1.1" fill="none"/>
<circle cx="366.7" cy="207.0" r="2.7" fill="#fb0d1b"/>
<path d="M366.7 203.6v6.8M365.8 203.6h1.8M365.8 210.4h1.8" stroke="#000" stroke-width="1.1" fill="none"/>
<circle cx="369.0" cy="208.1" r="2.7" fill="#fb0d1b"/>
<path d="M369.0 204.7v6.8M368.1 204.7h1.8M368.1 211.5h1.8" stroke="#000" stroke-width="1.1" fill="none"/>
<circle cx="371.3" cy="210.0" r="2.7" fill="#fb0d1b"/>
<path d="M371.3 206.6v6.8M370.4 206.6h1.8M370.4 213.4h1.8" stroke="#000" stroke-width="1.1" fill="none"/>
<circle cx="373.6" cy="211.1" r="2.7" fill="#fb0d1b"/>
<path d="M373.6 207.7v6.8M372.7 207.7h1.8M372.7 214.5h1.8" stroke="#000" stroke-width="1.1" fill="none"/>
<circle cx="375.9" cy="212.7" r="2.7" fill="#fb0d1b"/>
<path d="M375.9 209.3v6.8M375.0 209.3h1.8M375.0 216.1h1.8" stroke="#000" stroke-width="1.1" fill="none"/>
<circle cx="378.2" cy="214.2" r="2.7" fill="#fb0d1b"/>
<path d="M378.2 210.8v6.8M377.3 210.8h1.8M377.3 217.6h1.8" stroke="#000" stroke-width="1.1" fill="none"/>
<circle cx="380.5" cy="216.3" r="2.7" fill="#fb0d1b"/>
<path d="M380.5 212.9v6.8M379.6 212.9h1.8M379.6 219.7h1.8" stroke="#000" stroke-width="1.1" fill="none"/>
<circle cx="382.8" cy="217.0" r="2.7" fill="#fb0d1b"/>
<path d="M382.8 213.6v6.8M381.9 213.6h1.8M381.9 220.4h1.8" stroke="#000" stroke-width="1.1" fill="none"/>
<circle cx="385.1" cy="219.8" r="2.7" fill="#fb0d1b"/>
<path d="M385.1 216.4v6.8M384.2 216.4h1.8M384.2 223.2h1.8" stroke="#000" stroke-width="1.1" fill="none"/>
<circle cx="387.4" cy="221.1" r="2.7" fill="#fb0d1b"/>
<path d="M387.4 217.7v6.8M386.5 217.7h1.8M386.5 224.5h1.8" stroke="#000" stroke-width="1.1" fill="none"/>
</g>
<rect x="48.90" y="8.10" width="430.50" height="301.40" fill="none" stroke="#6c767a" stroke-width="1.25"/>
<path d="M56.56 309.50v-2.90M56.56 8.10v2.90M64.53 309.50v-2.90M64.53 8.10v2.90M70.19 309.50v-2.90M70.19 8.10v2.90M74.57 309.50v-2.90M74.57 8.10v2.90M78.16 309.50v-2.90M78.16 8.10v2.90M81.19 309.50v-2.90M81.19 8.10v2.90M83.81 309.50v-2.90M83.81 8.10v2.90M86.13 309.50v-2.90M86.13 8.10v2.90M101.83 309.50v-2.90M101.83 8.10v2.90M109.80 309.50v-2.90M109.80 8.10v2.90M115.46 309.50v-2.90M115.46 8.10v2.90M119.84 309.50v-2.90M119.84 8.10v2.90M123.43 309.50v-2.90M123.43 8.10v2.90M126.46 309.50v-2.90M126.46 8.10v2.90M129.08 309.50v-2.90M129.08 8.10v2.90M131.40 309.50v-2.90M131.40 8.10v2.90M147.10 309.50v-2.90M147.10 8.10v2.90M155.07 309.50v-2.90M155.07 8.10v2.90M160.73 309.50v-2.90M160.73 8.10v2.90M165.11 309.50v-2.90M165.11 8.10v2.90M168.70 309.50v-2.90M168.70 8.10v2.90M171.73 309.50v-2.90M171.73 8.10v2.90M174.35 309.50v-2.90M174.35 8.10v2.90M176.67 309.50v-2.90M176.67 8.10v2.90M192.37 309.50v-2.90M192.37 8.10v2.90M200.34 309.50v-2.90M200.34 8.10v2.90M206.00 309.50v-2.90M206.00 8.10v2.90M210.38 309.50v-2.90M210.38 8.10v2.90M213.97 309.50v-2.90M213.97 8.10v2.90M217.00 309.50v-2.90M217.00 8.10v2.90M219.62 309.50v-2.90M219.62 8.10v2.90M221.94 309.50v-2.90M221.94 8.10v2.90M237.64 309.50v-2.90M237.64 8.10v2.90M245.61 309.50v-2.90M245.61 8.10v2.90M251.27 309.50v-2.90M251.27 8.10v2.90M255.65 309.50v-2.90M255.65 8.10v2.90M259.24 309.50v-2.90M259.24 8.10v2.90M262.27 309.50v-2.90M262.27 8.10v2.90M264.89 309.50v-2.90M264.89 8.10v2.90M267.21 309.50v-2.90M267.21 8.10v2.90M282.91 309.50v-2.90M282.91 8.10v2.90M290.88 309.50v-2.90M290.88 8.10v2.90M296.54 309.50v-2.90M296.54 8.10v2.90M300.92 309.50v-2.90M300.92 8.10v2.90M304.51 309.50v-2.90M304.51 8.10v2.90M307.54 309.50v-2.90M307.54 8.10v2.90M310.16 309.50v-2.90M310.16 8.10v2.90M312.48 309.50v-2.90M312.48 8.10v2.90M328.18 309.50v-2.90M328.18 8.10v2.90M336.15 309.50v-2.90M336.15 8.10v2.90M341.81 309.50v-2.90M341.81 8.10v2.90M346.19 309.50v-2.90M346.19 8.10v2.90M349.78 309.50v-2.90M349.78 8.10v2.90M352.81 309.50v-2.90M352.81 8.10v2.90M355.43 309.50v-2.90M355.43 8.10v2.90M357.75 309.50v-2.90M357.75 8.10v2.90M373.45 309.50v-2.90M373.45 8.10v2.90M381.42 309.50v-2.90M381.42 8.10v2.90M387.08 309.50v-2.90M387.08 8.10v2.90M391.46 309.50v-2.90M391.46 8.10v2.90M395.05 309.50v-2.90M395.05 8.10v2.90M398.08 309.50v-2.90M398.08 8.10v2.90M400.70 309.50v-2.90M400.70 8.10v2.90M403.02 309.50v-2.90M403.02 8.10v2.90M418.72 309.50v-2.90M418.72 8.10v2.90M426.69 309.50v-2.90M426.69 8.10v2.90M432.35 309.50v-2.90M432.35 8.10v2.90M436.73 309.50v-2.90M436.73 8.10v2.90M440.32 309.50v-2.90M440.32 8.10v2.90M443.35 309.50v-2.90M443.35 8.10v2.90M445.97 309.50v-2.90M445.97 8.10v2.90M448.29 309.50v-2.90M448.29 8.10v2.90M463.99 309.50v-2.90M463.99 8.10v2.90M471.96 309.50v-2.90M471.96 8.10v2.90M477.62 309.50v-2.90M477.62 8.10v2.90M48.90 294.67h4.00M479.40 294.67h-4.00M48.90 285.82h4.00M479.40 285.82h-4.00M48.90 279.55h4.00M479.40 279.55h-4.00M48.90 274.68h4.00M479.40 274.68h-4.00M48.90 270.70h4.00M479.40 270.70h-4.00M48.90 267.33h4.00M479.40 267.33h-4.00M48.90 264.42h4.00M479.40 264.42h-4.00M48.90 261.85h4.00M479.40 261.85h-4.00M48.90 244.42h4.00M479.40 244.42h-4.00M48.90 235.57h4.00M479.40 235.57h-4.00M48.90 229.30h4.00M479.40 229.30h-4.00M48.90 224.43h4.00M479.40 224.43h-4.00M48.90 220.45h4.00M479.40 220.45h-4.00M48.90 217.08h4.00M479.40 217.08h-4.00M48.90 214.17h4.00M479.40 214.17h-4.00M48.90 211.60h4.00M479.40 211.60h-4.00M48.90 194.17h4.00M479.40 194.17h-4.00M48.90 185.32h4.00M479.40 185.32h-4.00M48.90 179.05h4.00M479.40 179.05h-4.00M48.90 174.18h4.00M479.40 174.18h-4.00M48.90 170.20h4.00M479.40 170.20h-4.00M48.90 166.83h4.00M479.40 166.83h-4.00M48.90 163.92h4.00M479.40 163.92h-4.00M48.90 161.35h4.00M479.40 161.35h-4.00M48.90 143.92h4.00M479.40 143.92h-4.00M48.90 135.07h4.00M479.40 135.07h-4.00M48.90 128.80h4.00M479.40 128.80h-4.00M48.90 123.93h4.00M479.40 123.93h-4.00M48.90 119.95h4.00M479.40 119.95h-4.00M48.90 116.58h4.00M479.40 116.58h-4.00M48.90 113.67h4.00M479.40 113.67h-4.00M48.90 111.10h4.00M479.40 111.10h-4.00M48.90 93.67h4.00M479.40 93.67h-4.00M48.90 84.82h4.00M479.40 84.82h-4.00M48.90 78.55h4.00M479.40 78.55h-4.00M48.90 73.68h4.00M479.40 73.68h-4.00M48.90 69.70h4.00M479.40 69.70h-4.00M48.90 66.33h4.00M479.40 66.33h-4.00M48.90 63.42h4.00M479.40 63.42h-4.00M48.90 60.85h4.00M479.40 60.85h-4.00M48.90 43.42h4.00M479.40 43.42h-4.00M48.90 34.57h4.00M479.40 34.57h-4.00M48.90 28.30h4.00M479.40 28.30h-4.00M48.90 23.43h4.00M479.40 23.43h-4.00M48.90 19.45h4.00M479.40 19.45h-4.00M48.90 16.08h4.00M479.40 16.08h-4.00M48.90 13.17h4.00M479.40 13.17h-4.00M48.90 10.60h4.00M479.40 10.60h-4.00" stroke="#000" stroke-width="0.9" fill="none"/>
<path d="M88.20 309.50v-6.40M88.20 8.10v6.40M133.47 309.50v-6.40M133.47 8.10v6.40M178.74 309.50v-6.40M178.74 8.10v6.40M224.01 309.50v-6.40M224.01 8.10v6.40M269.28 309.50v-6.40M269.28 8.10v6.40M314.55 309.50v-6.40M314.55 8.10v6.40M359.82 309.50v-6.40M359.82 8.10v6.40M405.09 309.50v-6.40M405.09 8.10v6.40M450.36 309.50v-6.40M450.36 8.10v6.40M48.90 259.55h7.20M479.40 259.55h-7.20M48.90 209.30h7.20M479.40 209.30h-7.20M48.90 159.05h7.20M479.40 159.05h-7.20M48.90 108.80h7.20M479.40 108.80h-7.20M48.90 58.55h7.20M479.40 58.55h-7.20" stroke="#1c2228" stroke-width="0.85" fill="none"/>
<g font-family="'Liberation Sans', Arial, Helvetica, sans-serif" fill="#000">
<text x="74.03" y="327.00" font-size="13.3">10<tspan dy="-4.2">–</tspan><tspan font-size="10.0">2</tspan></text>
<text x="119.30" y="327.00" font-size="13.3">10<tspan dy="-4.2">–</tspan><tspan font-size="10.0">1</tspan></text>
<text x="169.17" y="327.00" font-size="13.3">10<tspan font-size="10.0" dy="-4.2">0</tspan></text>
<text x="214.44" y="327.00" font-size="13.3">10<tspan font-size="10.0" dy="-4.2">1</tspan></text>
<text x="259.71" y="327.00" font-size="13.3">10<tspan font-size="10.0" dy="-4.2">2</tspan></text>
<text x="304.98" y="327.00" font-size="13.3">10<tspan font-size="10.0" dy="-4.2">3</tspan></text>
<text x="350.25" y="327.00" font-size="13.3">10<tspan font-size="10.0" dy="-4.2">4</tspan></text>
<text x="395.52" y="327.00" font-size="13.3">10<tspan font-size="10.0" dy="-4.2">5</tspan></text>
<text x="440.79" y="327.00" font-size="13.3">10<tspan font-size="10.0" dy="-4.2">6</tspan></text>
<text x="17.46" y="312.20" font-size="13.3">10<tspan dy="-4.2">–</tspan><tspan font-size="10.0">2</tspan></text>
<text x="17.46" y="264.15" font-size="13.3">10<tspan dy="-4.2">–</tspan><tspan font-size="10.0">1</tspan></text>
<text x="25.85" y="213.90" font-size="13.3">10<tspan font-size="10.0" dy="-4.2">0</tspan></text>
<text x="25.85" y="163.65" font-size="13.3">10<tspan font-size="10.0" dy="-4.2">1</tspan></text>
<text x="25.85" y="113.40" font-size="13.3">10<tspan font-size="10.0" dy="-4.2">2</tspan></text>
<text x="25.85" y="63.15" font-size="13.3">10<tspan font-size="10.0" dy="-4.2">3</tspan></text>
<text x="25.85" y="12.90" font-size="13.3">10<tspan font-size="10.0" dy="-4.2">4</tspan></text>
<text x="264.5" y="346.5" font-size="13.5" text-anchor="middle">Neutron energy (eV)</text>
<text transform="translate(9.7 158.8) rotate(-90)" font-size="13.5" text-anchor="middle">Neutron capture cross section (b)</text>
</g>
<g font-family="'Liberation Sans', Arial, Helvetica, sans-serif" font-size="10" fill="#1cb41c">
<text x="363.4" y="26.35">JENDL−3.2</text>
<text x="363.4" y="38.43">ENDF/B−VI</text>
<text x="363.4" y="50.51">JEF−2.2</text>
<text x="363.4" y="62.59">Popov (1962)</text>
<text x="363.4" y="74.67">Gabbard (1959)</text>
<text x="363.4" y="86.75">Gibbons (1961)</text>
<text x="363.4" y="98.83">Weston (1960)</text>
<text x="363.4" y="110.91">Block (1961)</text>
<text x="363.4" y="122.99">Linenberger (1946)</text>
<text x="363.4" y="135.07">Macklin (1983)</text>
<text x="363.4" y="147.15">Yamamuro (1980)</text>
<text x="363.4" y="159.23">Stavisskii (1961)</text>
<text x="363.4" y="171.31">Shorin (1975)</text>
<text x="363.4" y="183.39">Present</text>
</g>
<path d="M336.9 22.75H360.3" stroke="#2036d8" stroke-width="1.1"/>
<path d="M337.9 34.83H360.3" stroke="#000" stroke-width="1.1" stroke-dasharray="2 4.4"/>
<path d="M336.9 46.91H360.3" stroke="#ff7622" stroke-width="1.1" stroke-dasharray="5 1 1 1"/>
<circle cx="349.4" cy="58.99" r="2.4" fill="none" stroke="#2036d8" stroke-width="1.5"/>
<path d="M345.7 68.67h7.4l-3.7 5.4z" fill="#22a050"/>
<text x="349.4" y="86.45" font-size="9.5" text-anchor="middle" fill="#000">★</text>
<path d="M349.4 90.83l3.4 4.4l-3.4 4.4l-3.4 -4.4z" fill="#fff" stroke="#000" stroke-width="1"/>
<circle cx="349.4" cy="107.31" r="3.1" fill="#2036d8"/>
<path d="M345.7 116.99h7.4l-3.7 5.6z" fill="#b535e8"/>
<path d="M336.9 131.47H360.3" stroke="#30b040" stroke-width="1.1"/>
<path d="M336.9 143.55H360.3" stroke="#a03060" stroke-width="1.1"/>
<rect x="346.4" y="152.63" width="6" height="6" fill="#6af7bb"/>
<path d="M337.9 167.71H360.3" stroke="#2036d8" stroke-width="1.1" stroke-dasharray="2.4 4.6"/>
<circle cx="349.4" cy="179.79" r="3.4" fill="#fb0d1b"/>
</svg></body></html>
